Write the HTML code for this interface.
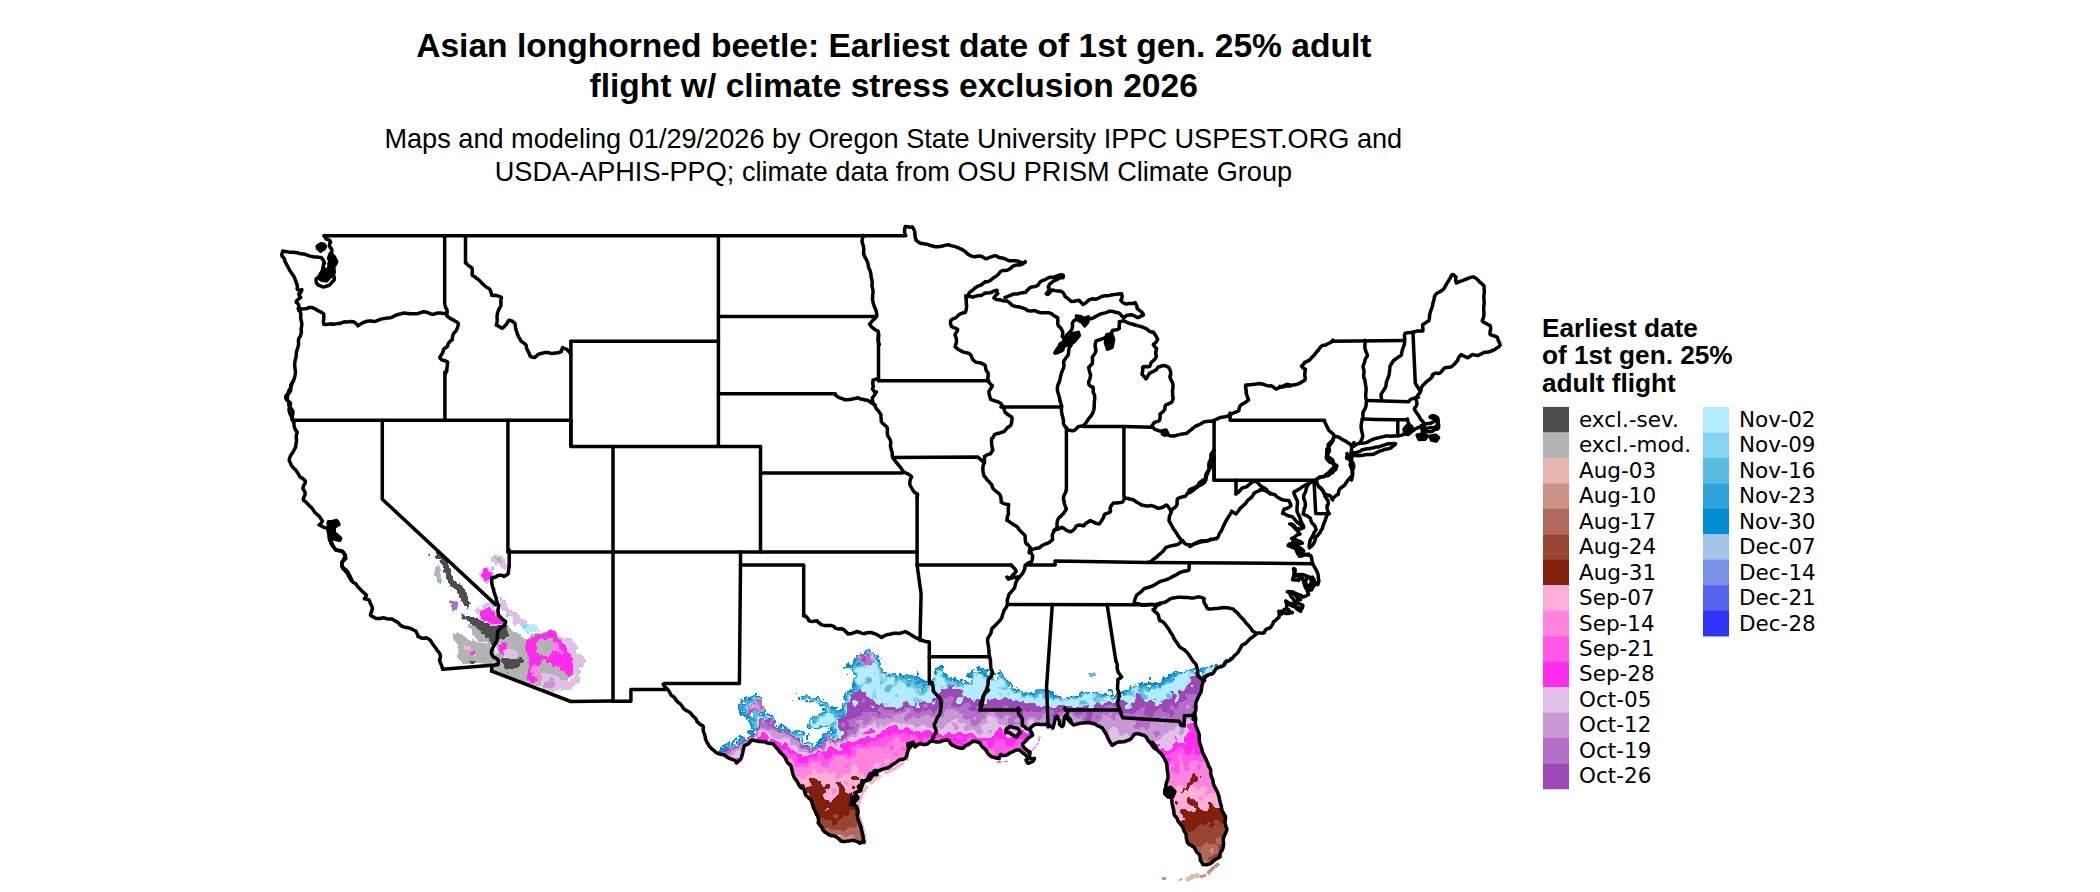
<!DOCTYPE html>
<html><head><meta charset="utf-8"><title>Asian longhorned beetle</title>
<style>
html,body{margin:0;padding:0;background:#fff;}
body{width:2100px;height:892px;position:relative;overflow:hidden;font-family:"Liberation Sans",sans-serif;}
svg{position:absolute;left:0;top:0;}
.t1{font:bold 33.6px "Liberation Sans",sans-serif;text-anchor:middle;}
.t2{font:27.13px "Liberation Sans",sans-serif;text-anchor:middle;}
.lt{font:bold 26.2px "Liberation Sans",sans-serif;}
.ll text{font:20.3px "DejaVu Sans",sans-serif;}
</style></head><body>
<svg width="2100" height="892" viewBox="0 0 2100 892">
<g id="title" fill="#000">
<text class="t1" x="893.8" y="57.2">Asian longhorned beetle: Earliest date of 1st gen. 25% adult</text>
<text class="t1" x="893.7" y="97.2">flight w/ climate stress exclusion 2026</text>
<text class="t2" x="893.3" y="147.7">Maps and modeling 01/29/2026 by Oregon State University IPPC USPEST.ORG and</text>
<text class="t2" x="893.4" y="180.9">USDA-APHIS-PPQ; climate data from OSU PRISM Climate Group</text>
</g>
<g id="raster" shape-rendering="crispEdges">
<path fill="#2E33F6" d="M847.2,675.0 846.5,674.8 847.8,674.0 848.0,674.2ZM931.8,676.0 931.5,675.2 932.2,674.5 932.5,675.2ZM823.8,700.0 823.0,699.8 823.2,699.0 824.0,699.2ZM828.8,729.5 828.0,727.8 828.2,727.5 829.5,728.2Z"/>
<path fill="#7B94EB" d="M878.8,655.5 878.0,655.2 878.2,654.0 879.0,654.2ZM1177.2,667.5 1176.8,667.5 1176.0,666.8 1177.2,666.5ZM1052.8,691.5 1051.8,691.5 1051.5,691.2 1052.2,690.5Z"/>
<path fill="#028CD2" d="M1202.8,865.0 1199.5,860.2 1199.0,856.8 1197.0,852.8 1194.5,849.2 1188.5,844.2 1185.5,836.2 1183.5,827.2 1177.5,820.2 1175.0,816.2 1174.0,814.2 1173.0,808.8 1171.5,805.2 1170.5,800.8 1168.0,795.8 1165.0,792.8 1166.0,787.8 1168.0,782.2 1168.0,772.2 1167.5,771.8 1166.0,764.2 1163.0,758.2 1157.5,750.8 1144.2,737.0 1138.8,733.5 1134.8,734.0 1130.8,739.0 1129.2,739.0 1118.8,742.0 1116.8,742.0 1111.8,745.5 1106.5,734.8 1101.2,728.5 1094.2,725.0 1092.2,725.0 1089.8,724.0 1073.2,724.5 1070.2,721.5 1068.0,720.2 1065.8,716.0 1062.2,726.0 1059.0,724.2 1057.5,715.8 1055.0,716.8 1054.5,722.2 1054.0,722.8 1054.0,726.2 1053.5,726.8 1053.2,729.0 1046.8,724.5 1035.8,724.5 1026.5,728.8 1033.0,734.8 1028.2,740.5 1023.2,743.5 1023.0,744.2 1025.2,748.0 1031.0,751.8 1028.0,756.8 1028.8,757.5 1035.5,758.2 1033.2,762.0 1032.2,762.0 1028.2,764.0 1026.0,759.8 1027.5,757.2 1025.8,756.0 1022.8,755.0 1018.8,750.5 1013.8,750.5 1008.2,755.5 1007.8,755.0 1001.8,755.0 999.2,759.5 997.2,758.5 992.2,757.5 985.5,750.8 979.2,742.5 977.2,742.5 974.2,741.5 971.8,741.5 967.8,743.5 963.2,747.5 962.8,747.0 956.2,747.0 948.8,742.0 946.8,742.0 943.8,741.0 931.8,741.0 927.8,743.0 920.2,745.5 917.8,747.0 915.8,746.0 914.2,746.0 913.5,744.8 913.5,743.2 912.8,742.5 908.2,743.5 908.0,744.8 908.5,745.2 909.0,749.8 906.5,754.8 901.2,760.0 895.2,764.0 888.2,767.5 882.2,768.5 877.2,772.0 872.8,774.0 870.0,779.2 865.2,782.0 863.0,784.8 860.5,791.2 855.0,793.2 857.0,797.2 857.0,798.2 854.8,802.5 850.5,803.8 854.8,806.5 855.5,807.8 858.0,818.2 859.0,820.2 859.0,821.8 862.5,832.8 864.0,842.2 862.8,841.5 859.8,844.0 852.2,841.0 840.8,840.0 823.0,831.2 814.0,812.8 809.5,799.2 803.0,789.2 795.0,779.8 791.5,771.8 791.5,770.8 790.0,768.2 790.0,767.2 782.5,753.8 772.8,743.0 766.8,741.0 758.8,741.0 758.2,741.5 751.8,741.5 750.8,742.0 745.5,745.8 743.5,751.8 743.5,753.2 742.0,756.8 742.0,758.2 736.8,764.0 728.8,758.0 718.0,751.8 720.0,749.2 720.5,747.2 721.2,746.5 722.2,748.5 724.0,747.8 723.2,746.5 721.8,746.5 721.5,745.8 722.8,744.5 723.2,745.0 724.8,744.0 725.8,744.0 726.2,743.0 727.8,743.0 729.0,741.8 728.5,741.2 728.8,740.0 729.5,740.2 729.0,740.8 729.5,741.2 729.5,745.2 730.2,746.0 731.0,745.2 731.0,743.8 732.0,742.8 732.0,741.2 732.8,741.0 735.8,737.5 737.2,737.0 737.5,738.8 735.8,740.0 733.8,742.5 732.5,742.8 732.8,743.5 737.2,746.0 738.5,744.8 736.0,744.2 736.0,741.8 738.0,740.2 738.8,738.5 740.0,738.2 739.2,737.0 738.0,736.8 738.8,735.5 740.2,734.5 741.8,736.5 742.2,736.0 743.8,737.0 745.2,736.5 745.0,738.2 746.2,739.5 747.0,738.8 746.5,737.2 747.2,736.5 748.8,737.0 751.0,734.8 747.8,734.0 747.0,731.8 748.8,730.0 753.2,729.5 753.5,728.8 752.2,728.5 751.8,729.0 751.0,728.2 750.5,725.8 749.5,725.2 749.5,723.2 747.0,720.8 749.0,720.2 748.8,718.5 748.2,718.5 746.8,720.5 745.5,718.2 746.0,717.2 745.8,716.5 744.8,716.5 743.8,717.5 743.5,715.8 742.8,715.0 741.2,716.5 740.0,716.2 739.5,713.8 738.5,712.2 739.0,710.8 738.0,709.2 738.0,704.8 737.5,704.2 739.2,704.0 740.0,703.2 740.0,702.2 741.5,701.2 741.2,700.5 739.0,699.2 739.2,699.0 741.8,698.5 742.0,699.8 743.2,700.0 744.0,699.2 744.0,697.8 744.8,697.0 745.8,697.0 746.2,696.0 747.0,696.8 747.0,698.2 748.2,699.0 748.2,697.0 749.2,696.5 751.2,697.0 751.8,696.0 754.8,694.5 755.8,693.0 757.0,693.8 757.0,694.8 756.0,695.2 756.2,696.5 756.8,696.0 759.8,696.0 761.2,697.0 762.0,698.2 762.5,701.8 761.5,702.8 761.5,703.8 762.5,705.8 764.5,706.8 764.0,707.8 766.0,709.8 766.0,711.2 764.5,712.2 764.5,714.8 764.0,715.2 764.8,715.5 765.8,715.0 766.8,713.0 769.2,714.0 770.2,715.0 770.8,714.5 772.2,715.0 775.5,720.2 775.5,722.8 774.5,723.2 774.5,724.2 777.0,725.2 777.5,726.2 777.0,727.2 777.2,728.0 778.0,727.8 778.0,726.8 780.0,724.2 781.5,723.2 781.8,721.5 782.5,722.2 782.0,723.2 783.0,724.8 789.2,729.0 789.8,728.5 791.0,731.2 792.2,732.0 793.2,731.0 794.2,731.5 796.8,729.5 799.2,730.0 800.2,731.0 803.8,731.5 805.0,732.8 804.5,733.8 805.0,734.2 803.0,736.2 802.5,737.8 803.0,742.2 804.8,743.5 807.2,741.5 810.8,743.0 811.8,742.5 813.0,744.2 813.0,746.2 813.8,747.0 814.8,747.0 814.5,745.8 815.8,744.5 817.5,744.2 817.2,743.0 816.2,743.5 815.5,742.8 816.2,742.0 817.2,742.5 819.0,739.2 821.5,737.8 822.0,734.8 823.0,734.2 823.0,733.2 824.8,732.5 825.2,733.0 826.8,733.0 827.2,731.0 830.2,730.5 830.5,727.8 828.8,725.5 828.5,726.2 826.8,727.5 822.8,727.0 819.2,729.0 818.2,728.5 817.2,729.0 816.8,728.5 813.8,728.5 813.2,728.0 809.2,729.0 807.0,727.8 806.5,725.2 808.5,723.8 808.5,721.2 809.5,719.8 809.5,718.8 811.8,717.5 813.2,715.5 815.2,715.5 817.2,717.0 818.0,716.2 818.0,714.8 819.8,713.0 821.8,713.5 822.8,712.0 825.8,712.5 826.0,711.8 823.8,710.5 822.8,711.5 822.0,709.2 822.8,707.5 823.2,708.0 825.8,708.0 826.0,707.2 823.8,705.5 822.8,705.5 821.8,707.0 820.8,706.0 819.2,706.0 818.5,703.8 814.2,701.0 813.8,701.5 811.8,701.5 809.8,703.0 809.0,702.2 810.0,699.8 807.8,698.0 805.8,699.5 801.8,700.0 801.0,699.2 800.5,697.8 801.0,696.8 800.5,696.2 804.2,696.0 806.2,694.0 809.2,696.0 810.2,696.0 811.0,697.8 812.8,699.0 814.8,697.5 815.8,698.0 816.8,699.5 816.0,697.8 817.0,696.8 816.5,696.2 817.2,695.5 819.0,696.8 819.0,697.8 821.8,701.0 825.2,702.5 825.8,702.0 827.2,702.5 829.0,706.2 830.2,707.5 831.5,707.2 831.2,706.0 832.8,706.0 834.2,707.0 837.8,706.5 838.0,708.2 835.5,708.8 835.5,710.2 836.2,711.5 837.8,710.0 839.2,710.5 840.2,709.0 841.2,709.5 842.0,708.8 842.0,706.2 842.5,705.8 842.0,702.8 842.5,702.8 843.2,704.5 844.2,704.5 844.0,703.2 844.8,703.0 846.0,701.2 843.0,698.8 844.0,697.2 843.0,696.8 844.0,695.2 844.0,694.2 845.0,693.8 844.5,692.2 845.8,692.0 846.5,693.8 847.2,694.0 847.2,691.0 849.2,690.5 850.2,689.0 853.2,689.5 854.0,688.8 852.8,688.5 851.5,686.8 851.5,684.8 853.0,682.2 852.5,681.8 852.5,679.2 853.2,678.0 856.5,677.2 856.0,675.2 855.2,674.5 854.2,674.5 851.5,671.2 851.5,669.8 851.0,669.2 852.0,668.8 851.8,668.0 846.8,667.5 845.2,668.5 843.8,668.5 843.0,667.2 845.8,667.0 846.0,665.8 845.5,664.8 847.2,663.5 848.2,662.0 849.0,662.8 849.0,663.8 851.2,665.0 853.0,663.2 853.0,661.8 852.5,661.2 853.2,660.5 855.0,660.2 853.8,660.0 853.5,658.8 855.5,658.2 856.5,655.2 857.2,654.5 857.8,655.0 858.2,654.5 859.8,654.5 859.8,653.0 860.8,653.5 863.8,653.5 865.2,650.5 869.2,649.0 870.2,649.5 871.0,651.2 874.5,654.2 874.5,656.2 875.2,657.0 876.8,655.0 878.5,656.2 879.0,657.2 878.0,658.8 880.0,660.2 879.5,661.8 881.0,663.8 881.0,664.8 880.0,665.2 880.5,667.2 882.0,668.2 883.0,670.2 882.5,671.8 883.2,672.5 884.8,671.5 886.5,672.2 887.0,673.8 886.2,674.0 886.0,674.8 886.8,675.5 889.0,674.2 888.5,672.8 889.2,672.5 889.8,673.5 891.2,673.5 891.8,674.0 893.2,673.0 895.2,673.0 897.8,676.0 898.8,676.0 899.5,675.2 898.5,673.8 899.8,673.0 902.0,674.2 901.5,674.8 901.8,675.5 902.8,675.5 903.2,674.5 905.8,675.0 907.2,674.0 908.2,675.0 911.2,674.5 912.8,675.5 914.8,675.5 915.2,675.0 915.8,676.0 916.8,676.0 917.0,674.8 916.5,674.2 917.0,673.8 917.2,671.0 919.0,673.8 919.0,675.2 918.2,675.5 918.0,676.2 920.5,677.8 920.8,679.5 922.2,679.0 923.2,680.0 924.8,680.0 926.2,681.0 927.2,680.5 928.2,681.0 928.2,681.5 927.2,681.5 926.5,682.2 927.2,683.5 927.8,683.5 929.2,681.5 931.2,683.5 931.5,682.2 931.0,680.8 931.5,679.8 934.5,678.2 935.0,674.8 933.5,673.2 934.5,672.2 934.0,671.8 935.0,670.2 934.5,669.2 937.2,667.0 938.2,667.5 942.2,664.0 942.5,665.2 943.5,666.2 943.5,668.2 942.5,669.2 942.5,670.8 943.5,671.8 943.5,673.2 944.8,673.5 945.8,673.0 946.0,673.8 947.5,674.8 948.2,678.0 951.2,677.0 952.0,677.8 952.0,678.8 952.8,679.0 953.8,677.5 955.2,677.0 957.8,680.0 958.2,679.5 959.2,680.5 959.8,680.5 960.8,679.0 962.2,679.0 963.0,679.8 961.5,682.2 961.8,683.0 965.0,682.2 964.0,680.8 964.2,680.0 965.8,680.0 966.2,681.0 967.8,682.0 968.8,682.0 969.2,683.0 970.2,683.0 971.0,681.8 971.0,680.2 972.5,679.2 971.2,678.0 968.8,678.5 967.8,677.0 965.8,677.0 965.5,676.2 967.8,673.0 971.0,672.2 970.5,671.2 971.0,670.2 970.0,669.8 970.2,669.5 972.8,670.0 974.8,668.5 975.0,669.2 973.0,670.8 973.2,672.0 976.2,672.0 977.2,673.0 980.2,671.5 980.5,672.2 981.2,672.5 980.2,671.0 978.2,671.5 976.5,670.2 976.5,669.8 977.5,669.2 975.8,668.0 975.5,667.2 976.2,666.5 977.8,666.5 978.2,666.0 979.8,666.5 979.5,667.2 980.2,668.0 983.2,668.5 983.8,667.5 985.2,669.5 986.2,669.5 987.2,668.5 989.2,670.0 991.2,670.5 993.2,673.0 994.8,672.5 996.0,673.8 996.2,675.5 994.8,674.5 992.2,675.0 991.2,673.5 989.8,674.0 988.8,673.5 988.0,672.8 989.8,672.5 989.8,671.0 988.2,671.0 988.0,672.2 987.2,672.5 986.5,673.8 990.2,676.5 993.8,677.5 994.0,678.2 993.2,678.5 993.0,679.2 994.8,680.0 997.0,679.8 997.0,677.8 998.5,675.8 998.5,674.8 997.0,673.2 999.2,672.0 1000.2,672.0 1000.2,671.0 998.5,670.8 1000.2,670.0 1003.5,674.8 1004.0,677.8 1006.2,678.5 1006.2,680.0 1007.2,680.0 1009.2,682.0 1010.2,682.0 1011.0,682.8 1012.5,684.8 1012.5,686.2 1013.0,686.8 1012.0,687.8 1012.8,688.5 1014.2,688.5 1014.8,688.0 1016.0,689.8 1015.8,690.5 1016.2,690.5 1017.2,689.0 1017.8,689.5 1018.8,689.0 1020.0,689.8 1019.5,691.2 1020.2,692.0 1022.2,691.0 1023.8,693.0 1026.2,692.0 1028.8,693.0 1030.2,693.0 1030.8,691.5 1032.2,692.5 1034.8,692.5 1035.0,689.8 1038.2,688.5 1044.2,688.5 1045.8,690.5 1047.8,690.5 1049.8,689.5 1050.5,690.2 1050.2,691.0 1052.8,691.5 1054.0,692.8 1053.5,693.2 1054.8,695.0 1055.8,695.5 1057.2,695.0 1057.8,696.5 1060.8,696.0 1062.2,698.5 1065.2,699.5 1065.8,699.0 1067.2,700.5 1067.5,699.8 1068.8,699.5 1069.0,698.8 1067.8,699.0 1066.0,697.2 1066.2,696.5 1067.2,697.0 1068.2,696.5 1069.0,697.8 1069.8,698.0 1070.0,696.8 1071.2,695.5 1072.8,696.5 1073.8,696.5 1074.8,695.5 1077.8,696.0 1079.0,695.2 1079.5,693.2 1081.2,691.0 1082.8,691.0 1083.8,693.0 1084.2,692.5 1084.8,693.0 1085.2,692.5 1089.2,692.0 1090.2,693.5 1091.8,693.5 1092.8,692.0 1096.8,691.5 1099.2,694.0 1101.2,694.0 1101.8,694.5 1103.2,694.5 1104.2,693.5 1106.8,693.0 1107.0,693.8 1106.5,694.8 1108.8,695.0 1109.2,695.5 1110.2,695.5 1111.8,694.5 1112.0,693.2 1112.8,693.0 1113.0,694.2 1114.0,695.2 1112.0,697.8 1113.2,698.5 1114.0,696.8 1115.5,695.2 1116.2,692.5 1117.8,692.5 1122.2,691.0 1123.2,691.5 1124.8,689.5 1127.2,689.5 1128.2,690.5 1129.0,689.8 1129.0,687.2 1130.0,686.2 1129.5,685.8 1129.8,685.0 1130.2,685.0 1131.8,687.0 1133.0,686.2 1132.8,685.0 1134.8,686.5 1135.8,686.0 1139.2,686.0 1139.5,684.8 1137.5,683.8 1138.2,682.5 1139.2,682.5 1139.8,683.5 1143.2,681.5 1143.5,683.2 1142.5,684.2 1143.2,684.5 1144.2,683.5 1147.8,683.0 1148.0,681.2 1148.8,680.5 1149.0,681.2 1150.8,682.5 1153.2,683.0 1154.2,681.5 1155.2,681.5 1157.2,683.0 1159.8,683.5 1160.5,682.8 1160.5,681.8 1162.0,680.8 1162.0,678.8 1163.2,676.0 1164.5,676.8 1164.5,677.8 1165.2,678.5 1166.2,677.0 1167.2,677.0 1168.0,676.2 1167.8,675.0 1169.2,674.0 1170.2,674.5 1170.8,673.5 1171.8,673.5 1173.2,672.5 1174.2,671.0 1176.8,670.5 1179.2,672.5 1179.8,672.0 1180.2,672.5 1181.8,672.0 1183.2,672.5 1183.2,673.5 1184.2,673.5 1184.5,672.2 1183.8,672.5 1183.8,671.5 1184.8,671.5 1186.8,669.5 1188.2,670.5 1189.5,669.8 1189.8,668.5 1191.2,668.5 1191.8,669.0 1192.8,668.5 1193.2,667.5 1196.2,667.5 1197.0,668.2 1197.0,669.8 1197.8,670.5 1198.8,670.5 1199.5,668.8 1200.2,668.0 1201.2,668.5 1202.2,667.0 1203.2,667.0 1204.8,668.0 1207.2,666.0 1207.8,667.0 1208.8,667.0 1209.8,666.0 1211.2,666.0 1211.8,665.0 1213.5,666.2 1212.8,666.5 1211.5,668.2 1212.8,669.5 1213.8,669.5 1214.0,667.8 1213.5,666.8 1214.2,666.5 1214.8,667.5 1215.5,667.2 1214.0,665.2 1214.8,664.5 1217.8,664.0 1218.0,667.2 1218.5,667.8 1218.0,668.8 1212.2,673.0 1205.0,680.2 1204.0,682.2 1204.0,683.2 1202.5,685.8 1202.5,686.8 1201.5,688.2 1201.0,690.8 1200.0,692.2 1199.5,694.8 1196.5,701.8 1195.5,708.2 1194.5,710.8 1194.5,713.8 1195.0,714.2 1195.0,716.8 1196.0,719.8 1196.5,724.8 1197.0,725.2 1198.0,731.2 1198.5,731.8 1201.5,745.2 1202.5,747.2 1203.5,752.8 1209.0,767.8 1209.0,769.2 1214.0,784.2 1214.0,785.8 1216.0,790.8 1216.0,792.2 1219.0,801.2 1220.0,802.8 1222.5,811.2 1224.5,815.8 1225.5,830.8 1224.5,834.2 1223.5,843.2 1219.5,857.2 1214.8,861.5 1213.8,861.5 1208.2,864.0 1205.8,864.0ZM1234.2,657.0 1233.5,656.8 1233.8,656.0 1235.0,656.2ZM1224.2,664.5 1222.2,664.5 1221.5,663.2 1222.2,663.0 1225.2,659.5 1228.8,658.5 1230.2,656.5 1231.2,656.5 1232.5,657.8 1232.5,658.2 1230.2,660.0 1229.8,660.0 1229.2,659.0 1228.5,659.8 1228.5,661.2ZM882.2,659.0 881.0,658.2 881.8,657.5 882.5,657.8ZM859.0,662.2 860.0,661.8 857.8,660.0 857.5,661.2ZM1221.2,666.5 1220.2,666.0 1219.5,664.8 1220.2,664.0 1222.5,665.8ZM865.0,665.8 864.8,665.0 864.0,665.2 864.2,666.0ZM1195.5,671.8 1196.5,669.8 1195.8,669.0 1194.0,669.8 1194.5,671.8ZM1201.5,675.8 1202.0,675.2 1202.0,672.2 1200.8,671.5 1200.0,672.2 1200.0,674.2 1201.2,676.0ZM1090.2,677.5 1088.0,673.2 1093.8,672.5 1094.2,672.0 1096.5,675.2ZM1176.0,673.2 1175.8,672.0 1174.5,672.8 1174.8,673.5ZM972.0,676.8 972.5,676.2 972.2,675.5 971.5,676.2 971.5,676.8ZM933.2,678.0 932.8,678.0 932.5,677.2 933.8,676.5 934.0,677.2ZM985.5,677.8 986.0,677.2 985.2,676.5 984.0,677.2 984.8,678.0ZM1149.8,680.0 1149.2,680.0 1148.5,678.8 1149.0,677.2 1150.2,676.5 1151.0,677.2 1151.0,679.2ZM903.5,680.8 904.0,679.2 903.2,678.5 902.0,680.8ZM911.0,679.8 910.2,679.0 908.0,679.2 908.2,680.0ZM953.5,681.2 953.2,680.0 952.0,680.2 952.2,681.0ZM1010.5,687.8 1011.0,684.8 1009.8,683.0 1009.5,686.2 1007.5,687.2 1008.2,688.0 1008.8,687.5 1009.8,688.0ZM958.5,684.2 958.8,683.5 957.5,684.2 957.8,684.5ZM934.5,685.8 935.0,685.2 933.8,684.0 932.5,684.2 933.8,686.0ZM1136.2,685.0 1134.8,685.0 1134.5,684.2 1135.8,684.5 1136.2,684.0ZM1158.0,686.2 1158.0,685.8 1156.2,684.5 1155.5,685.2 1155.8,686.5ZM1150.0,688.2 1151.0,686.8 1151.0,685.8 1149.8,685.0 1147.8,685.0 1147.0,686.2 1147.8,687.0 1148.8,687.0 1148.5,687.8 1149.2,688.5ZM1016.8,688.0 1016.2,687.5 1015.5,687.2 1016.8,687.0ZM920.5,690.8 920.8,690.5 922.5,689.8 919.2,689.0 918.5,690.2 919.8,691.0ZM1078.2,690.5 1077.5,690.2 1078.2,689.0 1078.5,689.2ZM1113.2,692.5 1112.2,692.5 1110.8,691.0 1107.8,692.0 1107.5,690.2 1108.2,689.5 1111.8,689.0 1112.5,689.8 1112.5,691.2ZM1016.5,691.8 1016.2,691.0 1014.2,690.5 1014.2,689.5 1013.5,690.2 1013.5,690.8 1015.2,692.0ZM797.2,694.0 796.0,693.8 797.2,692.5 797.5,692.8ZM851.5,694.2 852.0,692.8 850.2,692.5 849.5,693.8 850.2,694.5ZM1081.5,694.8 1082.0,693.8 1081.8,693.5 1080.5,694.2 1080.8,695.0ZM1121.0,695.8 1123.2,695.0 1123.5,694.2 1121.2,693.5 1119.0,694.2 1119.2,695.0ZM812.8,698.0 812.5,697.8 812.8,695.5 813.5,696.8ZM799.2,700.5 797.0,700.2 798.0,699.2 797.5,697.8 798.8,696.5 799.5,696.8 800.0,697.8 799.5,698.8 800.5,699.8ZM1052.0,698.2 1052.5,697.8 1051.2,697.0 1050.0,697.8 1050.2,698.5 1050.8,698.0ZM753.0,700.2 752.8,699.0 751.5,699.2 752.2,700.5ZM793.2,701.5 792.0,701.2 792.2,700.0 793.5,700.2ZM805.8,702.0 804.5,701.8 807.2,700.0 808.0,700.8 807.8,701.5 806.2,701.5ZM744.0,704.2 745.5,703.8 745.5,702.8 744.8,702.0 743.8,702.0 742.0,703.2 742.2,704.5ZM742.0,711.8 740.8,710.5 740.5,710.8 741.2,712.0ZM745.0,712.2 745.5,711.8 744.8,711.0 743.2,711.0 742.5,711.8 742.8,712.5ZM762.5,712.2 762.2,711.5 761.5,711.8 761.8,712.5ZM753.0,717.8 752.5,716.2 753.0,715.2 752.5,714.2 753.0,713.8 752.2,713.0 751.2,713.0 750.0,715.2 751.2,717.0ZM762.5,715.2 762.5,714.8 761.2,714.0 760.0,714.8 760.2,715.5ZM842.5,715.2 842.2,714.0 841.0,714.2 841.2,715.0ZM845.0,716.2 845.2,715.5 844.0,715.8 844.8,716.5ZM837.5,718.2 837.8,716.5 835.5,716.8 836.2,718.0ZM752.5,724.2 753.0,723.8 752.8,723.0 751.0,723.8 751.2,724.5ZM783.5,728.8 783.5,726.8 782.2,725.5 781.5,726.2 782.0,726.8 782.0,728.8ZM755.5,733.8 756.0,731.8 754.2,730.5 753.5,731.8 754.0,732.8ZM831.5,732.8 831.5,731.2 830.8,731.0 830.0,732.8ZM800.5,733.8 802.0,732.8 800.8,731.5 798.0,733.2 798.8,734.0ZM806.2,740.5 805.5,740.2 805.5,738.8 806.0,738.2 806.0,736.8 805.5,736.2 806.2,736.0 806.8,735.0 808.0,734.8 807.5,732.8 808.2,732.5 810.0,735.8 809.2,736.5 808.8,735.0 808.0,735.8 808.5,736.8 807.5,738.8 808.0,739.2ZM834.5,734.8 834.8,734.5 836.0,734.2 835.2,733.5 834.2,733.5 834.0,734.8ZM820.5,744.8 821.0,744.2 820.8,743.5 820.0,744.2 820.0,744.8Z"/>
<path fill="#2EA4DA" d="M1202.8,865.0 1199.5,860.2 1199.0,856.8 1197.0,852.8 1194.5,849.2 1188.5,844.2 1185.5,836.2 1183.5,827.2 1177.5,820.2 1175.0,816.2 1174.0,814.2 1173.0,808.8 1171.5,805.2 1170.5,800.8 1168.0,795.8 1165.0,792.8 1166.0,787.8 1168.0,782.2 1168.0,772.2 1167.5,771.8 1166.0,764.2 1163.0,758.2 1157.5,750.8 1144.2,737.0 1138.8,733.5 1134.8,734.0 1130.8,739.0 1129.2,739.0 1118.8,742.0 1116.8,742.0 1111.8,745.5 1106.5,734.8 1101.2,728.5 1094.2,725.0 1092.2,725.0 1089.8,724.0 1073.2,724.5 1070.2,721.5 1068.0,720.2 1065.8,716.0 1062.2,726.0 1059.0,724.2 1057.5,715.8 1055.0,716.8 1054.5,722.2 1054.0,722.8 1054.0,726.2 1053.5,726.8 1053.2,729.0 1046.8,724.5 1035.8,724.5 1026.5,728.8 1033.0,734.8 1028.2,740.5 1023.2,743.5 1023.0,744.2 1025.2,748.0 1031.0,751.8 1028.0,756.8 1028.8,757.5 1035.5,758.2 1033.2,762.0 1032.2,762.0 1028.2,764.0 1026.0,759.8 1027.5,757.2 1025.8,756.0 1022.8,755.0 1018.8,750.5 1013.8,750.5 1008.2,755.5 1007.8,755.0 1001.8,755.0 999.2,759.5 997.2,758.5 992.2,757.5 985.5,750.8 979.2,742.5 977.2,742.5 974.2,741.5 971.8,741.5 967.8,743.5 963.2,747.5 962.8,747.0 956.2,747.0 948.8,742.0 946.8,742.0 943.8,741.0 931.8,741.0 927.8,743.0 920.2,745.5 917.8,747.0 915.8,746.0 914.2,746.0 913.5,744.8 913.5,743.2 912.8,742.5 908.2,743.5 908.0,744.8 908.5,745.2 909.0,749.8 906.5,754.8 901.2,760.0 895.2,764.0 888.2,767.5 882.2,768.5 877.2,772.0 872.8,774.0 870.0,779.2 865.2,782.0 863.0,784.8 860.5,791.2 855.0,793.2 857.0,797.2 857.0,798.2 854.8,802.5 850.5,803.8 854.8,806.5 855.5,807.8 858.0,818.2 859.0,820.2 859.0,821.8 862.5,832.8 864.0,842.2 862.8,841.5 859.8,844.0 852.2,841.0 840.8,840.0 823.0,831.2 814.0,812.8 809.5,799.2 803.0,789.2 795.0,779.8 791.5,771.8 791.5,770.8 790.0,768.2 790.0,767.2 782.5,753.8 772.8,743.0 766.8,741.0 758.8,741.0 758.2,741.5 751.8,741.5 750.8,742.0 745.5,745.8 743.5,751.8 743.5,753.2 742.0,756.8 742.0,758.2 736.8,764.0 731.8,760.0 720.0,752.8 724.8,750.0 725.8,750.5 727.0,749.8 725.0,746.8 725.0,745.2 727.2,743.5 729.0,743.2 729.0,745.2 728.2,746.5 729.2,746.5 729.8,745.5 730.8,746.5 732.8,744.0 735.2,745.5 736.8,745.5 737.2,746.0 738.5,744.2 736.8,744.0 736.5,742.2 737.2,741.0 739.8,741.0 741.0,739.2 741.2,737.5 743.2,738.5 744.8,738.0 745.0,738.8 746.2,739.5 747.0,738.8 746.5,737.8 747.2,737.0 748.8,737.5 749.5,736.2 751.2,735.0 752.2,736.0 753.2,736.0 754.0,734.8 753.0,734.2 753.2,733.0 754.2,733.5 754.8,734.5 755.5,733.8 756.0,731.2 754.2,730.0 754.0,728.8 753.2,728.0 752.2,728.0 752.5,727.2 750.5,725.8 750.8,724.5 752.2,725.0 754.0,722.8 753.2,722.5 750.8,723.5 749.0,721.8 749.5,719.2 748.5,717.8 748.2,715.0 746.2,714.5 745.2,715.5 743.0,714.8 744.8,714.5 744.2,713.5 743.2,714.0 741.0,713.8 740.8,712.5 742.8,712.5 743.2,713.0 743.8,712.5 745.2,712.5 746.0,711.8 744.2,710.5 742.2,711.5 741.2,710.0 739.8,710.0 739.0,708.8 739.0,706.2 738.5,705.8 738.5,704.8 740.5,703.2 740.5,702.2 741.8,702.0 742.0,700.8 743.2,700.0 746.2,699.0 747.8,700.0 748.2,699.5 749.2,700.0 750.2,699.5 751.8,700.5 753.2,700.5 753.5,699.2 752.8,698.5 751.2,698.5 751.0,697.8 754.2,695.5 755.2,695.5 756.2,697.0 759.8,696.5 761.5,697.8 761.5,699.2 762.0,699.8 761.5,703.8 763.0,706.8 765.5,709.8 764.0,712.2 764.0,713.8 763.2,714.5 760.2,714.0 759.0,714.8 759.8,715.5 760.8,716.0 764.2,716.0 766.2,714.5 767.8,714.5 769.8,716.0 772.8,717.0 775.0,720.2 775.0,721.8 774.0,723.2 774.5,724.2 776.5,725.8 776.0,726.2 776.5,727.2 777.2,728.0 778.2,728.0 780.2,727.0 781.5,727.8 782.2,730.0 785.2,730.0 784.5,728.2 785.8,728.0 787.2,728.5 789.2,730.5 790.2,730.5 790.5,731.2 792.8,733.0 795.8,731.5 796.2,730.5 798.2,730.0 800.0,731.2 799.2,732.5 798.2,732.5 797.5,733.2 799.2,734.5 800.2,734.5 803.8,732.0 804.5,733.8 803.0,735.8 802.5,739.2 802.0,739.8 802.0,740.8 803.8,743.5 805.8,743.5 807.8,742.0 810.2,743.5 811.2,743.0 812.5,744.8 812.5,747.2 815.2,748.5 816.0,746.2 818.2,746.0 819.2,744.0 820.2,745.5 822.5,741.2 822.0,740.2 823.8,738.0 825.0,737.8 824.8,737.0 822.5,736.8 822.5,735.2 823.8,733.5 824.2,734.0 824.8,733.5 826.8,733.5 827.5,732.8 827.0,732.2 827.2,731.5 829.8,731.5 829.8,733.5 831.2,733.5 832.8,732.5 833.8,732.5 833.5,734.8 834.2,735.0 836.0,734.2 834.5,732.2 835.0,731.8 832.5,730.8 832.0,729.8 832.5,729.2 829.2,725.5 827.8,726.5 825.8,726.5 825.2,727.0 824.2,726.5 821.2,726.5 821.0,727.2 819.2,728.5 817.2,728.5 816.8,728.0 813.8,728.5 811.8,727.5 809.8,728.5 807.5,727.8 807.5,726.2 808.0,725.8 807.5,725.2 809.0,723.8 809.0,721.2 810.0,719.8 810.0,718.8 811.8,718.5 813.8,716.0 815.2,716.0 816.2,716.5 816.8,717.5 818.0,716.2 818.5,714.2 820.2,713.0 821.2,714.0 822.2,714.0 822.8,712.5 825.8,713.0 826.5,711.8 824.2,710.0 823.5,708.8 825.2,708.5 826.5,707.2 823.2,704.5 821.2,706.0 821.0,705.2 819.8,705.0 818.2,703.0 817.2,703.0 814.2,701.0 810.2,701.0 810.5,700.2 810.0,699.2 808.2,698.5 807.8,697.5 805.8,699.5 802.8,699.5 802.2,700.0 801.0,698.2 801.5,697.8 801.0,696.8 802.8,696.0 803.2,697.5 806.8,695.0 810.2,697.0 812.2,699.5 814.2,698.0 815.2,698.0 816.2,700.0 817.0,699.2 817.0,697.2 817.8,696.5 820.5,699.8 820.8,701.0 823.2,702.5 826.8,703.0 828.5,706.2 829.8,707.5 831.2,708.0 831.8,709.0 832.8,709.5 834.8,708.5 835.8,712.0 836.2,712.0 837.2,710.5 838.8,711.0 839.8,710.5 841.2,711.0 841.8,710.5 842.8,711.0 843.0,709.2 842.5,708.8 843.0,708.2 842.5,706.8 843.5,705.2 844.5,704.8 844.5,703.8 846.0,701.8 845.5,699.2 844.0,698.2 845.5,697.8 845.0,696.2 845.5,694.2 847.5,694.2 848.0,693.2 847.5,692.8 847.8,691.5 848.2,692.0 848.8,691.5 850.8,691.5 851.0,691.8 849.5,692.8 849.5,694.2 850.8,695.0 851.8,694.5 852.5,693.8 852.0,692.8 853.0,691.2 852.2,691.0 851.2,691.5 850.5,690.2 851.8,689.0 852.8,690.0 854.2,689.5 854.5,688.8 852.5,687.8 853.2,687.0 854.2,687.5 854.8,686.5 856.0,686.2 855.0,684.8 855.0,683.2 853.0,680.8 853.0,678.8 853.8,678.0 856.2,677.5 856.5,675.8 856.0,674.8 852.0,671.2 851.5,669.8 852.0,669.2 852.0,667.8 851.0,666.8 852.5,665.8 852.5,664.8 854.5,662.8 854.5,661.2 856.5,660.8 855.5,659.2 856.0,658.8 856.0,657.2 857.0,656.2 857.0,655.2 859.2,654.5 859.8,655.0 860.8,654.0 862.2,654.0 862.8,654.5 864.8,653.5 865.8,654.0 866.5,653.2 866.5,652.8 865.5,652.2 866.0,650.8 868.2,649.5 868.8,650.0 869.2,649.5 870.2,650.0 870.0,650.8 871.8,652.5 874.0,653.8 874.0,655.8 875.2,657.5 878.0,656.2 878.0,657.8 877.0,658.8 877.5,661.2 879.0,662.2 880.0,664.2 879.5,664.8 879.5,666.2 880.5,667.8 881.5,668.2 883.2,673.0 885.2,672.0 886.5,673.2 886.0,674.8 887.2,676.0 889.5,675.2 889.0,674.8 889.5,674.2 889.2,673.5 890.8,673.5 892.2,674.5 892.8,673.5 894.2,673.0 896.0,674.2 896.5,675.2 896.0,675.8 896.2,677.0 897.2,676.0 899.2,676.0 899.8,675.5 901.8,677.5 902.8,677.5 903.0,678.2 901.5,680.2 902.2,681.0 903.2,681.0 904.0,680.2 904.0,678.2 903.0,677.2 903.5,676.8 903.5,675.2 904.2,674.5 906.2,676.5 906.5,675.2 907.2,675.0 908.2,675.5 908.8,676.5 909.8,676.0 914.8,676.5 916.2,678.0 919.2,678.5 920.5,679.8 920.5,681.2 919.2,681.5 917.8,681.0 917.5,681.8 918.8,683.0 923.2,681.5 923.8,682.0 925.2,682.0 927.2,684.0 930.2,683.5 931.2,684.5 932.2,684.5 933.2,686.0 934.2,686.0 935.0,685.2 931.5,681.2 932.8,679.5 934.5,678.8 934.5,676.2 935.5,675.2 935.0,674.2 936.5,673.2 935.5,670.2 936.8,669.0 938.2,669.0 940.8,667.5 942.5,668.8 943.0,674.2 944.2,673.5 945.0,673.8 944.0,675.8 945.8,677.0 946.2,676.5 948.2,679.0 949.2,679.0 951.2,677.5 952.0,679.2 951.2,679.5 951.0,680.2 951.8,681.0 953.2,681.5 953.8,681.5 954.2,680.5 954.8,681.0 955.2,680.5 956.8,680.5 959.2,681.5 961.8,681.0 961.5,683.2 962.2,684.0 965.8,681.5 966.8,682.5 968.2,682.5 969.8,683.5 971.0,682.2 972.5,679.2 971.5,677.8 973.0,676.2 972.8,675.0 970.5,676.2 970.0,675.2 970.5,674.8 970.5,673.2 971.8,673.0 971.5,672.2 972.2,671.5 973.8,672.5 976.2,672.0 977.8,673.5 979.2,672.5 980.8,673.5 981.8,673.5 983.0,671.8 981.5,670.8 981.0,669.2 983.8,669.0 983.8,671.0 984.2,670.5 984.8,671.0 987.5,671.2 985.8,674.0 984.2,673.0 983.0,673.8 984.5,675.8 984.0,676.2 984.0,677.8 987.8,678.0 988.2,680.5 989.5,679.2 989.5,678.2 987.8,676.0 987.2,676.5 985.8,676.5 985.5,675.8 986.2,675.0 988.8,675.5 990.2,677.0 991.8,677.0 992.5,677.8 992.8,679.5 996.8,680.0 997.0,678.2 999.0,675.2 998.0,674.2 998.8,673.5 999.8,673.5 1000.8,672.0 1002.5,673.8 1003.0,676.8 1004.5,679.2 1007.8,681.0 1009.0,682.8 1009.5,686.2 1007.8,686.5 1007.5,687.2 1008.2,688.0 1008.8,687.5 1009.8,688.0 1011.2,687.5 1011.5,688.2 1013.0,689.2 1013.0,690.8 1015.2,692.5 1016.2,692.5 1018.2,689.5 1019.5,690.2 1019.5,691.2 1020.2,692.0 1022.2,692.0 1023.0,692.8 1022.5,694.8 1023.8,695.5 1025.2,695.0 1026.8,693.0 1027.8,693.5 1031.2,693.5 1033.8,695.0 1036.0,692.2 1036.2,689.5 1043.2,689.0 1046.2,692.5 1047.2,692.0 1047.8,693.0 1049.8,693.5 1051.2,695.0 1055.2,697.0 1061.2,697.5 1061.8,698.5 1064.8,699.0 1067.2,700.5 1070.0,698.2 1070.2,697.0 1071.8,696.5 1073.2,697.0 1075.8,696.5 1077.2,697.5 1079.8,695.5 1080.2,694.5 1080.8,695.5 1081.8,695.5 1082.0,693.2 1081.0,692.8 1081.8,691.0 1082.2,691.0 1083.0,691.8 1083.0,692.8 1084.2,693.5 1086.8,692.5 1089.2,692.5 1090.2,693.5 1092.2,693.5 1092.5,692.8 1093.8,692.0 1095.8,692.0 1099.2,694.5 1100.8,694.5 1102.8,696.0 1104.8,695.0 1106.2,695.5 1107.8,695.5 1108.2,695.0 1110.2,696.0 1111.2,695.5 1112.0,696.2 1111.5,697.2 1112.0,698.2 1112.8,699.0 1113.8,699.0 1114.0,697.8 1115.8,697.5 1118.2,694.5 1119.8,695.0 1120.8,696.5 1124.5,694.2 1123.8,693.0 1122.8,693.5 1122.8,692.5 1126.2,691.0 1128.2,691.0 1128.8,691.5 1130.8,686.5 1131.2,687.0 1132.8,687.0 1136.2,686.0 1137.8,686.5 1139.2,686.0 1140.2,686.5 1140.8,686.0 1141.0,687.2 1141.8,687.5 1142.5,686.8 1142.2,686.0 1141.0,685.8 1141.8,684.5 1142.2,685.0 1145.2,684.5 1147.0,686.8 1149.8,689.0 1151.8,686.0 1153.2,686.0 1154.8,684.5 1155.8,686.5 1157.2,686.0 1158.2,686.5 1158.8,685.5 1161.2,685.0 1163.2,681.5 1164.2,681.0 1165.2,681.5 1166.0,681.2 1165.0,680.2 1166.2,678.5 1166.8,679.0 1168.2,679.0 1169.2,677.5 1170.2,677.5 1171.0,676.8 1171.0,675.8 1171.8,675.0 1172.8,675.5 1173.8,673.5 1175.8,674.0 1176.5,672.8 1176.0,672.2 1176.2,671.5 1176.8,672.0 1178.2,672.0 1179.2,673.0 1182.2,672.5 1182.8,673.5 1184.2,673.5 1186.2,670.5 1187.2,670.0 1188.8,670.5 1189.8,669.5 1192.2,669.5 1192.8,669.0 1194.0,669.2 1193.5,670.8 1194.8,672.5 1196.0,672.2 1196.8,670.0 1197.8,671.0 1199.2,671.0 1199.8,670.5 1200.0,672.2 1199.5,672.8 1199.5,674.2 1200.5,676.2 1201.2,676.5 1203.0,672.2 1202.5,671.8 1203.0,671.2 1202.8,670.5 1201.8,671.0 1201.0,670.8 1201.0,669.2 1202.2,668.0 1203.2,668.0 1204.2,669.0 1205.2,668.5 1205.8,667.5 1207.8,667.5 1209.8,666.0 1211.5,666.8 1211.0,667.8 1213.2,670.0 1214.2,669.5 1214.5,668.2 1216.0,667.2 1215.5,666.2 1216.0,665.2 1217.2,664.5 1217.5,666.8 1218.0,667.2 1217.5,669.2 1212.2,673.0 1205.0,680.2 1204.0,682.2 1204.0,683.2 1202.5,685.8 1202.5,686.8 1201.5,688.2 1201.0,690.8 1200.0,692.2 1199.5,694.8 1196.5,701.8 1195.5,708.2 1194.5,710.8 1194.5,713.8 1195.0,714.2 1195.0,716.8 1196.0,719.8 1196.5,724.8 1197.0,725.2 1198.0,731.2 1198.5,731.8 1201.5,745.2 1202.5,747.2 1203.5,752.8 1209.0,767.8 1209.0,769.2 1214.0,784.2 1214.0,785.8 1216.0,790.8 1216.0,792.2 1219.0,801.2 1220.0,802.8 1222.5,811.2 1224.5,815.8 1225.5,830.8 1224.5,834.2 1223.5,843.2 1219.5,857.2 1214.8,861.5 1213.8,861.5 1208.2,864.0 1205.8,864.0ZM881.8,659.0 881.0,658.2 882.2,657.5 882.5,658.2ZM1230.2,660.0 1230.0,658.2 1230.8,657.5 1231.8,657.5 1232.5,658.2ZM1224.2,664.5 1222.5,663.8 1223.5,662.2 1224.2,662.0 1226.2,659.5 1228.2,659.0 1228.0,661.2ZM860.0,662.2 859.8,661.5 857.5,660.2 857.5,661.8 858.2,662.5ZM857.0,664.8 859.2,663.5 860.8,664.0 861.0,663.2 858.8,663.0 858.2,663.5 857.2,663.0 856.0,664.8ZM865.0,665.8 864.2,664.5 863.5,665.2 863.8,666.0ZM1195.8,669.0 1194.8,669.0 1194.5,668.2 1196.2,668.0ZM980.2,670.5 979.8,670.0 979.2,670.5 978.0,670.2 978.5,669.2 979.2,669.0 980.5,669.8ZM1090.2,677.5 1088.0,673.2 1093.8,672.5 1094.2,672.0 1096.5,675.2ZM1175.5,676.2 1175.5,675.2 1174.8,674.5 1174.0,675.8 1174.8,676.5ZM911.0,680.2 911.0,679.2 910.2,678.5 908.2,678.5 907.5,679.2 908.2,680.5ZM915.5,679.8 915.5,679.2 914.8,678.5 914.5,679.2ZM1173.0,680.8 1173.5,679.2 1171.8,679.0 1171.5,679.8 1172.0,680.8ZM1169.0,680.2 1168.8,679.5 1168.0,679.8 1168.2,680.5ZM909.0,682.2 908.8,681.5 907.0,681.8 908.2,682.5ZM917.0,683.8 916.2,682.5 915.0,682.2 915.2,683.5 916.2,684.0ZM959.0,684.2 958.8,683.0 957.5,684.2 957.8,684.5ZM909.5,684.8 909.8,684.0 909.2,684.5 908.8,684.0 907.0,684.2 908.8,685.0ZM923.5,686.8 924.0,684.8 923.2,684.0 922.5,684.8 922.5,685.8 923.0,686.8ZM1011.8,687.5 1011.0,686.8 1011.2,686.0 1012.0,686.8ZM921.5,690.8 921.8,690.0 922.2,690.5 923.0,689.8 922.2,689.0 920.8,689.0 920.2,688.5 919.8,688.5 918.5,690.2 919.8,691.0 920.8,690.5ZM1078.2,690.5 1077.5,690.2 1078.2,689.0 1078.5,689.2ZM1052.5,698.2 1052.5,697.2 1050.8,696.0 1049.5,697.8 1050.2,698.5 1050.8,698.0 1051.2,698.5ZM798.8,700.0 798.0,699.8 798.5,699.2 798.0,698.8 799.2,697.0 799.5,699.2ZM793.2,701.5 792.0,701.2 792.2,700.0 793.5,700.2ZM744.0,704.8 746.0,703.8 746.0,702.8 744.8,701.0 741.5,702.8 741.5,704.2 742.2,705.0ZM762.5,712.8 763.0,712.2 762.2,711.5 761.0,711.8 761.8,713.0ZM754.5,719.2 753.0,717.2 753.0,714.8 752.5,714.2 753.0,713.2 751.8,712.5 750.5,713.8 749.0,717.2 751.2,717.0 753.2,719.5ZM845.0,716.8 845.5,715.8 845.2,715.0 843.2,715.0 842.2,713.5 841.2,713.5 840.5,714.2 840.5,715.2 841.8,717.0 842.8,716.0ZM837.5,718.2 838.0,717.8 838.0,716.2 839.2,714.5 838.2,714.5 837.8,716.0 836.2,716.0 835.0,716.8 836.2,718.0ZM836.0,730.2 836.0,729.8 835.2,729.0 835.0,729.8ZM750.8,734.0 749.5,733.2 749.5,731.8 750.2,731.0 751.5,731.8 751.0,732.8 751.5,733.2ZM829.5,735.2 828.8,735.0 828.2,734.0 828.0,734.2 828.2,735.5ZM806.2,739.5 806.0,737.8 806.8,737.5 807.0,738.2ZM734.2,742.0 733.5,741.8 733.8,741.0 734.5,741.2ZM819.8,744.0 819.5,743.2 820.2,742.5 820.5,743.2Z"/>
<path fill="#5BBCE1" d="M1202.8,865.0 1199.5,860.2 1199.0,856.8 1197.0,852.8 1194.5,849.2 1188.5,844.2 1185.5,836.2 1183.5,827.2 1177.5,820.2 1175.0,816.2 1174.0,814.2 1173.0,808.8 1171.5,805.2 1170.5,800.8 1168.0,795.8 1165.0,792.8 1166.0,787.8 1168.0,782.2 1168.0,772.2 1167.5,771.8 1166.0,764.2 1163.0,758.2 1157.5,750.8 1144.2,737.0 1138.8,733.5 1134.8,734.0 1130.8,739.0 1129.2,739.0 1118.8,742.0 1116.8,742.0 1111.8,745.5 1106.5,734.8 1101.2,728.5 1094.2,725.0 1092.2,725.0 1089.8,724.0 1073.2,724.5 1070.2,721.5 1068.0,720.2 1065.8,716.0 1062.2,726.0 1059.0,724.2 1057.5,715.8 1055.0,716.8 1054.5,722.2 1054.0,722.8 1054.0,726.2 1053.5,726.8 1053.2,729.0 1046.8,724.5 1035.8,724.5 1026.5,728.8 1033.0,734.8 1028.2,740.5 1023.2,743.5 1023.0,744.2 1025.2,748.0 1031.0,751.8 1028.0,756.8 1028.8,757.5 1035.5,758.2 1033.2,762.0 1032.2,762.0 1028.2,764.0 1026.0,759.8 1027.5,757.2 1025.8,756.0 1022.8,755.0 1018.8,750.5 1013.8,750.5 1008.2,755.5 1007.8,755.0 1001.8,755.0 999.2,759.5 997.2,758.5 992.2,757.5 985.5,750.8 979.2,742.5 977.2,742.5 974.2,741.5 971.8,741.5 967.8,743.5 963.2,747.5 962.8,747.0 956.2,747.0 948.8,742.0 946.8,742.0 943.8,741.0 931.8,741.0 927.8,743.0 920.2,745.5 917.8,747.0 915.8,746.0 914.2,746.0 913.5,744.8 913.5,743.2 912.8,742.5 908.2,743.5 908.0,744.8 908.5,745.2 909.0,749.8 906.5,754.8 901.2,760.0 895.2,764.0 888.2,767.5 882.2,768.5 877.2,772.0 872.8,774.0 870.0,779.2 865.2,782.0 863.0,784.8 860.5,791.2 855.0,793.2 857.0,797.2 857.0,798.2 854.8,802.5 850.5,803.8 854.8,806.5 855.5,807.8 858.0,818.2 859.0,820.2 859.0,821.8 862.5,832.8 864.0,842.2 862.8,841.5 859.8,844.0 852.2,841.0 840.8,840.0 823.0,831.2 814.0,812.8 809.5,799.2 803.0,789.2 795.0,779.8 791.5,771.8 791.5,770.8 790.0,768.2 790.0,767.2 782.5,753.8 772.8,743.0 766.8,741.0 758.8,741.0 758.2,741.5 751.8,741.5 750.8,742.0 745.5,745.8 743.5,751.8 743.5,753.2 742.0,756.8 742.0,758.2 736.8,764.0 731.8,760.0 720.0,752.8 724.8,750.0 725.8,750.5 727.0,749.8 726.0,747.8 726.0,746.2 726.8,745.0 727.5,745.2 728.2,747.5 729.8,745.5 730.8,747.0 732.2,747.0 733.8,745.0 737.2,746.0 739.8,743.5 741.2,743.0 744.2,739.5 745.2,739.0 746.2,739.5 747.8,739.0 749.8,736.0 752.2,736.5 755.5,733.8 756.0,732.8 756.0,731.2 755.5,730.8 756.0,730.2 754.0,728.8 754.0,727.8 752.5,726.2 754.0,724.2 754.5,722.2 751.0,722.2 751.2,721.0 755.8,721.5 756.5,720.8 755.8,719.5 755.2,720.0 754.5,719.8 755.0,718.8 754.0,718.2 752.5,714.2 753.0,712.8 751.8,712.5 750.5,714.2 749.2,715.0 746.2,714.5 745.2,715.5 743.0,714.8 744.8,714.5 747.5,712.2 747.2,711.5 746.5,711.8 746.0,709.8 744.0,708.2 745.0,707.8 745.0,707.2 744.0,706.8 745.0,706.2 744.5,705.8 747.0,704.2 746.0,702.8 746.5,700.2 748.0,701.2 747.5,702.2 748.2,703.0 749.2,703.0 750.8,701.0 751.2,701.0 751.8,702.0 753.5,700.8 753.5,699.2 752.0,697.8 754.2,696.5 756.2,698.0 757.8,697.0 759.2,697.0 761.0,698.2 760.5,699.8 761.5,700.2 762.0,701.8 761.0,703.8 762.0,704.2 763.0,706.8 765.5,709.8 764.2,711.5 762.8,712.0 761.2,711.5 759.8,713.5 758.8,712.0 759.0,714.2 758.5,714.8 759.2,715.5 764.2,716.5 766.2,715.0 767.8,715.0 772.8,717.5 774.5,719.8 774.0,723.2 775.5,725.2 775.5,726.2 777.2,728.0 778.2,728.0 779.0,729.2 782.2,732.0 782.8,731.0 788.2,731.0 788.8,731.5 790.2,731.5 792.8,734.5 794.2,734.5 794.5,733.8 795.2,733.5 795.2,735.0 795.8,735.0 796.2,734.0 797.8,734.0 800.2,735.0 801.8,733.5 802.8,733.5 803.5,734.8 802.5,737.2 802.5,739.2 801.5,740.2 802.0,742.2 803.8,743.5 806.2,743.5 808.2,742.5 810.8,743.5 812.0,744.8 812.0,747.8 811.5,748.2 812.0,748.8 810.5,749.8 810.8,750.5 811.8,750.5 812.2,749.0 812.8,750.0 813.8,749.0 816.2,749.0 817.0,748.2 817.0,746.8 819.8,746.0 821.5,743.8 822.0,741.8 825.5,738.8 825.5,736.8 826.8,735.5 829.5,735.2 828.5,734.8 829.2,733.5 830.2,733.5 831.8,735.0 835.8,734.5 836.0,730.2 836.5,729.8 833.2,728.5 832.2,727.0 829.8,725.5 828.2,725.5 825.8,726.5 824.8,726.0 821.8,726.0 821.2,725.5 820.2,726.0 819.8,725.5 819.2,728.0 817.2,728.0 816.8,727.5 815.8,728.0 813.8,728.0 813.2,727.5 807.5,727.8 808.2,726.0 808.8,727.0 810.5,726.8 810.5,725.2 809.5,724.2 809.5,721.2 810.8,719.0 812.8,718.5 813.0,722.2 813.8,723.0 815.2,723.0 816.0,721.8 814.0,721.2 814.0,719.2 817.2,718.0 818.0,717.2 818.8,714.5 821.2,716.0 822.2,715.0 823.0,715.2 822.5,714.2 822.8,713.5 823.8,713.0 826.2,713.0 827.0,712.2 826.0,709.8 826.5,708.8 826.5,706.2 824.8,704.5 821.8,704.0 821.2,705.0 818.8,703.0 817.2,703.0 814.2,701.0 811.2,700.5 809.8,698.5 808.5,698.2 810.2,698.0 812.2,700.0 814.8,698.5 815.0,699.2 816.2,700.0 817.5,698.8 817.0,698.2 817.8,697.5 819.5,699.2 820.2,701.5 827.0,704.2 827.5,705.8 831.5,709.8 831.0,710.8 831.5,711.2 830.8,712.5 832.8,713.5 831.5,710.8 833.2,710.5 834.0,711.2 833.8,713.5 835.8,714.0 836.8,713.0 837.5,713.8 837.5,715.8 835.0,716.2 836.2,718.0 837.8,718.5 838.5,717.8 838.8,716.0 839.8,718.0 841.8,717.5 842.8,716.0 843.2,717.5 844.8,717.0 845.5,715.8 845.5,713.8 844.5,713.8 844.5,710.8 844.0,710.2 844.5,708.2 843.5,706.8 844.5,705.8 845.0,703.8 846.0,703.2 846.0,701.8 847.0,700.2 847.0,697.2 847.5,696.8 846.0,695.8 848.0,694.2 848.2,692.5 849.0,692.8 849.8,694.5 851.2,695.0 853.0,693.2 853.5,691.8 855.8,690.0 856.8,690.0 857.5,688.8 857.5,687.2 856.0,685.2 856.0,683.8 853.5,680.2 853.5,678.8 856.5,677.2 857.0,674.2 855.8,673.0 855.2,673.5 854.2,673.0 852.5,671.2 852.5,667.8 853.5,666.8 853.5,665.8 855.2,664.5 856.0,664.8 855.2,666.0 855.8,665.5 859.2,666.5 859.8,666.0 862.0,665.8 861.2,665.5 860.5,664.2 861.0,663.2 859.0,662.8 860.2,662.5 860.5,661.8 859.2,661.5 857.5,659.2 856.5,658.8 856.5,657.8 858.2,655.5 858.8,656.0 861.8,654.5 862.8,655.0 865.2,654.5 867.0,652.8 867.5,651.8 867.0,651.2 867.8,650.5 868.8,651.5 871.2,652.0 873.5,653.8 874.0,656.8 876.0,658.2 875.5,658.8 876.5,659.2 877.0,660.8 878.5,662.2 879.0,663.8 878.5,666.2 881.0,668.2 881.5,671.2 883.2,673.5 883.8,673.0 885.2,673.0 887.2,676.0 888.2,676.0 889.8,677.0 891.0,676.2 890.0,674.8 890.8,674.0 891.2,674.5 893.2,674.5 895.0,675.8 895.5,678.8 896.8,680.0 896.5,679.2 897.0,678.8 896.5,678.2 897.8,676.5 898.8,676.5 900.2,678.5 900.8,678.0 901.8,678.5 901.5,680.2 902.2,681.0 903.2,681.0 904.8,678.5 906.2,679.0 908.5,680.8 908.2,681.5 906.5,681.8 907.8,682.5 909.2,682.5 909.8,681.5 910.8,681.5 911.5,680.8 911.8,678.5 913.8,678.5 915.2,680.5 916.2,680.5 917.5,681.8 916.8,682.5 916.2,682.0 915.0,682.2 915.0,683.2 916.8,685.0 917.8,683.5 919.2,684.0 919.8,683.5 922.5,683.2 922.0,684.8 923.5,687.8 921.8,688.5 919.2,688.5 918.5,690.2 919.8,691.0 920.8,690.5 921.2,691.0 921.8,690.0 922.2,691.0 923.5,689.8 923.0,688.8 923.8,688.0 924.5,688.2 924.5,686.2 925.2,685.5 927.2,685.5 930.2,684.5 931.2,685.5 934.2,686.0 935.0,685.2 933.0,683.2 932.5,681.8 933.0,681.2 932.5,680.8 934.5,678.8 934.5,676.2 935.5,674.8 937.5,673.2 936.0,671.2 936.0,670.2 937.2,669.5 939.2,669.5 939.8,670.5 941.2,670.5 941.0,669.8 941.8,669.0 942.5,669.8 942.5,671.8 943.0,672.2 943.0,676.2 945.2,678.0 946.8,680.0 949.2,680.0 950.5,681.2 950.2,682.0 951.8,681.0 952.8,681.0 953.2,682.0 955.8,682.5 956.5,683.2 956.5,685.8 957.2,686.5 959.0,685.2 957.2,686.0 957.0,684.2 958.8,684.5 960.2,683.0 960.8,683.0 961.2,684.0 961.8,683.5 962.8,684.0 965.8,683.0 966.8,684.5 968.2,683.5 969.8,684.0 970.8,683.0 971.2,683.5 972.2,683.0 971.5,681.2 973.0,678.8 973.0,674.2 972.5,673.2 974.8,672.0 976.2,672.0 977.8,673.5 979.2,673.0 982.2,674.0 984.0,676.2 983.5,677.8 984.2,678.5 985.2,678.0 987.2,678.5 988.2,680.5 989.2,680.5 990.8,679.5 994.2,679.5 995.8,680.5 996.8,680.0 997.5,679.2 998.0,676.2 1001.2,673.5 1002.0,674.2 1002.0,675.2 1000.0,676.2 1001.2,677.5 1002.8,677.5 1003.0,678.2 1004.0,678.8 1004.0,679.8 1006.0,681.2 1006.0,683.2 1008.0,684.8 1007.5,687.2 1008.2,688.0 1008.8,687.5 1011.2,688.0 1011.5,688.8 1013.0,689.8 1013.0,691.2 1014.2,692.5 1017.2,692.5 1018.8,690.5 1019.8,692.0 1021.5,692.2 1021.5,694.8 1022.8,696.0 1025.2,696.0 1026.8,694.5 1027.8,694.0 1028.8,694.5 1029.2,694.0 1030.2,695.0 1030.8,694.5 1033.8,696.5 1035.2,696.5 1035.5,695.8 1038.2,693.5 1038.8,694.5 1039.0,694.2 1040.2,691.0 1042.2,690.5 1042.5,691.8 1043.8,693.0 1044.8,693.0 1045.5,694.2 1044.5,696.8 1043.5,696.8 1044.8,698.0 1048.2,698.0 1048.8,698.5 1050.2,698.5 1050.8,698.0 1053.2,699.5 1056.2,697.5 1059.2,698.5 1060.8,698.0 1060.2,699.0 1063.2,698.5 1067.2,700.5 1071.2,697.5 1072.8,697.5 1074.2,698.5 1075.2,698.5 1075.8,698.0 1077.8,698.0 1079.2,696.5 1080.8,697.0 1083.2,693.0 1083.8,694.0 1084.2,693.5 1088.8,693.0 1089.2,692.5 1089.8,693.5 1092.2,693.5 1093.2,692.5 1095.8,692.5 1097.8,694.5 1098.8,695.0 1099.8,694.5 1101.0,695.8 1100.5,696.8 1100.8,697.5 1106.8,695.5 1109.2,695.5 1111.0,696.8 1111.8,699.0 1114.2,699.0 1116.2,698.0 1119.2,695.0 1119.8,695.0 1120.8,696.5 1123.8,695.0 1125.8,695.0 1126.0,692.8 1128.8,692.0 1130.0,690.8 1130.0,689.8 1131.2,687.5 1134.2,687.0 1136.2,686.0 1139.2,686.5 1139.0,687.2 1140.8,689.0 1142.5,688.8 1140.8,688.5 1140.8,688.0 1142.2,688.0 1143.2,687.0 1145.8,687.0 1148.8,689.5 1149.8,689.5 1152.8,687.0 1154.8,687.0 1155.0,687.2 1154.0,687.8 1154.8,688.5 1155.0,687.8 1157.2,686.0 1159.2,687.0 1159.2,688.0 1159.8,687.5 1160.2,688.0 1162.8,685.0 1164.8,684.5 1166.0,683.2 1166.2,682.0 1167.2,681.5 1168.8,682.5 1169.8,681.5 1170.8,682.0 1171.0,680.8 1170.5,679.2 1173.8,676.5 1174.2,677.0 1177.2,676.0 1178.8,673.0 1179.2,673.5 1180.8,673.0 1181.8,673.5 1184.2,673.5 1185.0,672.2 1187.2,670.5 1191.2,670.5 1191.8,670.0 1192.8,670.5 1194.2,672.5 1195.8,673.0 1197.2,672.0 1197.0,672.8 1197.5,673.8 1197.0,674.2 1197.2,674.5 1198.2,673.0 1198.5,674.8 1200.0,675.8 1199.5,676.8 1201.2,677.0 1202.5,673.2 1204.0,672.2 1204.0,670.8 1205.0,669.2 1209.8,666.0 1213.2,670.0 1216.2,669.5 1216.8,668.5 1217.2,668.5 1217.5,669.2 1212.2,673.0 1205.0,680.2 1196.5,701.8 1195.5,708.2 1194.5,710.8 1194.5,713.8 1195.0,714.2 1195.0,716.8 1196.0,719.8 1196.5,724.8 1197.0,725.2 1198.0,731.2 1198.5,731.8 1201.5,745.2 1202.5,747.2 1203.5,752.8 1209.0,767.8 1209.0,769.2 1214.0,784.2 1214.0,785.8 1216.0,790.8 1216.0,792.2 1219.0,801.2 1220.0,802.8 1222.5,811.2 1224.5,815.8 1225.5,830.8 1224.5,834.2 1223.5,843.2 1219.5,857.2 1214.8,861.5 1213.8,861.5 1208.2,864.0 1205.8,864.0ZM1224.2,664.5 1224.0,662.8 1225.5,661.8 1226.8,659.5 1227.8,659.5 1227.5,661.8ZM856.2,664.5 856.0,663.8 856.5,662.8 856.0,662.2 857.2,661.5 857.5,662.8ZM865.0,665.8 864.2,664.5 863.0,664.8 863.8,666.0ZM1090.2,677.5 1088.0,673.2 1093.8,672.5 1094.2,672.0 1096.5,675.2ZM905.8,677.0 904.5,676.8 904.8,675.5 906.0,676.8ZM1173.0,681.2 1174.5,678.8 1174.2,678.5 1171.5,679.2 1172.0,680.8ZM955.8,682.0 954.2,682.0 954.0,681.2 954.8,681.5 955.8,681.0ZM958.2,683.5 958.0,682.2 956.8,682.0 956.8,681.5 958.2,681.5 959.0,682.2ZM908.0,685.8 910.5,684.8 909.8,684.0 909.2,684.5 906.2,683.5 906.0,684.2 907.8,686.0ZM948.0,686.2 948.2,686.0 951.0,684.8 950.2,684.0 949.2,684.0 947.5,685.8 947.5,686.2ZM1048.8,697.0 1048.0,696.2 1048.0,695.2 1049.8,695.0 1050.5,695.8ZM805.8,699.5 802.2,699.5 801.0,698.2 801.8,697.5 802.8,698.5 803.8,698.5 804.5,697.2 806.8,695.5 807.5,696.2 807.0,696.8 808.0,697.2ZM805.5,698.8 806.5,697.8 806.2,697.0 805.8,697.0 804.5,698.8ZM820.8,715.0 820.2,714.5 819.5,714.2 820.8,714.0ZM813.8,718.5 813.2,718.5 813.0,717.8 813.8,716.5 814.8,716.5 815.0,717.8ZM832.5,725.2 833.0,724.2 831.8,724.0 832.0,725.2ZM827.8,735.0 826.8,735.0 826.0,734.2 827.2,734.0ZM835.0,738.8 835.5,738.2 834.2,736.5 832.8,736.5 831.8,735.5 830.5,735.2 833.2,738.5 834.2,739.0Z"/>
<path fill="#87D4F0" d="M1202.8,865.0 1199.5,860.2 1199.0,856.8 1197.0,852.8 1194.5,849.2 1188.5,844.2 1185.5,836.2 1183.5,827.2 1177.5,820.2 1175.0,816.2 1174.0,814.2 1173.0,808.8 1171.5,805.2 1170.5,800.8 1168.0,795.8 1165.0,792.8 1166.0,787.8 1168.0,782.2 1168.0,772.2 1167.5,771.8 1166.0,764.2 1163.0,758.2 1157.5,750.8 1144.2,737.0 1138.8,733.5 1134.8,734.0 1130.8,739.0 1129.2,739.0 1118.8,742.0 1116.8,742.0 1111.8,745.5 1106.5,734.8 1101.2,728.5 1094.2,725.0 1092.2,725.0 1089.8,724.0 1073.2,724.5 1070.2,721.5 1068.0,720.2 1065.8,716.0 1062.2,726.0 1059.0,724.2 1057.5,715.8 1055.0,716.8 1054.5,722.2 1054.0,722.8 1054.0,726.2 1053.5,726.8 1053.2,729.0 1046.8,724.5 1035.8,724.5 1026.5,728.8 1033.0,734.8 1028.2,740.5 1023.2,743.5 1023.0,744.2 1025.2,748.0 1031.0,751.8 1028.0,756.8 1028.8,757.5 1035.5,758.2 1033.2,762.0 1032.2,762.0 1028.2,764.0 1026.0,759.8 1027.5,757.2 1025.8,756.0 1022.8,755.0 1018.8,750.5 1013.8,750.5 1008.2,755.5 1007.8,755.0 1001.8,755.0 999.2,759.5 997.2,758.5 992.2,757.5 985.5,750.8 979.2,742.5 977.2,742.5 974.2,741.5 971.8,741.5 967.8,743.5 963.2,747.5 962.8,747.0 956.2,747.0 948.8,742.0 946.8,742.0 943.8,741.0 931.8,741.0 927.8,743.0 920.2,745.5 917.8,747.0 915.8,746.0 914.2,746.0 913.5,744.8 913.5,743.2 912.8,742.5 908.2,743.5 908.0,744.8 908.5,745.2 909.0,749.8 906.5,754.8 901.2,760.0 895.2,764.0 888.2,767.5 882.2,768.5 877.2,772.0 872.8,774.0 870.0,779.2 865.2,782.0 863.0,784.8 860.5,791.2 855.0,793.2 857.0,797.2 857.0,798.2 854.8,802.5 850.5,803.8 854.8,806.5 855.5,807.8 858.0,818.2 859.0,820.2 859.0,821.8 862.5,832.8 864.0,842.2 862.8,841.5 859.8,844.0 852.2,841.0 840.8,840.0 823.0,831.2 814.0,812.8 809.5,799.2 803.0,789.2 795.0,779.8 791.5,771.8 791.5,770.8 790.0,768.2 790.0,767.2 782.5,753.8 772.8,743.0 766.8,741.0 758.8,741.0 758.2,741.5 751.8,741.5 750.8,742.0 745.5,745.8 743.5,751.8 743.5,753.2 742.0,756.8 742.0,758.2 736.8,764.0 731.8,760.0 720.0,752.8 724.8,750.0 725.8,750.5 727.0,749.8 726.0,747.8 726.5,747.2 726.0,746.8 726.2,746.0 727.0,746.2 728.2,748.5 730.2,747.5 732.8,747.5 733.8,747.0 734.2,746.0 735.8,746.0 736.2,745.5 737.2,746.0 739.8,743.5 741.2,743.0 744.2,739.5 745.2,739.0 746.2,739.5 747.8,739.0 749.8,736.0 750.8,736.5 751.2,736.0 751.8,736.5 753.2,736.0 753.5,735.2 755.5,733.8 756.0,731.2 757.0,730.2 755.5,728.2 757.0,727.8 757.0,725.2 755.5,722.8 757.5,721.2 757.5,719.8 756.5,718.2 755.5,717.8 758.8,716.0 759.2,716.5 760.8,716.0 763.2,717.5 764.8,717.5 764.5,718.2 765.0,719.2 766.2,720.0 767.5,717.8 765.5,716.2 766.8,715.0 770.2,717.0 771.8,717.0 773.0,718.2 774.5,720.8 774.0,721.2 774.5,721.8 774.0,723.2 775.5,725.2 775.5,726.2 777.2,728.0 778.2,728.0 781.2,731.5 782.2,732.0 785.2,731.0 788.2,731.0 790.5,732.8 790.5,733.8 792.8,736.0 795.2,736.0 796.2,737.0 797.2,737.0 798.8,736.0 801.8,736.5 802.0,739.2 800.5,741.2 802.8,743.5 807.8,743.5 808.2,744.0 809.8,743.5 811.5,744.8 811.5,747.2 811.0,748.2 810.0,748.8 810.0,749.8 810.8,750.5 811.8,750.5 813.8,749.0 816.2,749.0 817.0,748.2 817.2,746.5 819.8,746.0 821.5,743.8 822.0,741.8 825.5,738.8 825.5,736.8 826.8,735.5 829.8,735.5 831.0,736.2 832.2,738.5 834.8,739.0 835.8,737.0 836.2,737.5 838.0,736.2 837.8,735.5 836.8,735.0 836.0,735.2 837.0,732.2 836.5,731.2 837.0,730.2 835.8,728.5 834.8,728.5 833.5,727.2 833.5,726.2 836.5,723.8 836.2,722.0 831.8,723.0 829.8,725.5 828.2,725.0 826.2,726.0 825.8,725.5 822.8,726.0 821.2,725.0 819.8,725.0 819.0,725.8 818.8,727.5 814.8,728.0 811.5,726.8 811.5,725.8 810.0,724.2 809.5,722.8 810.0,722.2 809.5,721.8 810.8,720.0 811.8,720.0 812.5,720.8 812.5,722.8 813.2,723.5 815.2,724.0 816.5,721.8 817.5,721.2 817.2,720.0 815.8,720.5 815.5,719.8 817.8,719.5 817.5,718.8 819.0,717.8 819.0,716.2 819.8,715.5 822.2,716.5 823.8,715.5 825.2,715.5 825.5,713.8 828.0,712.2 828.0,711.2 827.0,710.2 827.2,707.0 827.8,707.0 830.0,709.8 828.5,711.8 829.2,712.5 830.2,712.5 830.8,713.5 832.8,714.0 834.0,715.2 835.2,718.5 837.8,719.0 839.2,718.0 841.2,718.0 842.8,716.0 843.8,718.0 845.0,716.8 846.0,712.2 845.0,710.2 845.5,707.8 844.5,707.2 847.0,705.2 846.5,704.8 847.0,704.2 846.5,703.2 847.0,701.8 848.5,700.8 848.5,699.8 847.5,698.8 848.0,697.8 847.5,697.2 848.0,696.8 847.5,695.8 849.2,694.5 850.8,696.5 851.5,695.8 851.5,694.8 853.8,692.5 854.8,692.0 855.8,692.5 859.0,690.2 860.0,688.8 859.5,688.2 859.8,686.5 860.5,686.8 860.2,687.5 862.0,686.8 860.8,685.0 858.2,685.0 857.2,684.5 855.0,680.8 854.0,680.2 854.5,679.2 856.5,677.8 856.5,675.8 857.5,674.2 856.2,672.5 855.2,672.5 853.8,671.5 853.0,669.8 854.2,669.0 856.2,666.5 857.8,667.0 859.8,667.0 860.2,666.5 860.8,667.0 862.8,666.0 864.8,667.0 865.5,665.8 864.8,664.5 863.2,664.5 863.0,663.2 861.2,661.5 859.2,661.5 857.0,658.8 857.8,658.5 860.8,655.0 862.2,654.5 864.8,656.0 866.2,653.5 867.8,653.5 868.2,652.5 869.8,652.0 870.8,652.0 873.0,653.8 873.5,656.8 875.0,658.2 875.0,659.2 877.5,661.8 878.0,662.8 877.5,663.2 878.0,663.8 877.5,666.8 878.2,668.0 879.2,668.0 880.0,668.8 880.2,672.5 882.8,674.0 884.2,673.5 885.2,674.0 886.0,676.2 887.2,677.0 889.2,677.0 889.8,677.5 891.2,676.5 894.2,676.5 895.0,677.8 895.2,682.5 896.2,682.5 898.2,679.5 902.8,682.0 905.8,680.0 906.0,681.2 905.0,682.2 905.0,683.2 907.2,687.0 907.8,686.5 908.2,687.0 909.2,686.5 909.5,685.8 911.2,684.5 912.2,685.0 913.8,684.5 914.5,685.2 912.5,686.8 914.2,686.5 915.8,688.0 917.2,687.5 918.0,688.8 917.5,691.2 920.8,694.0 921.2,693.5 924.8,694.5 925.5,692.2 927.0,690.2 927.0,688.8 929.2,686.0 930.8,686.5 932.8,686.5 933.2,686.0 934.2,686.5 935.5,685.2 933.5,682.8 933.0,681.2 934.0,680.8 935.0,678.8 935.0,676.2 937.8,674.0 938.5,672.8 937.2,672.0 936.5,670.8 937.2,670.0 938.8,670.0 939.8,671.0 942.0,671.2 942.5,672.2 942.5,673.8 942.0,674.2 942.2,677.0 944.2,678.0 947.2,681.5 948.8,681.5 949.8,682.5 952.2,681.5 956.0,684.2 956.0,686.2 957.2,687.0 958.8,687.0 961.8,684.5 962.0,685.2 963.2,686.0 964.0,684.8 965.2,684.0 966.8,685.0 968.2,685.0 969.2,684.0 972.2,685.0 973.0,684.2 973.0,682.8 972.0,681.8 972.0,680.2 972.5,679.2 973.5,678.8 973.0,673.8 974.2,672.5 976.2,672.5 977.2,674.0 979.8,673.5 981.2,674.5 982.2,674.5 983.0,675.2 983.5,678.2 984.2,679.0 986.2,678.0 987.5,679.2 987.8,680.5 989.8,680.5 990.2,680.0 994.2,680.0 995.8,680.5 996.2,680.0 997.8,680.0 998.0,678.2 997.5,677.8 998.2,676.5 999.2,676.5 1000.2,677.5 1001.8,677.5 1005.0,681.2 1005.5,682.2 1005.5,684.8 1007.0,685.8 1007.0,687.2 1006.2,688.0 1002.2,687.5 1003.2,689.0 1004.8,689.0 1005.2,689.5 1007.8,688.0 1008.8,688.0 1011.2,689.5 1011.2,690.5 1012.8,690.0 1013.0,691.8 1014.2,693.0 1018.2,693.0 1018.8,692.0 1020.8,692.5 1020.5,693.2 1022.2,696.5 1025.2,696.5 1026.2,696.0 1027.2,694.5 1028.2,695.0 1028.8,694.5 1029.8,696.0 1030.2,695.5 1032.8,697.0 1034.2,697.0 1034.5,698.8 1035.2,699.5 1036.0,697.2 1037.8,697.0 1038.5,696.2 1037.5,695.8 1038.8,694.5 1040.8,694.0 1041.0,693.2 1041.8,693.0 1043.0,694.2 1042.5,694.8 1042.5,696.8 1044.2,698.0 1046.2,698.0 1047.2,699.0 1048.8,699.0 1050.8,698.0 1052.5,700.2 1053.2,700.5 1055.2,698.5 1058.2,698.5 1059.2,699.5 1065.2,699.5 1067.2,701.0 1070.8,698.0 1072.8,698.0 1074.2,699.5 1077.2,698.5 1079.2,697.0 1079.8,697.5 1081.2,697.5 1083.2,694.5 1088.8,694.0 1089.2,693.5 1089.8,694.0 1090.2,693.5 1090.8,694.0 1092.2,694.0 1094.2,693.0 1095.5,693.8 1096.5,697.2 1095.2,698.0 1094.8,696.5 1093.0,698.8 1094.0,699.2 1094.5,701.2 1096.2,703.0 1096.8,702.5 1099.2,703.0 1098.5,700.8 1100.0,699.8 1098.8,699.0 1097.5,701.2 1096.2,701.5 1096.0,700.2 1096.8,698.0 1102.2,698.0 1103.8,697.0 1104.2,697.5 1106.8,696.0 1108.8,696.0 1111.0,697.8 1111.0,698.8 1111.8,699.5 1113.2,699.5 1116.2,698.5 1118.2,697.0 1119.2,695.5 1120.0,695.8 1119.5,696.2 1120.2,697.0 1121.2,697.0 1123.2,695.5 1124.8,695.5 1125.2,696.0 1126.2,695.5 1127.2,694.0 1131.8,695.0 1132.0,693.8 1133.8,693.5 1134.0,692.8 1130.5,692.2 1131.0,689.2 1132.8,687.5 1134.8,687.5 1136.2,686.5 1138.2,687.0 1139.5,688.2 1138.0,689.8 1137.5,691.8 1139.5,691.8 1140.0,694.2 1142.0,698.8 1144.8,699.5 1146.2,699.0 1147.5,697.2 1145.8,695.0 1144.8,695.0 1143.0,693.2 1143.2,689.5 1144.8,689.5 1145.8,691.0 1148.8,692.0 1150.0,691.2 1150.0,690.2 1151.8,688.5 1153.2,689.0 1153.8,688.5 1155.8,688.5 1156.0,687.8 1157.2,687.0 1158.8,688.0 1160.8,688.0 1163.2,685.0 1165.2,684.5 1165.5,683.8 1167.2,682.5 1168.2,683.0 1172.2,683.0 1175.0,678.8 1175.0,677.2 1175.8,676.5 1176.8,676.5 1178.8,674.0 1180.8,674.0 1181.2,674.5 1181.8,674.0 1183.8,674.0 1186.8,671.0 1190.2,671.0 1193.8,673.0 1196.2,676.0 1197.2,675.5 1198.2,676.5 1201.2,677.0 1202.5,674.8 1204.5,673.2 1205.0,672.2 1204.5,671.2 1205.5,669.8 1207.8,667.5 1210.2,667.0 1213.2,670.5 1214.8,670.5 1217.2,668.5 1217.5,669.2 1216.8,670.0 1212.2,673.0 1205.0,680.2 1196.5,701.8 1195.5,708.2 1194.5,710.8 1194.5,713.8 1195.0,714.2 1195.0,716.8 1196.0,719.8 1196.5,724.8 1197.0,725.2 1198.0,731.2 1198.5,731.8 1201.5,745.2 1202.5,747.2 1203.5,752.8 1209.0,767.8 1209.0,769.2 1214.0,784.2 1214.0,785.8 1216.0,790.8 1216.0,792.2 1219.0,801.2 1220.0,802.8 1222.5,811.2 1224.5,815.8 1225.5,830.8 1224.5,834.2 1223.5,843.2 1219.5,857.2 1214.8,861.5 1213.8,861.5 1208.2,864.0 1205.8,864.0ZM1225.2,663.5 1225.0,662.8 1226.8,661.5 1227.0,662.2ZM869.5,682.8 871.5,681.2 871.5,679.2 869.8,677.5 868.2,677.0 866.0,678.8 865.5,681.8 866.8,683.0ZM881.5,684.2 883.5,681.8 883.2,681.5 881.2,681.5 880.5,682.2 880.0,683.8 880.8,684.5ZM948.0,686.8 948.2,686.0 951.5,686.2 952.0,684.8 951.2,683.0 947.8,683.5 946.5,684.8 946.5,686.2 947.2,687.0ZM888.5,691.8 890.5,689.8 891.5,687.8 891.5,685.8 890.2,684.5 888.2,685.0 885.0,688.8 885.5,690.8 886.8,692.0ZM1171.0,698.8 1171.0,696.8 1170.0,694.2 1167.8,693.5 1166.5,694.8 1167.0,697.2 1169.2,699.0ZM875.0,697.2 874.8,696.5 874.0,696.8 874.2,697.5ZM745.2,715.5 743.0,714.8 744.8,714.5 748.5,711.8 747.5,710.8 747.0,708.8 746.0,708.2 747.5,705.8 747.5,704.8 748.2,704.0 752.8,703.0 754.0,701.8 754.0,699.8 753.0,697.8 754.2,697.0 756.8,699.0 758.8,697.5 759.8,698.0 760.0,699.2 761.5,700.2 762.0,701.8 761.0,703.8 762.0,704.2 763.0,706.8 765.0,708.8 765.5,709.8 765.0,710.8 762.8,712.0 761.2,711.5 759.8,713.5 758.8,712.0 757.8,712.0 754.8,710.0 754.5,710.8 753.2,712.0 752.2,712.0 750.2,714.5 749.2,715.0 746.2,714.5ZM824.2,704.0 823.2,703.5 819.8,703.5 816.8,702.5 814.8,701.0 814.5,700.2 815.8,700.0 816.8,701.0 817.0,700.2 816.5,699.8 818.2,698.5 819.0,699.2 818.0,700.8 818.2,702.0 818.8,701.5 820.2,702.5 820.8,702.0 823.8,703.0ZM916.0,700.8 915.8,699.5 914.5,700.2 914.8,701.0ZM918.5,702.2 919.2,701.5 922.0,700.8 920.8,700.0 918.2,700.0 917.5,700.8 917.5,701.8ZM1084.5,704.2 1086.5,703.8 1086.5,702.8 1084.8,701.0 1081.2,700.5 1080.0,701.2 1079.5,702.2 1080.8,704.5ZM802.2,736.5 802.0,735.2 802.8,735.0 803.0,735.2Z"/>
<path fill="#B3ECFF" d="M1202.8,865.0 1199.5,860.2 1199.0,856.8 1197.0,852.8 1194.5,849.2 1188.5,844.2 1185.5,836.2 1183.5,827.2 1177.5,820.2 1175.0,816.2 1174.0,814.2 1173.0,808.8 1171.5,805.2 1170.5,800.8 1168.0,795.8 1165.0,792.8 1166.0,787.8 1168.0,782.2 1168.0,772.2 1167.5,771.8 1166.0,764.2 1163.0,758.2 1157.5,750.8 1144.2,737.0 1138.8,733.5 1134.8,734.0 1130.8,739.0 1129.2,739.0 1118.8,742.0 1116.8,742.0 1111.8,745.5 1106.5,734.8 1101.2,728.5 1094.2,725.0 1092.2,725.0 1089.8,724.0 1073.2,724.5 1070.2,721.5 1068.0,720.2 1065.8,716.0 1062.2,726.0 1059.0,724.2 1057.5,715.8 1055.0,716.8 1054.5,722.2 1054.0,722.8 1054.0,726.2 1053.5,726.8 1053.2,729.0 1046.8,724.5 1035.8,724.5 1026.5,728.8 1033.0,734.8 1028.2,740.5 1023.2,743.5 1023.0,744.2 1025.2,748.0 1031.0,751.8 1028.0,756.8 1028.8,757.5 1035.5,758.2 1033.2,762.0 1032.2,762.0 1028.2,764.0 1026.0,759.8 1027.5,757.2 1025.8,756.0 1022.8,755.0 1018.8,750.5 1013.8,750.5 1008.2,755.5 1007.8,755.0 1001.8,755.0 999.2,759.5 997.2,758.5 992.2,757.5 985.5,750.8 979.2,742.5 977.2,742.5 974.2,741.5 971.8,741.5 967.8,743.5 963.2,747.5 962.8,747.0 956.2,747.0 948.8,742.0 946.8,742.0 943.8,741.0 931.8,741.0 927.8,743.0 920.2,745.5 917.8,747.0 915.8,746.0 914.2,746.0 913.5,744.8 913.5,743.2 912.8,742.5 908.2,743.5 908.0,744.8 908.5,745.2 909.0,749.8 906.5,754.8 901.2,760.0 895.2,764.0 888.2,767.5 882.2,768.5 877.2,772.0 872.8,774.0 870.0,779.2 865.2,782.0 863.0,784.8 860.5,791.2 855.0,793.2 857.0,797.2 857.0,798.2 854.8,802.5 850.5,803.8 854.8,806.5 855.5,807.8 858.0,818.2 859.0,820.2 859.0,821.8 862.5,832.8 864.0,842.2 862.8,841.5 859.8,844.0 852.2,841.0 840.8,840.0 823.0,831.2 814.0,812.8 809.5,799.2 803.0,789.2 795.0,779.8 791.5,771.8 791.5,770.8 790.0,768.2 790.0,767.2 782.5,753.8 772.8,743.0 766.8,741.0 758.8,741.0 758.2,741.5 751.8,741.5 750.8,742.0 745.5,745.8 743.5,751.8 743.5,753.2 742.0,756.8 742.0,758.2 736.8,764.0 731.8,760.0 720.0,752.8 724.8,750.0 725.8,750.5 727.0,749.8 726.0,747.8 726.5,747.2 726.0,746.8 726.2,746.0 727.0,746.2 728.2,748.5 730.2,747.5 732.8,747.5 733.8,747.0 734.2,746.0 735.8,746.0 736.2,745.5 737.2,746.0 739.8,743.5 741.2,743.0 744.2,739.5 745.2,739.0 746.2,739.5 747.8,739.0 749.8,736.0 750.8,736.5 751.2,736.0 751.8,736.5 753.2,736.0 753.5,735.2 755.5,733.8 756.0,731.2 757.0,730.2 755.5,728.2 758.0,727.2 758.0,724.2 757.5,723.8 758.0,719.8 757.0,718.2 757.0,717.2 757.8,716.5 762.2,717.0 763.2,717.5 765.8,720.5 768.0,718.8 768.2,716.5 770.2,717.5 771.8,717.5 774.5,720.8 774.0,721.2 774.5,721.8 774.0,723.2 775.5,725.2 775.5,726.2 777.2,728.0 778.2,728.0 781.2,731.5 782.2,732.0 785.2,731.0 788.2,731.0 790.5,732.8 790.5,733.8 792.8,736.0 794.8,736.0 797.8,738.0 800.8,737.5 801.5,739.2 800.0,741.2 800.0,742.2 801.2,742.5 801.8,743.5 802.8,744.0 807.2,744.0 808.8,745.0 810.2,744.0 811.5,745.2 810.0,748.8 810.0,749.8 810.8,750.5 811.8,750.5 813.8,749.0 816.2,749.0 817.0,748.2 817.2,746.5 819.8,746.0 821.5,743.8 822.0,741.8 825.5,738.8 825.5,736.8 826.8,735.5 829.8,735.5 831.0,736.2 832.2,738.5 833.8,739.0 834.8,739.0 835.8,737.0 836.2,737.5 836.8,737.0 838.2,737.5 839.0,736.2 837.0,734.8 837.5,734.2 837.0,733.8 837.0,732.2 838.0,729.2 835.8,727.0 834.5,726.8 836.0,726.2 837.0,723.2 837.0,721.8 835.5,720.8 839.2,718.0 841.2,718.0 842.8,716.0 843.8,718.0 845.0,716.8 845.5,715.8 845.5,713.2 846.0,712.8 846.0,711.2 845.5,710.8 846.0,706.8 847.0,705.8 847.0,703.2 849.0,702.2 848.5,696.2 849.8,696.0 850.8,698.5 851.5,694.8 853.8,692.5 854.8,692.0 855.8,692.5 858.2,691.0 859.8,689.0 860.8,689.0 862.5,687.2 862.5,686.2 864.8,683.5 869.8,683.5 871.8,682.5 872.5,681.2 872.0,678.8 869.2,676.5 866.2,677.0 865.0,678.2 864.5,682.2 861.2,684.5 858.8,684.5 857.8,684.0 855.5,681.2 857.0,676.2 858.0,675.2 857.5,672.8 855.0,671.2 855.0,670.2 856.5,669.2 856.5,667.8 860.8,667.5 861.8,666.5 863.2,666.5 864.2,668.0 865.5,667.2 865.5,664.8 863.2,664.5 863.0,663.2 861.2,661.5 859.2,661.5 857.0,658.8 861.8,654.5 864.2,655.5 865.2,656.5 866.0,654.2 866.8,653.5 868.2,653.5 868.5,652.8 869.8,652.0 870.8,652.0 873.0,653.8 873.5,656.8 875.0,658.2 875.0,659.2 874.2,659.5 874.0,660.2 874.8,660.5 876.0,662.2 874.8,662.5 874.5,663.2 877.5,664.2 877.0,667.8 879.0,670.8 878.5,675.8 880.0,678.2 880.0,682.2 879.0,685.2 880.2,685.5 881.8,685.0 882.8,684.5 883.2,683.5 884.8,683.0 886.5,681.2 887.0,678.8 888.2,677.5 890.2,678.0 891.8,677.0 892.8,677.0 894.5,678.2 893.5,681.2 894.5,682.8 892.8,684.5 890.8,683.5 888.2,683.5 884.0,688.2 884.0,690.2 885.8,692.5 886.8,693.0 889.2,692.5 890.5,691.2 891.5,688.8 893.8,686.5 895.2,686.5 896.5,685.8 897.5,684.2 897.5,682.8 898.0,682.2 897.5,681.8 898.0,680.8 899.2,680.5 901.5,682.2 901.8,684.0 902.8,683.0 903.8,683.5 904.2,683.0 906.8,687.5 910.2,687.5 913.2,688.5 914.5,689.8 915.5,692.8 916.2,693.5 918.2,694.0 919.2,696.5 919.8,696.0 920.8,696.5 924.2,696.0 926.0,692.8 928.0,691.2 928.0,690.2 930.2,687.5 934.8,687.0 936.0,685.2 937.0,684.8 934.5,682.8 934.8,682.0 936.5,681.2 935.5,679.8 935.5,676.8 939.8,671.5 941.2,671.5 942.0,672.2 942.0,673.2 940.8,674.0 939.0,676.2 939.8,677.5 941.8,677.0 944.0,679.2 943.5,680.8 945.5,683.8 946.0,686.2 947.2,688.0 948.2,686.0 950.8,686.0 951.2,686.5 953.2,684.0 955.5,684.8 954.5,685.8 955.0,686.2 954.8,687.0 958.8,687.5 960.8,686.5 962.2,688.0 964.0,687.8 964.0,686.2 965.2,684.5 966.8,685.5 969.8,684.5 971.8,685.5 972.8,685.0 973.0,682.2 972.5,681.8 972.5,679.8 973.2,679.5 974.0,678.2 974.0,674.8 973.5,674.2 974.8,673.0 975.8,673.0 976.0,674.2 975.0,675.2 975.2,676.0 976.8,675.5 977.8,674.0 979.8,674.0 980.8,675.0 982.2,675.0 983.0,675.8 983.2,679.0 984.2,679.5 986.2,678.5 988.2,681.0 989.8,681.0 990.2,680.5 991.2,681.0 994.8,680.5 995.2,681.0 998.2,680.0 999.2,678.5 1001.8,678.5 1002.0,679.2 1004.5,681.2 1005.0,684.2 1003.2,686.5 998.8,687.0 998.0,688.2 998.8,689.0 1000.8,688.5 1001.8,690.0 1003.2,689.5 1004.2,690.0 1004.8,691.0 1007.2,689.0 1008.8,688.5 1010.8,691.0 1012.2,691.0 1013.0,692.8 1014.8,694.0 1019.2,693.0 1021.5,695.8 1020.5,697.2 1021.2,698.5 1023.8,697.0 1024.2,697.5 1026.2,697.5 1026.0,696.8 1028.2,695.0 1028.5,695.8 1031.8,698.5 1033.2,698.0 1034.2,699.5 1035.2,699.5 1036.8,697.5 1037.8,698.0 1039.2,697.5 1039.5,696.2 1039.0,695.8 1040.2,694.5 1040.8,695.0 1041.2,694.5 1042.0,695.8 1042.0,697.2 1043.2,699.0 1044.2,698.5 1046.8,698.5 1048.8,699.5 1049.2,699.0 1051.2,699.0 1052.2,700.5 1053.8,701.0 1055.8,699.0 1057.2,698.5 1058.2,699.0 1060.2,701.5 1062.8,702.5 1063.5,701.8 1063.8,700.0 1065.2,700.0 1066.8,701.5 1071.8,698.0 1073.8,699.5 1074.2,700.5 1078.8,698.0 1080.2,698.0 1080.8,698.5 1082.5,696.8 1083.2,695.0 1084.2,695.5 1085.8,694.0 1086.2,694.5 1088.2,694.5 1088.8,694.0 1089.8,694.5 1090.2,694.0 1093.5,695.8 1093.5,696.8 1091.0,698.8 1092.2,699.0 1092.8,698.5 1093.8,699.0 1094.5,701.2 1096.2,703.0 1097.8,702.5 1099.8,703.5 1100.0,702.8 1099.5,701.8 1100.8,700.5 1101.2,701.0 1102.2,700.5 1103.2,701.0 1104.2,702.5 1105.0,701.2 1104.0,699.8 1103.2,699.0 1102.8,699.5 1102.5,698.8 1105.8,697.5 1107.8,696.0 1109.8,697.0 1111.8,700.0 1114.8,699.5 1118.8,697.0 1121.8,697.5 1122.0,696.8 1123.2,696.0 1129.8,696.0 1130.2,695.5 1131.8,696.5 1132.8,696.5 1133.8,697.5 1135.2,697.5 1135.8,698.0 1136.0,696.8 1135.5,695.2 1135.0,694.2 1134.0,693.8 1135.0,692.8 1135.0,690.8 1136.0,689.8 1134.8,689.5 1133.8,690.0 1133.0,689.2 1136.8,687.0 1138.5,688.2 1137.0,689.8 1136.5,691.8 1137.8,692.0 1139.2,691.5 1142.0,698.8 1143.2,699.0 1144.2,700.0 1145.8,700.0 1148.0,698.2 1148.5,696.8 1147.2,695.0 1144.0,693.2 1143.5,691.8 1144.2,690.0 1147.8,692.5 1148.2,692.0 1150.2,692.0 1150.5,690.2 1151.2,689.5 1152.8,689.0 1153.8,690.0 1154.8,690.0 1156.0,688.2 1157.2,687.5 1159.8,689.5 1163.2,685.0 1164.8,685.0 1165.8,684.5 1166.2,683.5 1170.2,683.5 1170.8,683.0 1171.8,683.5 1172.8,683.0 1175.0,679.8 1175.0,677.8 1176.8,676.5 1177.8,676.5 1178.8,674.5 1181.2,675.0 1184.8,673.5 1186.8,671.5 1188.2,671.0 1189.5,671.8 1189.0,672.8 1190.2,674.0 1191.2,673.5 1194.8,676.0 1201.2,677.0 1202.8,675.0 1205.0,673.8 1205.0,671.2 1207.2,668.5 1210.2,667.5 1212.2,670.5 1212.8,670.0 1213.2,670.5 1214.8,670.5 1217.2,668.5 1217.5,669.2 1216.8,670.0 1212.2,673.0 1205.0,680.2 1196.5,701.8 1195.5,708.2 1194.5,710.8 1194.5,713.8 1195.0,714.2 1195.0,716.8 1196.0,719.8 1196.5,724.8 1197.0,725.2 1198.0,731.2 1198.5,731.8 1201.5,745.2 1202.5,747.2 1203.5,752.8 1209.0,767.8 1209.0,769.2 1214.0,784.2 1214.0,785.8 1216.0,790.8 1216.0,792.2 1219.0,801.2 1220.0,802.8 1222.5,811.2 1224.5,815.8 1225.5,830.8 1224.5,834.2 1223.5,843.2 1219.5,857.2 1214.8,861.5 1213.8,861.5 1208.2,864.0 1205.8,864.0ZM938.2,672.0 937.0,671.2 937.2,670.5 939.0,670.8ZM875.5,674.2 876.0,672.8 874.2,672.0 873.5,672.8 873.5,673.8 874.2,674.5ZM883.2,679.0 882.5,676.8 881.0,674.8 881.2,674.0 885.0,674.8 885.0,676.2ZM1189.5,677.8 1190.0,676.2 1189.2,675.0 1188.2,675.0 1188.0,676.8 1188.8,678.0ZM1187.5,683.2 1187.2,681.5 1186.0,682.2 1186.2,683.5ZM940.0,690.2 941.2,688.5 943.0,688.2 943.0,686.8 942.2,686.0 941.2,686.0 940.0,687.2 939.5,688.2 939.5,690.2ZM881.0,688.8 881.0,687.8 880.2,687.0 879.5,688.2 880.2,689.0ZM953.0,688.2 953.0,687.2 952.2,687.0 952.5,687.8 952.0,688.2ZM875.5,698.8 877.0,697.2 876.0,694.2 876.0,691.2 873.2,689.5 873.0,694.2 872.0,695.8 872.0,697.2 873.2,699.0ZM988.0,694.8 989.0,693.8 988.5,690.8 986.8,690.0 984.8,690.0 983.5,691.2 984.5,693.2 986.2,694.5ZM1009.5,694.8 1009.0,691.8 1007.8,691.5 1007.0,692.2 1007.0,694.2 1008.2,695.0ZM1171.0,698.8 1172.0,697.2 1171.0,694.2 1169.2,692.5 1166.2,693.0 1165.5,694.2 1165.5,695.8 1166.5,698.2 1168.8,698.5 1169.2,699.0ZM1001.5,696.8 1001.5,693.8 999.2,693.0 1000.5,695.2 1000.5,696.8ZM895.0,697.2 897.8,697.0 898.5,696.2 898.5,695.2 896.8,693.5 894.0,695.8 894.0,696.8ZM918.0,702.8 919.2,701.5 922.2,701.0 922.5,700.2 920.8,699.0 919.2,699.0 918.8,698.0 917.8,698.0 916.2,697.0 913.8,697.0 913.0,698.2 912.5,701.8 915.8,703.0ZM745.2,715.5 743.0,714.8 744.8,714.5 748.5,711.8 747.5,710.2 747.5,708.2 747.0,707.8 748.0,706.8 747.5,704.8 752.8,703.5 754.5,701.2 754.8,698.5 756.2,699.5 757.8,698.5 759.8,698.5 760.0,699.2 761.5,700.2 762.0,702.2 761.0,703.8 762.0,704.2 763.0,706.8 765.0,708.8 765.5,709.8 765.0,710.8 762.8,712.0 761.2,711.5 759.8,713.5 758.8,712.0 757.8,712.0 754.8,710.0 754.5,710.8 753.2,712.0 752.2,712.0 750.2,714.5 749.2,715.0 746.2,714.5ZM974.0,700.8 974.2,700.0 971.5,699.2 971.5,699.8 973.2,701.0ZM1162.0,703.2 1161.5,702.8 1163.0,700.2 1161.2,699.0 1160.2,699.0 1160.0,701.2 1160.5,702.8 1161.2,703.5ZM1081.5,705.8 1085.8,705.5 1086.8,704.0 1088.8,704.0 1089.0,703.2 1086.8,701.0 1084.8,700.0 1079.8,699.5 1078.5,700.8 1079.0,705.2 1079.8,706.0ZM1123.0,700.2 1122.2,699.5 1120.0,699.8 1120.8,700.5ZM1126.5,701.8 1125.8,701.0 1124.5,700.8 1125.2,702.0ZM887.5,704.8 888.2,704.5 888.5,703.8 887.2,702.5 885.2,702.5 884.5,703.2 884.5,704.2 885.2,705.0ZM1129.5,707.2 1131.0,706.2 1131.0,704.8 1129.2,703.5 1130.0,705.2 1128.0,706.8 1128.8,707.5ZM818.2,727.5 817.2,727.0 816.8,727.5 813.8,727.5 812.8,727.0 811.0,725.2 810.0,722.2 810.5,720.8 811.2,720.0 812.0,720.8 812.0,722.8 811.0,723.2 811.2,723.5 812.2,724.0 812.8,723.5 813.2,724.0 815.8,724.0 816.0,723.2 818.5,721.2 819.0,720.2 818.5,719.2 819.8,717.5 824.2,717.0 827.2,713.0 830.2,713.5 832.2,714.5 833.0,715.8 834.0,716.2 833.5,717.8 835.0,718.8 834.5,719.2 835.0,720.8 830.8,723.0 829.8,725.0 828.2,724.5 825.8,725.5 822.2,725.5 820.8,724.5 819.8,724.5Z"/>
<path fill="#9E47B7" d="M865.8,667.0 865.2,664.5 863.2,664.5 863.0,663.2 861.2,661.5 859.2,661.5 857.0,658.8 861.8,654.5 864.2,655.5 865.2,656.5 866.8,653.5 868.2,653.5 868.8,652.5 870.8,652.0 872.2,653.0 873.5,654.8 873.5,656.8 875.0,658.2 875.0,659.2 874.2,659.5 874.0,660.2 875.0,661.2 873.8,663.0 872.8,663.0 872.0,663.8 871.2,666.0 869.8,666.0 868.2,664.5 867.8,665.0 867.2,664.5 866.0,665.2ZM1215.8,670.5 1215.5,669.8 1217.2,668.5 1217.5,669.2ZM1202.8,865.0 1199.5,860.2 1199.0,856.8 1197.0,852.8 1194.5,849.2 1188.5,844.2 1185.5,836.2 1183.5,827.2 1177.5,820.2 1175.0,816.2 1174.0,814.2 1173.0,808.8 1171.5,805.2 1170.5,800.8 1168.0,795.8 1165.0,792.8 1166.0,787.8 1168.0,782.2 1168.0,772.2 1167.5,771.8 1166.0,764.2 1163.0,758.2 1157.5,750.8 1144.2,737.0 1138.8,733.5 1134.8,734.0 1130.8,739.0 1129.2,739.0 1118.8,742.0 1116.8,742.0 1111.8,745.5 1106.5,734.8 1101.2,728.5 1094.2,725.0 1092.2,725.0 1089.8,724.0 1073.2,724.5 1070.2,721.5 1068.0,720.2 1065.8,716.0 1062.2,726.0 1059.0,724.2 1057.5,715.8 1055.0,716.8 1054.5,722.2 1054.0,722.8 1054.0,726.2 1053.5,726.8 1053.2,729.0 1046.8,724.5 1035.8,724.5 1026.5,728.8 1033.0,734.8 1028.2,740.5 1023.2,743.5 1023.0,744.2 1025.2,748.0 1031.0,751.8 1028.0,756.8 1028.8,757.5 1035.5,758.2 1033.2,762.0 1032.2,762.0 1028.2,764.0 1026.0,759.8 1027.5,757.2 1025.8,756.0 1022.8,755.0 1018.8,750.5 1013.8,750.5 1008.2,755.5 1007.8,755.0 1001.8,755.0 999.2,759.5 997.2,758.5 992.2,757.5 985.5,750.8 979.2,742.5 977.2,742.5 974.2,741.5 971.8,741.5 967.8,743.5 963.2,747.5 962.8,747.0 956.2,747.0 948.8,742.0 946.8,742.0 943.8,741.0 931.8,741.0 927.8,743.0 920.2,745.5 917.8,747.0 915.8,746.0 914.2,746.0 913.5,744.8 913.5,743.2 912.8,742.5 908.2,743.5 908.0,744.8 908.5,745.2 909.0,749.8 906.5,754.8 901.2,760.0 895.2,764.0 888.2,767.5 882.2,768.5 877.2,772.0 872.8,774.0 870.0,779.2 865.2,782.0 863.0,784.8 860.5,791.2 855.0,793.2 857.0,797.2 857.0,798.2 854.8,802.5 850.5,803.8 854.8,806.5 855.5,807.8 858.0,818.2 859.0,820.2 859.0,821.8 862.5,832.8 864.0,842.2 862.8,841.5 859.8,844.0 852.2,841.0 840.8,840.0 823.0,831.2 814.0,812.8 809.5,799.2 803.0,789.2 795.0,779.8 791.5,771.8 791.5,770.8 790.0,768.2 790.0,767.2 782.5,753.8 772.8,743.0 766.8,741.0 758.8,741.0 758.2,741.5 751.8,741.5 750.8,742.0 745.5,745.8 743.5,751.8 743.5,753.2 742.0,756.8 742.0,758.2 736.8,764.0 731.8,760.0 720.0,752.8 724.8,750.0 725.8,750.5 727.0,749.8 726.0,747.8 726.5,747.2 726.0,746.8 726.2,746.0 727.0,746.2 728.2,748.5 730.2,747.5 732.8,747.5 733.2,747.0 733.8,747.5 735.8,746.0 737.2,746.0 739.8,743.5 741.2,743.0 744.2,739.5 745.8,739.0 747.2,740.0 749.8,736.0 750.8,736.5 751.2,736.0 751.8,736.5 753.2,736.0 753.5,735.2 755.5,733.8 756.0,731.2 757.0,730.2 755.5,728.2 757.8,727.5 758.5,726.2 758.5,724.8 759.0,724.2 758.5,722.8 759.0,722.2 758.5,721.8 759.0,721.2 759.0,719.2 760.2,718.0 762.2,718.0 765.8,720.5 766.8,720.0 768.8,717.5 771.8,717.5 774.5,720.8 774.0,721.2 774.5,721.8 774.0,722.2 774.5,723.8 774.0,724.2 774.5,724.8 774.0,725.8 774.8,726.0 775.8,727.5 778.2,728.0 779.0,729.2 782.2,732.0 785.2,731.0 788.2,731.0 790.5,732.8 790.0,733.8 792.8,736.0 794.8,736.0 796.2,737.0 796.8,738.0 799.8,738.5 800.5,739.8 799.5,740.8 799.5,742.2 800.2,742.5 801.8,744.5 803.2,745.0 803.8,744.5 807.2,744.5 808.5,745.8 808.2,746.5 809.8,746.0 810.2,745.0 810.5,747.2 809.5,748.8 809.5,749.8 810.8,751.0 811.8,751.0 812.0,750.2 813.8,749.0 816.2,749.0 817.0,748.2 817.2,746.5 819.8,746.0 822.0,743.2 822.5,741.8 825.5,738.8 825.5,737.2 826.8,735.5 829.8,735.5 830.5,738.2 834.8,740.5 835.8,740.5 836.5,739.2 838.2,738.0 838.8,738.0 839.2,739.0 840.8,739.0 841.5,738.2 841.0,736.8 843.2,734.5 844.0,734.8 843.5,734.2 844.0,733.8 843.5,732.8 844.2,732.5 844.5,731.8 843.2,730.5 841.2,730.5 840.8,731.0 837.5,727.2 838.5,725.8 838.0,724.8 838.5,724.2 838.5,722.8 838.0,722.2 838.5,721.2 837.0,719.8 839.2,718.0 841.2,718.0 842.8,716.0 843.8,718.0 845.0,716.8 845.5,715.8 845.5,713.2 846.8,712.5 847.5,711.2 847.0,703.2 849.5,701.8 849.5,700.2 851.0,698.8 851.5,694.8 853.8,692.5 854.8,692.0 855.8,692.5 858.2,691.0 859.8,689.0 861.0,689.2 861.0,690.2 862.2,692.0 863.8,691.5 864.2,692.0 865.8,692.0 866.5,692.8 866.2,696.0 868.8,697.0 870.2,698.5 872.2,698.5 873.0,699.2 873.0,700.2 871.8,701.0 871.8,701.5 874.2,701.0 876.8,704.0 878.2,704.5 879.8,704.5 882.8,702.5 883.0,704.8 884.5,706.8 885.8,707.5 894.2,707.0 897.8,709.5 898.2,708.5 900.2,708.0 902.5,706.2 903.0,705.2 902.5,704.8 903.0,701.8 905.2,701.5 905.8,701.0 907.8,702.0 909.2,704.5 912.2,706.0 914.8,705.5 914.5,703.2 915.2,702.5 916.2,703.0 917.5,704.2 916.8,705.5 916.2,705.0 915.5,705.2 916.0,707.8 916.8,708.5 920.0,707.8 920.0,706.2 919.0,705.2 919.0,702.8 919.8,702.0 922.8,702.0 924.2,701.0 927.8,703.5 930.8,703.0 931.8,702.0 932.0,703.8 933.2,705.0 934.2,705.0 935.0,701.8 935.8,702.0 936.5,700.8 936.2,700.5 935.8,701.5 935.2,700.5 934.2,702.5 933.8,702.0 932.2,702.0 932.5,698.8 934.8,697.5 935.2,698.0 935.8,697.5 938.5,697.2 939.0,696.2 938.5,694.8 940.5,692.2 940.5,689.2 941.2,688.5 944.8,688.5 945.8,689.0 947.5,687.8 948.2,686.0 950.8,686.0 951.2,686.5 953.2,684.0 954.5,684.8 954.5,685.8 952.0,687.2 952.5,687.8 952.0,688.2 952.8,689.0 954.2,688.5 956.8,688.5 959.8,689.5 960.8,689.0 963.5,691.2 962.0,693.8 962.0,694.8 963.0,696.2 962.5,696.8 963.2,698.0 964.2,698.0 964.0,697.2 964.5,696.2 965.8,695.5 967.2,697.5 968.8,697.5 970.8,698.5 971.5,699.8 972.5,700.2 972.5,701.2 973.2,702.0 974.2,702.0 975.0,701.2 975.0,699.8 977.2,698.5 978.2,699.5 980.8,699.0 982.5,703.2 983.2,704.0 985.2,704.0 985.8,704.5 986.5,703.8 987.5,700.8 987.0,700.2 987.8,699.0 990.8,700.0 992.2,698.5 993.2,699.0 994.2,698.0 995.8,698.0 997.2,699.5 1000.8,699.5 1002.2,699.0 1004.8,696.5 1008.8,699.0 1012.2,699.5 1012.5,700.2 1012.0,700.8 1013.2,701.5 1015.8,700.0 1019.8,702.0 1022.2,701.5 1023.8,700.5 1024.0,702.8 1024.8,702.5 1026.2,704.0 1029.8,702.5 1034.8,703.0 1036.8,706.0 1038.8,706.0 1039.2,706.5 1039.8,706.0 1040.2,706.5 1042.8,706.5 1045.8,705.5 1046.8,704.5 1047.8,704.5 1051.8,708.0 1053.2,708.0 1053.8,707.5 1055.8,707.5 1056.8,707.0 1057.2,706.0 1059.8,705.0 1061.2,705.5 1064.8,705.0 1066.8,706.5 1071.2,706.0 1073.8,708.0 1075.2,708.0 1077.8,706.5 1078.2,707.0 1079.2,706.5 1082.8,706.5 1083.2,706.0 1086.2,706.5 1086.0,705.8 1087.2,704.5 1088.2,704.5 1089.0,705.2 1089.0,706.2 1088.0,707.8 1090.8,709.5 1092.2,709.5 1094.0,707.2 1093.5,705.8 1095.2,704.5 1096.8,702.5 1099.2,703.0 1101.2,704.5 1103.2,704.5 1104.8,702.5 1106.2,702.5 1109.2,701.0 1111.8,702.5 1114.8,703.0 1116.8,700.0 1120.2,700.0 1120.8,700.5 1123.8,700.0 1125.2,702.0 1126.8,702.0 1128.0,703.2 1127.2,704.5 1125.0,705.2 1124.5,707.2 1125.8,709.0 1128.2,709.5 1129.8,708.5 1131.5,708.2 1131.5,706.2 1131.0,705.8 1131.5,703.2 1134.5,702.2 1136.0,697.8 1135.5,696.2 1136.0,695.2 1135.5,694.8 1136.2,693.5 1137.8,693.0 1138.8,693.0 1140.5,694.8 1142.0,698.8 1143.2,699.0 1144.8,701.5 1146.8,702.5 1149.2,700.5 1151.2,700.0 1154.5,702.2 1155.0,705.8 1156.2,706.5 1158.8,705.5 1159.8,704.0 1161.8,703.5 1161.5,702.8 1163.2,700.0 1167.8,698.5 1170.8,699.0 1171.5,697.8 1172.5,697.2 1171.5,696.8 1172.2,696.5 1172.5,695.8 1172.0,695.2 1172.0,693.8 1170.0,691.2 1173.2,691.5 1174.2,692.0 1174.5,692.8 1173.0,693.8 1175.8,694.0 1177.0,695.8 1177.0,696.8 1175.0,699.2 1174.5,700.8 1174.5,701.8 1175.2,702.5 1176.2,702.5 1178.5,699.2 1178.5,696.2 1179.0,695.8 1177.5,690.8 1179.2,689.5 1181.8,691.0 1183.2,691.0 1185.0,689.2 1186.0,686.2 1191.5,681.2 1190.0,677.8 1191.2,676.0 1196.8,676.0 1197.2,676.5 1201.2,677.0 1202.8,675.0 1204.8,675.5 1206.2,675.0 1208.8,673.0 1213.2,672.0 1213.5,672.2 1205.0,680.2 1204.0,682.2 1204.0,683.2 1202.5,685.8 1202.5,686.8 1201.5,688.2 1201.0,690.8 1200.0,692.2 1199.5,694.8 1196.5,701.8 1195.5,708.2 1194.5,710.8 1194.5,713.8 1195.0,714.2 1195.0,716.8 1196.0,719.8 1196.5,724.8 1197.0,725.2 1198.0,731.2 1198.5,731.8 1201.5,745.2 1202.5,747.2 1203.5,752.8 1209.0,767.8 1209.0,769.2 1214.0,784.2 1214.0,785.8 1216.0,790.8 1216.0,792.2 1219.0,801.2 1220.0,802.8 1222.5,811.2 1224.5,815.8 1225.5,830.8 1224.5,834.2 1223.5,843.2 1219.5,857.2 1214.8,861.5 1213.8,861.5 1208.2,864.0 1205.8,864.0ZM1192.5,686.8 1193.0,686.2 1193.0,684.8 1191.2,684.5 1190.5,685.8 1191.8,687.0ZM959.0,704.2 960.8,703.5 962.5,701.2 962.5,698.2 961.8,697.0 961.2,697.5 960.2,696.5 957.0,698.2 956.0,701.8 957.8,704.5ZM745.2,715.5 743.0,714.8 744.8,714.5 748.5,711.8 747.5,710.2 747.5,707.2 748.0,706.8 747.5,704.8 748.2,704.5 749.2,705.0 750.8,704.0 753.2,703.5 754.5,702.2 755.0,699.8 755.8,699.0 756.8,699.5 757.8,698.5 759.8,698.5 760.0,699.2 761.5,700.2 762.0,702.2 761.0,703.8 762.0,704.2 763.0,706.8 765.0,708.8 765.5,709.8 765.0,710.8 762.8,712.0 761.2,711.5 759.8,713.5 758.8,712.0 757.8,712.0 754.8,710.0 753.2,711.5 751.8,712.0 750.2,714.5 749.2,715.0 746.2,714.5ZM1155.2,701.0 1154.0,699.8 1154.2,698.5 1156.0,699.2ZM856.0,707.2 855.5,706.8 858.0,703.2 858.0,701.8 855.8,700.0 853.2,700.0 852.0,701.2 852.0,702.8 853.0,704.2 853.0,705.2ZM874.5,707.8 874.0,706.2 872.8,705.5 871.2,705.5 870.5,706.2 872.8,708.0Z"/>
<path fill="#B36FC7" d="M865.8,667.0 865.2,664.5 863.2,664.5 863.0,663.2 861.2,661.5 859.2,661.5 857.0,658.8 857.8,658.5 860.8,655.0 861.0,655.8 862.8,656.5 863.5,657.8 862.0,660.2 863.2,661.0 864.2,662.5 866.0,659.8 866.0,658.8 865.0,657.2 866.0,654.2 867.0,654.2 866.5,654.8 867.2,656.0 868.5,654.2 867.0,653.8 868.2,653.5 868.5,652.8 869.8,652.0 870.8,652.0 872.2,653.0 873.5,654.8 873.5,656.8 875.0,658.2 875.0,659.2 874.2,659.5 874.0,660.2 875.0,661.2 873.8,663.0 872.8,663.0 872.0,663.8 871.2,666.0 869.8,666.0 868.2,664.5 867.8,665.0 867.2,664.5 866.0,665.2ZM1202.8,865.0 1199.5,860.2 1199.0,856.8 1197.0,852.8 1194.5,849.2 1188.5,844.2 1185.5,836.2 1183.5,827.2 1177.5,820.2 1175.0,816.2 1174.0,814.2 1173.0,808.8 1171.5,805.2 1170.5,800.8 1168.0,795.8 1165.0,792.8 1166.0,787.8 1168.0,782.2 1168.0,772.2 1167.5,771.8 1166.0,764.2 1163.0,758.2 1157.5,750.8 1144.2,737.0 1138.8,733.5 1134.8,734.0 1130.8,739.0 1129.2,739.0 1118.8,742.0 1116.8,742.0 1111.8,745.5 1106.5,734.8 1101.2,728.5 1094.2,725.0 1092.2,725.0 1089.8,724.0 1073.2,724.5 1070.2,721.5 1068.0,720.2 1065.8,716.0 1062.2,726.0 1059.0,724.2 1057.5,715.8 1055.0,716.8 1054.5,722.2 1054.0,722.8 1054.0,726.2 1053.5,726.8 1053.2,729.0 1046.8,724.5 1035.8,724.5 1026.5,728.8 1033.0,734.8 1028.2,740.5 1023.2,743.5 1023.0,744.2 1025.2,748.0 1031.0,751.8 1028.0,756.8 1028.8,757.5 1035.5,758.2 1033.2,762.0 1032.2,762.0 1028.2,764.0 1026.0,759.8 1027.5,757.2 1025.8,756.0 1022.8,755.0 1018.8,750.5 1013.8,750.5 1008.2,755.5 1007.8,755.0 1001.8,755.0 999.2,759.5 997.2,758.5 992.2,757.5 985.5,750.8 979.2,742.5 977.2,742.5 974.2,741.5 971.8,741.5 967.8,743.5 963.2,747.5 962.8,747.0 956.2,747.0 948.8,742.0 946.8,742.0 943.8,741.0 931.8,741.0 927.8,743.0 920.2,745.5 917.8,747.0 915.8,746.0 914.2,746.0 913.5,744.8 913.5,743.2 912.8,742.5 908.2,743.5 908.0,744.8 908.5,745.2 909.0,749.8 906.5,754.8 901.2,760.0 895.2,764.0 888.2,767.5 882.2,768.5 877.2,772.0 872.8,774.0 870.0,779.2 865.2,782.0 863.0,784.8 860.5,791.2 855.0,793.2 857.0,797.2 857.0,798.2 854.8,802.5 850.5,803.8 854.8,806.5 855.5,807.8 858.0,818.2 859.0,820.2 859.0,821.8 862.5,832.8 864.0,842.2 862.8,841.5 859.8,844.0 852.2,841.0 840.8,840.0 823.0,831.2 814.0,812.8 809.5,799.2 803.0,789.2 795.0,779.8 791.5,771.8 791.5,770.8 790.0,768.2 790.0,767.2 782.5,753.8 772.8,743.0 766.8,741.0 758.8,741.0 758.2,741.5 751.8,741.5 750.8,742.0 745.5,745.8 743.5,751.8 743.5,753.2 742.0,756.8 742.0,758.2 736.8,764.0 728.8,758.0 720.5,753.2 721.8,752.0 723.2,751.5 726.8,751.5 727.8,751.0 729.8,748.5 737.2,747.5 740.2,744.0 741.2,744.0 743.8,742.0 744.2,741.0 745.8,741.0 746.2,741.5 746.8,741.0 748.2,741.0 750.2,737.0 753.2,737.0 754.0,735.2 756.0,734.2 756.0,732.2 758.0,728.8 759.2,728.5 760.0,727.2 760.5,725.8 760.0,725.2 760.5,723.8 760.5,721.2 760.0,720.8 760.5,720.2 760.0,719.8 760.8,719.0 764.2,720.0 766.2,722.5 768.2,723.5 769.5,722.2 771.0,719.2 770.5,718.8 772.2,718.5 774.0,720.8 772.5,722.8 772.5,724.2 770.8,725.0 770.2,724.5 769.8,725.0 768.2,724.0 767.0,725.2 767.8,726.5 768.2,726.0 768.8,726.5 769.2,726.0 769.8,726.5 770.8,726.0 775.2,728.5 776.2,728.5 777.5,730.2 777.5,731.2 779.8,732.5 781.2,732.0 782.2,732.5 782.8,732.0 787.2,732.0 788.2,732.5 789.0,733.2 788.5,733.8 789.2,734.5 790.2,734.5 792.8,737.0 794.2,736.5 795.2,737.0 796.8,740.0 797.8,740.5 798.8,739.5 799.5,739.8 799.0,740.2 799.0,741.8 801.0,744.2 800.5,744.8 800.5,746.8 801.2,748.0 802.8,748.0 804.8,745.5 806.2,745.5 806.5,746.8 806.0,747.2 806.8,748.0 808.2,747.0 809.5,747.8 808.5,749.2 808.5,750.2 810.2,752.0 811.8,752.0 813.8,749.5 816.2,749.0 817.2,747.0 821.2,747.0 822.0,746.2 822.5,743.8 823.8,743.0 827.0,739.2 826.5,736.8 827.2,736.0 829.2,736.5 830.0,739.2 831.2,739.5 832.8,741.5 834.8,741.5 835.2,742.0 837.8,740.0 838.8,740.5 842.2,740.0 842.8,738.0 844.2,737.5 845.2,738.0 847.5,734.2 847.5,732.8 847.0,732.2 847.5,730.2 851.2,728.5 851.8,729.0 853.2,728.5 854.5,726.8 853.8,726.5 853.2,727.0 852.8,726.5 852.2,727.0 851.8,726.5 851.2,727.0 850.2,726.5 849.8,727.0 848.5,725.8 848.5,722.8 848.0,722.2 848.5,721.2 850.5,719.8 851.2,717.5 855.2,718.0 856.2,717.0 860.8,716.0 862.0,714.8 862.5,712.2 863.8,711.5 864.2,712.0 864.8,711.5 866.2,712.0 866.8,711.5 869.2,711.5 869.8,712.0 875.2,711.5 876.8,712.5 877.8,712.5 878.5,713.2 878.0,714.8 879.2,716.0 880.2,716.0 881.0,715.2 881.0,713.8 877.5,709.2 878.8,707.5 881.2,706.5 882.8,706.5 884.0,708.8 883.5,709.2 884.8,710.0 886.8,710.0 887.2,709.5 889.8,710.0 890.2,709.5 891.8,709.5 892.2,710.0 893.8,710.0 895.2,712.0 898.8,712.0 900.2,711.0 902.8,711.0 904.0,708.8 905.8,707.0 910.2,707.0 912.2,708.0 915.8,712.0 918.2,713.0 919.8,713.0 921.2,711.5 924.2,710.5 926.8,710.5 928.2,709.0 929.2,709.0 931.0,710.2 933.2,713.5 934.2,713.5 935.0,711.2 937.2,710.0 938.0,708.2 943.5,703.8 944.0,702.8 943.5,702.2 944.0,701.8 943.5,700.8 944.5,699.2 945.8,698.0 949.8,696.0 951.8,696.0 954.0,697.8 953.5,700.8 951.0,703.8 952.2,706.0 955.8,707.0 961.2,706.5 964.8,702.5 968.2,702.5 969.8,703.5 971.0,705.2 968.0,708.8 968.0,709.8 970.8,711.0 971.2,710.5 975.8,711.0 976.2,710.0 977.8,713.0 979.8,713.0 981.0,711.8 980.5,710.2 979.2,709.0 976.8,709.5 975.5,708.8 977.2,706.5 979.8,705.5 980.2,706.0 981.8,706.0 984.8,708.0 987.2,708.0 987.8,708.5 991.2,707.0 994.8,709.0 1001.8,709.0 1002.5,708.2 1002.5,706.2 1004.8,705.0 1005.8,705.5 1006.2,706.5 1007.2,706.0 1009.0,707.8 1009.8,710.5 1011.8,710.5 1016.2,708.0 1018.2,708.5 1019.0,709.2 1019.0,712.2 1018.0,713.8 1018.0,714.8 1020.8,717.5 1023.0,716.8 1023.5,714.8 1022.5,713.2 1022.5,712.2 1024.2,711.0 1028.8,712.5 1029.8,712.0 1029.5,711.2 1030.8,710.5 1031.8,711.5 1035.2,712.0 1035.8,712.5 1036.2,712.0 1036.8,712.5 1037.8,711.5 1040.8,711.5 1045.8,708.0 1048.8,708.0 1053.5,710.8 1053.5,712.8 1052.5,713.8 1052.0,716.8 1053.8,717.0 1057.8,712.5 1060.2,711.5 1061.8,712.0 1063.0,710.2 1063.0,709.2 1065.2,708.0 1067.2,711.0 1068.2,710.5 1072.2,710.5 1073.2,709.5 1074.0,710.2 1074.0,711.8 1075.5,713.2 1075.5,714.2 1076.8,715.0 1082.2,714.0 1082.5,713.2 1081.2,711.5 1082.2,712.0 1083.2,711.0 1085.8,712.5 1086.5,713.2 1087.0,716.2 1085.0,718.8 1085.5,719.2 1085.0,719.8 1087.8,722.5 1089.2,722.5 1090.5,721.2 1090.5,720.2 1091.5,718.8 1091.5,717.2 1092.5,716.2 1092.0,715.8 1092.5,715.2 1092.0,714.8 1092.0,713.2 1093.2,712.0 1094.2,711.5 1094.8,712.0 1097.2,711.5 1098.8,712.5 1100.2,709.5 1100.8,710.0 1102.2,709.5 1103.0,707.8 1103.8,707.0 1104.8,707.0 1106.2,705.0 1108.2,705.0 1108.8,704.5 1110.2,704.5 1113.8,706.0 1117.0,708.8 1117.0,710.2 1117.8,711.0 1120.8,713.0 1121.8,712.5 1123.8,713.5 1126.8,712.5 1128.8,712.5 1129.8,713.5 1132.8,713.5 1134.8,712.5 1136.8,710.5 1139.2,710.0 1141.8,707.0 1143.8,707.0 1144.8,707.5 1145.5,708.8 1145.0,709.2 1145.5,709.8 1144.0,711.8 1144.0,712.8 1145.5,715.2 1145.0,715.8 1145.8,716.0 1147.8,715.0 1148.5,715.8 1148.5,716.8 1150.2,717.5 1151.8,717.5 1153.0,716.2 1153.5,713.2 1155.5,711.8 1155.5,710.8 1156.2,710.0 1158.8,709.5 1160.2,707.5 1160.8,708.0 1161.2,707.5 1162.0,708.8 1161.5,709.2 1162.0,709.8 1162.0,711.2 1162.8,712.0 1166.2,712.0 1168.8,713.0 1169.5,713.8 1170.0,716.8 1171.2,718.0 1174.5,714.2 1174.5,713.2 1174.0,712.8 1174.0,710.2 1173.2,709.5 1171.8,710.0 1170.8,709.5 1170.2,710.0 1169.5,709.2 1170.0,705.8 1170.8,705.0 1172.2,705.0 1174.0,706.2 1174.0,707.8 1174.8,708.5 1175.8,709.0 1177.2,708.5 1179.0,703.8 1180.8,702.0 1183.2,701.5 1184.8,700.5 1187.5,700.2 1187.5,697.8 1186.0,696.8 1186.0,695.2 1186.8,694.0 1188.8,693.5 1190.8,694.5 1191.2,694.0 1195.8,693.5 1197.0,694.2 1197.5,695.8 1197.5,697.8 1195.5,700.8 1196.5,701.8 1196.0,705.8 1195.8,706.0 1194.8,704.5 1193.2,704.5 1192.0,707.2 1192.8,708.0 1194.8,708.0 1195.2,707.0 1195.5,707.2 1194.5,710.8 1194.5,713.8 1195.0,714.2 1195.0,716.8 1196.0,719.8 1196.5,724.8 1198.0,729.2 1198.0,731.2 1198.5,731.8 1201.5,745.2 1202.5,747.2 1203.5,752.8 1209.0,767.8 1209.0,769.2 1214.0,784.2 1214.0,785.8 1216.0,790.8 1216.0,792.2 1219.0,801.2 1220.0,802.8 1222.5,811.2 1224.5,815.8 1225.0,825.8 1225.5,826.2 1225.5,830.8 1224.5,834.2 1223.5,843.2 1219.5,857.2 1214.8,861.5 1213.8,861.5 1208.2,864.0 1205.8,864.0ZM863.2,703.5 862.0,702.2 862.0,700.8 862.5,700.2 862.5,698.8 863.8,698.0 864.5,699.2 864.5,702.2ZM745.2,715.5 743.0,714.8 744.8,714.5 748.5,711.8 747.5,710.2 747.5,707.2 748.0,706.8 747.5,704.8 748.2,704.5 749.2,705.0 750.8,704.0 753.8,703.5 755.0,701.8 755.0,699.8 755.8,699.0 756.8,699.5 757.8,698.5 759.8,698.5 760.0,699.2 761.5,700.2 762.0,702.2 761.0,703.8 762.0,704.2 763.0,706.8 765.0,708.8 765.5,709.8 765.0,710.8 762.8,712.0 761.2,711.5 759.8,713.5 759.0,712.2 757.8,712.0 755.2,709.0 754.2,709.0 752.2,710.5 751.8,710.0 750.8,710.5 749.5,712.8 747.2,715.0 746.2,714.5ZM925.2,708.0 923.8,707.5 922.5,705.2 924.2,703.5 926.2,703.5 928.0,705.8 927.8,706.5ZM1077.8,712.5 1077.2,712.5 1076.0,710.8 1079.2,709.0 1080.5,710.2ZM1097.5,718.2 1098.0,717.8 1096.8,715.5 1095.5,717.8 1096.8,718.5ZM1146.0,717.8 1147.0,717.2 1145.8,716.5 1144.5,717.2 1144.8,718.0 1145.2,717.5ZM1179.0,719.2 1179.0,718.2 1178.2,718.0 1178.0,719.2ZM844.2,727.0 842.8,727.0 841.5,726.2 841.0,724.2 841.8,723.0 844.2,723.0 845.0,723.8ZM1138.5,725.2 1139.0,724.2 1138.8,723.0 1137.5,724.2 1137.5,725.2ZM824.5,747.2 824.2,747.0 822.5,747.2 822.8,747.5Z"/>
<path fill="#C997D6" d="M874.2,662.0 872.2,660.5 871.8,661.0 870.8,660.5 870.0,659.2 870.5,654.2 869.0,652.8 869.8,652.0 870.8,652.0 872.2,653.0 873.5,654.8 873.5,656.8 875.0,658.2 875.0,659.2 874.0,659.8 875.0,661.2ZM859.2,659.0 858.2,659.0 858.0,657.8 860.2,656.0 861.0,657.2 860.2,657.5ZM864.2,664.5 863.0,664.2 863.2,663.0 864.5,664.2ZM870.8,666.0 869.8,666.0 869.5,665.2 870.8,665.5ZM759.8,713.5 759.0,712.8 759.5,710.8 758.8,710.0 757.8,710.5 754.8,708.0 753.2,708.5 748.8,708.5 747.8,710.5 747.5,707.8 748.8,708.0 749.5,707.2 749.0,705.2 754.8,703.5 755.0,701.8 756.8,700.5 757.5,701.8 756.5,702.8 757.5,703.2 757.5,704.2 758.2,705.0 759.2,705.0 760.0,705.8 760.5,708.8 761.2,709.5 763.2,708.0 764.8,708.5 765.5,709.8 764.2,711.5 762.8,712.0 761.2,711.5ZM1187.2,709.5 1185.5,709.2 1185.5,706.2 1186.2,705.0 1188.8,704.5 1189.5,705.2 1189.5,706.2 1189.0,707.8ZM859.8,844.0 852.2,841.0 840.8,840.0 823.0,831.2 814.0,812.8 809.5,799.2 803.0,789.2 795.0,779.8 791.5,771.8 791.5,770.8 790.0,768.2 790.0,767.2 782.5,753.8 772.8,743.0 766.8,741.0 758.8,741.0 758.2,741.5 751.8,741.5 750.8,742.0 745.5,745.8 743.5,751.8 743.5,753.2 742.0,756.8 742.0,758.2 736.8,764.0 731.8,760.0 721.5,753.8 722.8,752.5 724.2,752.5 724.5,753.2 724.0,754.2 724.8,755.0 726.8,755.0 728.2,754.0 729.2,754.0 731.2,751.0 736.8,748.0 738.2,748.0 740.2,745.0 742.8,745.0 744.2,743.0 746.2,742.0 749.2,741.5 750.5,739.8 750.0,738.8 751.2,737.5 752.2,737.5 753.2,738.5 755.2,735.5 757.5,734.8 757.0,731.8 758.0,730.2 758.8,729.5 759.8,729.5 761.2,727.5 761.8,728.0 763.2,727.5 768.2,730.0 772.2,729.0 773.2,730.0 775.2,730.0 779.2,733.5 784.8,733.0 785.2,735.0 786.8,735.5 787.8,735.0 790.8,736.0 792.5,737.8 793.8,740.0 794.2,739.5 795.2,740.0 796.8,741.0 797.2,742.0 798.2,742.0 799.5,743.2 800.0,744.8 799.0,746.2 801.2,748.5 802.8,748.5 803.2,749.0 804.2,748.5 806.2,750.0 807.2,750.0 809.2,752.5 811.8,753.0 814.2,750.5 816.8,749.5 817.0,748.8 818.2,748.0 821.2,748.0 822.2,750.0 823.2,748.5 824.2,748.5 825.5,747.2 825.0,746.8 826.0,745.2 825.5,742.2 828.0,740.2 828.0,739.2 827.0,737.8 827.8,736.5 828.5,736.8 829.0,738.2 828.5,738.8 829.2,739.5 831.2,740.0 832.2,742.0 835.0,743.2 834.8,744.5 835.5,743.8 835.5,742.8 837.2,741.5 837.8,742.0 839.2,741.0 839.8,741.5 840.2,741.0 841.8,742.0 844.2,739.5 846.8,738.5 848.0,736.2 851.2,733.5 852.8,733.5 855.2,734.5 856.0,733.8 856.5,731.2 857.5,730.8 857.5,728.2 858.0,727.2 859.2,726.5 860.0,725.2 858.8,723.5 856.2,723.0 855.0,721.8 856.8,720.5 861.2,719.5 862.2,720.0 863.0,721.2 862.5,722.2 862.8,724.5 863.8,725.0 864.2,724.5 866.8,724.5 869.2,723.0 871.0,719.8 872.5,718.8 872.5,718.2 871.0,717.2 872.2,716.0 877.2,719.0 877.8,718.5 878.2,719.0 882.8,719.0 883.2,718.5 884.8,718.5 885.8,717.0 886.2,718.0 888.8,717.5 890.2,718.5 891.8,718.5 893.0,717.2 892.5,716.8 893.0,716.2 892.5,715.8 892.8,715.0 894.2,714.5 894.5,715.2 895.2,715.5 897.2,714.0 900.8,714.5 901.8,713.0 902.8,713.0 903.8,712.0 905.8,711.5 907.8,709.0 910.2,709.5 910.5,711.2 909.2,712.5 908.2,712.5 903.5,717.8 904.0,718.2 903.5,718.8 904.0,719.8 905.8,721.0 907.2,721.0 908.8,719.0 910.8,718.5 913.2,716.0 914.2,716.0 915.2,717.5 918.8,718.5 919.8,718.0 920.8,716.5 923.8,715.0 925.8,715.5 926.8,714.5 928.8,714.5 929.5,715.2 929.8,718.0 932.2,716.5 936.2,718.0 937.8,717.0 942.2,717.0 943.2,717.5 944.0,716.2 943.5,715.8 943.5,714.2 945.5,710.2 947.2,708.5 948.8,708.5 949.2,709.0 951.8,708.5 958.8,711.5 959.2,713.5 961.2,713.5 961.8,713.0 963.5,714.8 961.5,717.2 962.2,717.5 963.2,719.0 963.8,718.5 965.8,719.5 967.8,719.5 968.2,719.0 969.8,719.5 971.0,721.8 971.0,724.8 972.2,726.0 976.2,726.0 977.2,725.5 977.5,723.8 980.2,722.0 981.5,720.2 984.0,718.2 986.0,715.8 986.5,714.2 991.2,710.5 993.8,710.5 995.0,711.8 995.5,714.2 997.0,715.2 998.8,718.0 1001.2,719.5 1003.0,718.2 1002.5,717.8 1003.8,716.0 1005.8,715.5 1006.8,714.5 1008.2,714.5 1009.5,716.2 1009.5,717.8 1007.5,719.2 1008.5,722.8 1008.0,724.2 1008.8,725.0 1009.2,724.5 1010.8,725.5 1012.2,725.5 1014.8,724.0 1016.2,724.5 1018.8,723.5 1020.8,724.5 1021.2,724.0 1022.8,725.0 1023.8,725.0 1025.5,723.2 1026.0,720.8 1028.0,717.8 1028.8,717.0 1030.2,717.0 1030.8,716.5 1033.2,716.5 1034.2,717.5 1034.8,717.0 1036.0,717.8 1036.8,720.0 1039.2,720.0 1041.2,718.5 1042.5,718.2 1043.5,716.8 1042.5,715.2 1043.2,714.5 1046.2,713.0 1047.8,713.0 1048.8,711.0 1050.0,712.2 1049.0,712.8 1048.5,714.2 1049.0,715.2 1047.5,716.8 1047.5,717.8 1048.5,719.8 1050.5,721.2 1050.5,722.2 1049.5,722.8 1049.2,724.0 1048.0,724.2 1047.8,725.5 1046.8,724.5 1035.8,724.5 1026.5,728.8 1033.0,734.8 1028.2,740.5 1023.2,743.5 1023.0,744.2 1025.2,748.0 1031.0,751.8 1028.0,756.8 1028.8,757.5 1035.5,758.2 1033.2,762.0 1032.2,762.0 1028.2,764.0 1026.0,759.8 1027.5,757.2 1025.8,756.0 1022.8,755.0 1018.8,750.5 1013.8,750.5 1008.2,755.5 1007.8,755.0 1001.8,755.0 999.2,759.5 997.2,758.5 992.2,757.5 985.5,750.8 979.2,742.5 977.2,742.5 974.2,741.5 971.8,741.5 967.8,743.5 963.2,747.5 962.8,747.0 956.2,747.0 948.8,742.0 946.8,742.0 943.8,741.0 931.8,741.0 927.8,743.0 920.2,745.5 917.8,747.0 915.8,746.0 914.2,746.0 913.5,744.8 913.5,743.2 912.8,742.5 908.2,743.5 908.0,744.8 908.5,745.2 909.0,749.8 906.5,754.8 901.2,760.0 895.2,764.0 888.2,767.5 882.2,768.5 877.2,772.0 872.8,774.0 870.0,779.2 865.2,782.0 863.0,784.8 860.5,791.2 855.0,793.2 857.0,797.2 857.0,798.2 854.8,802.5 850.5,803.8 854.8,806.5 855.5,807.8 858.0,818.2 859.0,820.2 859.0,821.8 862.5,832.8 864.0,842.2 862.8,841.5ZM1062.2,726.0 1059.0,724.2 1058.0,718.8 1058.8,718.0 1059.8,718.5 1060.8,718.0 1061.0,717.2 1059.5,716.8 1061.8,715.0 1062.8,717.5 1063.5,716.8 1063.5,715.2 1062.2,715.0 1062.0,714.2 1065.2,712.0 1068.8,713.5 1070.2,713.0 1071.8,713.5 1074.8,717.0 1077.2,718.5 1078.8,718.5 1080.8,717.0 1082.5,717.8 1082.0,721.8 1080.2,724.5 1073.2,724.5 1070.2,721.5 1068.0,720.2 1065.8,716.0ZM1202.8,865.0 1199.5,860.2 1199.0,856.8 1197.0,852.8 1194.5,849.2 1188.5,844.2 1185.5,836.2 1183.5,827.2 1177.5,820.2 1175.0,816.2 1174.0,814.2 1173.0,808.8 1171.5,805.2 1170.5,800.8 1168.0,795.8 1165.0,792.8 1166.0,787.8 1168.0,782.2 1168.0,772.2 1167.5,771.8 1166.0,764.2 1163.0,758.2 1157.5,750.8 1147.5,740.2 1144.2,737.0 1138.8,733.5 1134.8,734.0 1130.8,739.0 1129.2,739.0 1118.8,742.0 1116.8,742.0 1111.8,745.5 1106.5,734.8 1102.5,729.8 1101.2,728.5 1094.2,725.0 1092.0,724.8 1092.8,723.5 1096.8,723.5 1097.8,723.0 1100.5,720.2 1101.5,718.8 1102.0,716.2 1103.8,714.0 1104.5,714.2 1104.2,715.0 1106.2,715.5 1107.2,716.5 1109.2,713.0 1111.8,713.5 1112.5,714.8 1111.8,715.0 1110.8,714.5 1111.0,715.2 1110.0,715.8 1110.0,716.8 1110.8,718.0 1112.2,718.5 1113.8,720.0 1115.2,720.0 1116.0,719.2 1115.0,715.8 1117.2,714.5 1118.2,715.5 1120.8,716.5 1121.2,717.5 1124.2,717.5 1124.8,718.0 1126.8,717.5 1127.2,718.5 1128.2,718.0 1129.8,719.5 1134.8,718.5 1136.0,719.2 1135.5,723.8 1132.8,727.5 1135.8,729.0 1138.2,729.5 1141.8,727.0 1143.8,726.5 1144.8,729.0 1146.2,730.0 1147.8,730.0 1149.5,726.8 1150.0,722.8 1150.8,722.0 1156.8,721.0 1160.5,717.8 1160.8,716.5 1164.2,716.5 1164.8,717.0 1165.2,716.5 1166.0,717.2 1166.0,720.8 1167.8,722.5 1170.2,722.5 1170.8,723.0 1175.2,723.0 1176.2,722.5 1176.8,723.0 1178.8,723.0 1180.0,722.2 1182.5,717.8 1183.5,717.2 1182.5,715.2 1184.8,714.0 1185.2,713.0 1186.8,712.5 1188.8,713.5 1190.2,713.5 1190.8,713.0 1191.2,713.5 1192.8,712.5 1194.5,712.8 1196.5,724.8 1197.0,725.2 1198.0,731.2 1198.5,731.8 1201.5,745.2 1202.5,747.2 1203.5,752.8 1209.0,767.8 1209.0,769.2 1214.0,784.2 1214.0,785.8 1216.0,790.8 1216.0,792.2 1219.0,801.2 1220.0,802.8 1222.5,811.2 1224.5,815.8 1225.0,825.8 1225.5,826.2 1225.5,830.8 1224.5,834.2 1223.5,843.2 1219.5,857.2 1214.8,861.5 1213.8,861.5 1208.2,864.0 1205.8,864.0ZM745.2,715.5 743.0,714.8 744.8,714.5 746.8,713.0 747.0,713.8ZM891.8,715.0 890.8,715.0 890.0,713.8 891.2,713.5 892.0,714.2ZM887.2,715.0 886.2,715.0 885.5,714.2 887.2,714.0ZM1138.2,715.5 1137.0,714.8 1137.8,714.0 1138.5,714.8ZM1026.2,719.0 1025.8,719.0 1025.5,718.2 1026.5,717.8 1026.5,716.8 1027.2,716.0 1027.5,717.2ZM974.2,720.5 973.5,719.2 972.5,718.8 973.8,717.0 975.8,717.0 976.5,718.2ZM1017.8,723.5 1016.2,722.5 1014.8,722.5 1014.0,721.8 1014.0,719.8 1017.2,718.0 1019.5,719.8 1019.5,722.2ZM1053.8,725.5 1052.0,724.8 1054.2,719.5 1054.5,722.2 1054.0,722.8ZM763.2,723.5 762.0,722.2 762.2,721.0 763.2,721.0 764.0,721.8 764.0,722.8ZM1053.2,729.0 1052.2,728.5 1051.0,727.2 1053.2,726.5ZM1157.5,736.8 1159.0,735.2 1160.0,732.2 1158.2,731.0 1155.2,731.0 1154.0,731.8 1153.5,733.8 1155.2,736.5 1156.2,737.0Z"/>
<path fill="#E0C0E6" d="M874.8,658.5 872.8,658.5 871.0,657.2 872.0,655.8 872.0,654.8 871.5,653.8 869.5,652.2 869.8,652.0 870.8,652.0 873.0,653.8 873.5,656.8ZM753.8,706.5 751.8,706.5 751.5,705.8 753.2,704.5 754.0,705.2ZM859.8,844.0 852.2,841.0 840.8,840.0 823.0,831.2 814.0,812.8 809.5,799.2 803.0,789.2 795.0,779.8 791.5,771.8 791.5,770.8 790.0,768.2 790.0,767.2 782.5,753.8 772.8,743.0 766.8,741.0 758.8,741.0 758.2,741.5 750.5,741.8 752.8,739.5 754.8,738.5 756.2,736.0 757.8,736.0 758.5,735.2 758.0,732.2 759.8,730.0 762.8,729.5 764.2,730.5 765.2,730.5 767.2,732.0 770.2,733.0 771.8,736.5 772.8,736.5 776.2,738.5 778.8,738.5 779.8,739.5 780.8,739.5 782.2,738.0 787.8,737.5 789.0,738.2 789.0,739.2 790.5,741.2 790.0,745.2 790.8,746.0 792.2,745.0 795.8,745.5 798.5,748.8 798.5,749.8 797.5,750.8 798.2,751.5 800.8,751.5 801.2,752.0 802.2,751.5 803.8,752.0 804.8,751.5 807.2,752.5 808.2,753.5 810.2,753.5 810.8,754.0 814.2,753.0 815.0,751.2 818.2,748.5 820.2,749.0 822.2,751.0 823.2,751.0 825.2,749.5 826.5,747.8 826.0,742.2 827.2,741.5 828.5,742.2 830.2,745.0 831.8,743.0 832.8,743.0 833.5,743.8 833.5,745.2 835.8,746.5 837.0,745.8 836.5,744.2 837.2,743.5 838.2,743.0 841.8,743.0 843.8,741.0 846.8,740.5 848.5,738.8 849.8,736.5 851.2,736.5 851.8,737.0 852.2,736.5 853.8,736.5 855.2,737.5 856.2,737.5 857.0,736.8 857.5,733.8 859.0,732.8 859.5,729.2 860.8,728.0 862.8,728.5 863.8,727.5 866.8,727.5 867.0,726.8 869.8,724.5 871.2,725.5 872.8,725.0 872.5,722.8 874.2,722.0 876.0,722.8 876.5,727.2 877.2,727.5 878.2,729.0 879.5,727.8 879.0,727.2 879.5,726.2 881.2,725.0 882.0,725.2 882.2,727.5 886.2,724.5 886.8,725.0 888.2,725.0 889.2,723.5 892.2,722.0 894.8,722.5 895.8,721.5 896.0,722.2 897.2,723.0 898.2,721.5 900.2,723.5 901.8,723.5 902.2,724.0 904.2,723.0 907.2,724.5 907.8,724.0 912.2,724.0 914.2,725.5 914.8,726.5 916.8,727.5 918.2,727.5 919.2,726.0 924.2,724.0 927.2,726.5 930.2,728.0 932.2,728.0 934.8,729.5 938.2,728.0 940.8,729.0 942.2,729.0 944.0,727.8 944.5,725.8 947.8,723.0 950.2,722.5 951.8,720.5 956.8,718.5 958.0,719.8 958.0,720.8 959.2,722.5 961.2,722.5 961.8,723.0 964.2,723.0 964.8,722.5 966.0,723.2 966.5,724.8 966.0,726.2 964.2,726.5 963.5,727.2 963.5,729.2 964.2,731.0 966.8,731.5 970.2,730.0 971.2,729.0 972.8,729.0 975.0,730.8 977.8,734.5 979.8,735.0 983.0,732.8 983.0,731.2 981.0,728.2 981.0,725.8 981.5,724.8 982.8,723.5 985.2,723.5 985.8,723.0 986.2,723.5 986.8,723.0 987.8,723.5 988.5,722.2 986.5,722.2 987.0,721.8 987.0,717.8 988.8,716.0 992.8,716.0 994.2,717.5 995.8,717.5 997.0,718.8 998.0,723.2 1000.8,725.0 1004.8,725.0 1006.2,727.0 1006.8,726.5 1007.2,727.0 1009.8,727.0 1013.2,728.0 1014.8,730.0 1015.8,729.0 1021.2,728.5 1025.8,727.0 1026.5,728.8 1033.0,734.8 1028.2,740.5 1023.0,743.8 1024.5,747.2 1031.0,751.8 1028.0,756.8 1028.8,757.5 1035.5,758.2 1033.2,762.0 1032.2,762.0 1028.2,764.0 1026.0,759.8 1027.5,757.2 1025.8,756.0 1022.8,755.0 1018.8,750.5 1013.8,750.5 1008.2,755.5 1007.8,755.0 1001.8,755.0 999.2,759.5 997.2,758.5 992.2,757.5 985.5,750.8 979.2,742.5 977.2,742.5 974.2,741.5 971.8,741.5 967.8,743.5 963.2,747.5 962.8,747.0 956.2,747.0 948.8,742.0 946.8,742.0 943.8,741.0 931.8,741.0 927.8,743.0 920.2,745.5 917.8,747.0 915.8,746.0 914.2,746.0 913.5,744.8 913.5,743.2 912.8,742.5 908.2,743.5 908.0,744.8 908.5,745.2 909.0,749.8 906.5,754.8 901.2,760.0 895.2,764.0 888.2,767.5 882.2,768.5 877.2,772.0 872.8,774.0 870.0,779.2 865.2,782.0 863.0,784.8 860.5,791.2 855.0,793.2 857.0,797.2 857.0,798.2 854.8,802.5 850.5,803.8 854.8,806.5 855.5,807.8 858.0,818.2 859.0,820.2 859.0,821.8 862.5,832.8 864.0,842.2 862.8,841.5ZM1202.8,865.0 1199.5,860.2 1199.0,856.8 1197.0,852.8 1194.5,849.2 1188.5,844.2 1185.5,836.2 1183.5,827.2 1177.5,820.2 1175.0,816.2 1174.0,814.2 1173.0,808.8 1171.5,805.2 1170.5,800.8 1168.0,795.8 1165.0,792.8 1166.0,787.8 1168.0,782.2 1168.0,772.2 1167.5,771.8 1166.0,764.2 1163.0,758.2 1157.5,750.8 1149.0,742.2 1149.2,741.5 1151.2,741.5 1151.8,742.0 1152.2,741.5 1155.2,741.5 1159.2,740.0 1161.5,738.2 1162.0,736.8 1165.8,733.0 1166.2,733.5 1167.8,733.0 1168.8,731.5 1171.2,730.0 1174.8,730.5 1175.5,729.8 1175.0,727.8 1176.2,726.5 1177.8,726.0 1178.2,726.5 1180.8,725.0 1181.5,726.2 1180.8,727.0 1180.2,726.0 1179.5,726.8 1180.0,729.8 1178.5,733.8 1179.8,735.0 1181.2,735.5 1183.5,733.2 1184.0,731.8 1183.5,731.2 1184.0,727.8 1182.0,726.2 1182.0,724.8 1184.8,721.5 1186.2,721.5 1187.2,719.5 1189.2,719.0 1190.8,720.0 1191.5,718.2 1193.2,717.5 1195.2,718.0 1196.0,719.8 1196.5,724.8 1197.0,725.2 1198.0,731.2 1198.5,731.8 1201.5,745.2 1202.5,747.2 1203.5,752.8 1209.0,767.8 1209.0,769.2 1214.0,784.2 1214.0,785.8 1216.0,790.8 1216.0,792.2 1219.0,801.2 1220.0,802.8 1222.5,811.2 1224.5,815.8 1225.0,825.8 1225.5,826.2 1225.5,830.8 1224.5,834.2 1223.5,843.2 1219.5,857.2 1214.8,861.5 1213.8,861.5 1208.2,864.0 1205.8,864.0ZM936.2,724.0 934.5,722.8 934.5,721.8 933.5,720.8 933.8,719.5 935.8,719.5 938.0,720.8ZM1029.8,727.5 1028.0,722.8 1028.5,721.2 1030.2,719.5 1032.2,719.5 1034.0,721.2 1034.0,723.8 1032.8,726.0ZM1194.5,721.2 1195.0,719.8 1193.8,719.5 1193.0,720.8ZM955.5,729.8 957.8,729.5 959.0,728.2 959.0,726.2 956.2,723.0 954.8,723.0 953.2,722.0 952.0,722.8 952.0,724.2 953.5,725.8 953.5,729.2 954.2,730.0ZM1162.8,725.5 1161.0,725.2 1161.0,724.2 1161.8,723.5 1163.0,724.2ZM1111.8,745.5 1106.5,735.2 1106.5,734.2 1109.0,732.2 1110.0,728.8 1111.2,727.0 1115.2,727.0 1116.2,727.5 1119.0,730.2 1119.5,731.2 1119.0,732.8 1119.5,735.2 1120.8,736.5 1121.8,736.0 1122.2,735.0 1127.2,733.0 1131.0,738.2 1130.8,739.0 1127.2,739.5 1125.2,740.5 1116.8,742.0ZM991.0,733.2 991.5,732.8 991.5,730.2 988.2,730.0 987.5,731.2 987.5,732.8 988.2,733.0 988.8,732.5 989.8,733.5ZM1145.8,738.5 1142.5,735.8 1142.8,735.0 1144.8,735.0 1146.0,736.2 1146.5,737.8ZM745.2,746.5 745.0,744.2 745.8,743.5 747.8,743.0 748.8,742.0 750.5,742.2 746.2,745.0ZM736.8,764.0 731.8,760.0 727.0,757.2 728.8,756.0 731.8,755.5 733.8,754.5 736.8,750.0 741.2,749.5 744.8,746.5 745.0,748.2 743.5,751.8 742.0,758.2Z"/>
<path fill="#FF2BEF" d="M1202.8,865.0 1199.5,860.2 1199.0,856.8 1197.0,852.8 1194.5,849.2 1188.5,844.2 1185.5,836.2 1183.5,827.2 1177.5,820.2 1175.0,816.2 1174.0,814.2 1173.0,808.8 1171.5,805.2 1170.5,800.8 1168.0,795.8 1165.0,792.8 1166.0,787.8 1168.0,782.2 1168.0,772.2 1167.5,771.8 1166.0,764.2 1163.0,758.2 1157.5,750.8 1153.5,746.8 1153.5,745.8 1154.8,744.5 1159.2,743.5 1160.0,744.8 1158.0,747.8 1158.8,749.0 1161.8,749.0 1163.2,748.0 1165.2,750.5 1167.8,751.0 1170.2,749.5 1171.2,749.5 1172.5,748.2 1172.5,745.8 1172.0,745.2 1172.8,745.0 1176.2,741.0 1178.8,743.0 1183.8,743.0 1185.8,744.0 1186.0,742.8 1185.2,742.5 1184.0,740.8 1184.5,736.8 1190.5,730.2 1187.0,727.8 1187.5,727.2 1186.5,724.8 1187.2,724.0 1188.8,724.5 1191.2,723.0 1195.2,723.0 1195.8,722.5 1196.5,722.8 1198.0,731.2 1198.5,731.8 1201.5,745.2 1202.5,747.2 1203.5,752.8 1209.0,767.8 1209.0,769.2 1214.0,784.2 1214.0,785.8 1216.0,790.8 1216.0,792.2 1219.0,801.2 1220.0,802.8 1222.5,811.2 1224.5,815.8 1225.0,825.8 1225.5,826.2 1225.5,830.8 1224.5,834.2 1223.5,843.2 1219.5,857.2 1214.8,861.5 1213.8,861.5 1208.2,864.0 1205.8,864.0ZM859.8,844.0 852.2,841.0 840.8,840.0 823.0,831.2 814.0,812.8 809.5,799.2 803.0,789.2 795.0,779.8 791.5,771.8 791.5,770.8 790.0,768.2 790.0,767.2 782.5,753.8 772.8,743.0 769.0,741.8 770.8,739.0 773.2,739.0 778.8,742.0 779.8,742.0 781.8,746.0 781.5,745.2 782.8,745.0 784.2,742.5 785.2,742.0 785.8,742.5 787.8,742.5 788.0,746.2 789.2,747.0 791.8,750.0 794.2,750.5 795.8,752.5 799.8,754.0 801.8,754.0 802.0,755.2 801.5,755.8 802.2,757.5 803.2,755.5 804.2,756.0 806.8,756.0 810.2,754.5 810.8,755.0 812.2,754.0 814.2,754.0 815.2,753.5 817.0,750.8 818.2,750.0 818.8,750.5 820.2,750.5 821.8,752.0 824.8,751.0 826.2,752.0 828.5,747.2 831.8,746.0 838.8,751.0 840.2,751.0 841.8,750.0 842.2,750.5 843.0,749.8 843.0,748.8 840.8,748.0 840.0,746.8 840.5,745.8 839.8,745.0 839.0,745.2 839.2,744.5 840.2,744.5 841.2,743.5 842.2,743.5 843.8,742.5 846.2,742.5 848.8,740.5 850.2,741.5 855.2,741.5 859.8,739.0 860.2,738.0 860.8,738.5 864.2,738.0 867.2,735.5 872.2,738.0 875.2,737.5 876.5,735.2 877.8,734.0 880.2,733.5 882.8,730.0 885.8,729.5 886.8,728.0 887.8,728.0 888.5,726.8 889.8,726.0 890.8,726.5 894.2,725.0 894.8,725.5 896.2,725.0 898.0,726.8 898.0,728.2 899.8,730.0 902.2,730.0 906.8,727.0 909.2,728.0 910.2,729.5 912.2,730.0 913.0,731.2 914.2,732.0 916.8,731.0 917.2,731.5 918.2,731.0 919.2,731.5 919.8,731.0 920.8,732.5 921.8,732.5 923.2,730.5 923.8,731.0 926.2,730.0 929.2,730.0 930.8,731.0 931.8,731.0 932.5,731.8 932.5,733.2 933.8,734.0 935.2,733.5 936.8,732.0 937.8,732.0 942.8,736.5 948.8,732.0 951.8,734.0 954.8,734.0 958.2,732.0 960.8,732.0 963.8,734.0 966.8,734.0 969.8,732.5 972.8,732.5 974.0,734.8 976.8,737.5 978.8,737.5 979.2,738.0 982.8,738.0 983.2,737.5 990.2,738.0 993.5,735.8 994.5,733.2 997.5,729.8 997.5,728.8 999.8,727.0 1000.8,727.0 1004.0,730.2 1003.2,730.5 1002.5,731.8 1003.0,732.8 1003.8,733.5 1006.0,733.2 1006.5,737.2 1007.2,738.0 1008.8,738.0 1009.2,738.5 1014.8,735.0 1015.5,733.8 1015.5,732.2 1017.8,731.5 1018.8,730.0 1022.8,730.0 1023.2,729.5 1025.8,734.0 1026.8,734.5 1027.2,733.5 1029.8,732.0 1033.0,734.8 1028.2,740.5 1023.0,743.8 1024.5,747.2 1031.0,751.8 1028.0,756.8 1028.8,757.5 1035.5,758.2 1033.2,762.0 1032.2,762.0 1028.2,764.0 1026.0,759.8 1027.5,757.2 1025.8,756.0 1022.8,755.0 1018.8,750.5 1013.8,750.5 1008.2,755.5 1007.8,755.0 1001.8,755.0 999.2,759.5 997.2,758.5 992.2,757.5 985.5,750.8 979.2,742.5 977.2,742.5 974.2,741.5 971.8,741.5 967.8,743.5 963.2,747.5 962.8,747.0 956.2,747.0 948.8,742.0 946.8,742.0 943.8,741.0 931.8,741.0 927.8,743.0 920.2,745.5 917.8,747.0 915.8,746.0 914.2,746.0 913.5,744.8 913.5,743.2 912.8,742.5 908.2,743.5 908.0,744.8 908.5,745.2 909.0,749.8 906.5,754.8 901.2,760.0 895.2,764.0 888.2,767.5 882.2,768.5 877.2,772.0 872.8,774.0 870.0,779.2 865.2,782.0 863.0,784.8 860.5,791.2 855.0,793.2 857.0,797.2 857.0,798.2 854.8,802.5 850.5,803.8 854.8,806.5 855.5,807.8 858.0,818.2 859.0,820.2 859.0,821.8 862.5,832.8 864.0,842.2 862.8,841.5ZM868.8,735.0 866.8,734.0 863.0,733.8 864.2,732.0 865.8,732.0 866.2,730.5 866.8,731.0 867.2,730.5 868.2,731.0 870.2,728.0 871.2,728.0 873.2,729.5 875.0,729.8 875.5,731.8 874.2,733.0 872.8,733.5 871.2,733.0ZM1008.2,733.5 1006.8,733.5 1005.5,731.8 1006.8,730.0 1008.8,729.0 1010.0,729.8 1009.5,731.2 1010.0,731.8 1009.5,732.8ZM758.2,741.5 753.0,741.2 756.8,738.5 757.8,737.0 759.8,736.5 761.0,735.2 760.5,734.8 760.5,732.8 761.8,731.5 764.2,732.0 768.0,735.2 769.0,738.2 767.2,741.0 758.8,741.0ZM861.8,734.0 860.5,733.2 860.8,732.5 862.0,733.2ZM1176.2,740.5 1175.5,739.2 1174.8,736.0 1175.2,736.0 1176.5,737.8 1177.0,739.2ZM736.8,764.0 735.2,763.0 734.0,761.2 736.2,758.5 738.2,757.5 741.0,759.8Z"/>
<path fill="#FF57E7" d="M859.8,844.0 852.2,841.0 840.8,840.0 823.0,831.2 814.0,812.8 809.5,799.2 803.0,789.2 795.0,779.8 787.5,762.2 785.0,758.8 782.5,753.8 781.0,752.2 782.8,751.5 783.0,750.8 784.2,750.0 786.8,750.0 787.0,750.8 788.5,751.8 788.5,753.2 789.8,754.5 794.8,754.0 796.0,754.8 797.5,757.2 797.0,760.8 798.2,763.5 799.8,762.5 800.8,763.0 803.2,763.0 803.8,762.5 805.8,764.0 808.0,761.2 808.5,758.8 809.2,758.0 814.2,757.0 816.2,758.5 817.0,757.8 816.5,755.8 817.5,754.8 817.0,752.8 818.8,751.5 819.8,751.5 821.8,753.0 822.5,754.8 824.0,755.8 823.5,757.2 824.2,759.0 826.2,759.0 826.8,758.5 827.8,759.0 830.8,757.5 832.5,754.8 832.0,754.2 832.2,753.0 833.2,753.0 834.8,754.5 846.2,753.5 846.8,753.0 849.2,755.5 850.8,755.5 851.0,752.2 850.5,751.8 850.5,748.2 851.8,747.0 854.8,745.5 855.8,745.5 857.8,743.5 859.8,743.5 862.2,745.0 864.2,745.0 864.8,745.5 866.0,743.8 866.2,742.0 866.8,742.0 867.8,743.5 869.2,743.5 870.0,742.8 869.5,741.2 870.8,740.5 875.8,740.5 879.2,738.0 881.8,738.0 882.8,738.5 885.5,735.2 886.2,733.5 887.0,734.8 888.2,735.5 889.8,735.5 891.8,734.0 892.2,734.5 894.8,732.5 895.8,733.0 897.2,732.5 898.2,733.0 899.2,734.5 900.2,733.5 901.8,733.5 903.8,732.0 904.8,733.0 906.2,733.0 906.8,732.5 907.0,733.2 906.5,734.2 908.2,735.5 908.8,735.5 909.8,734.0 912.2,733.5 916.8,736.0 919.0,738.2 920.0,740.8 919.5,741.2 920.8,742.0 921.8,742.0 922.5,741.2 923.5,739.2 923.0,736.8 923.8,736.0 926.2,738.0 928.8,738.0 930.2,737.0 933.8,738.5 935.8,738.5 938.2,737.0 939.2,737.0 941.2,738.5 943.8,739.0 945.0,740.2 945.2,741.5 943.8,741.0 931.8,741.0 927.8,743.0 920.2,745.5 917.8,747.0 915.8,746.0 914.2,746.0 913.5,744.8 913.5,743.2 912.8,742.5 908.2,743.5 908.0,744.8 908.5,745.2 909.0,749.8 906.5,754.8 901.2,760.0 895.2,764.0 888.2,767.5 882.2,768.5 877.2,772.0 872.8,774.0 870.0,779.2 865.2,782.0 863.0,784.8 860.5,791.2 855.0,793.2 857.0,797.2 857.0,798.2 854.8,802.5 850.5,803.8 854.8,806.5 855.5,807.8 858.0,818.2 859.0,820.2 859.0,821.8 862.5,832.8 864.0,842.2 862.8,841.5ZM960.2,739.5 958.2,739.0 956.5,737.2 956.5,736.8 958.8,735.0 959.8,735.0 961.5,736.2 962.0,737.8 961.5,738.8 960.8,738.5ZM969.2,743.0 968.2,743.0 967.5,742.2 967.0,740.8 967.0,739.2 967.5,738.8 967.0,738.2 967.8,736.5 970.2,735.0 971.2,735.0 973.5,738.8 977.0,741.8 974.8,742.0 974.2,741.5 971.8,741.5ZM1028.2,764.0 1026.0,759.8 1027.5,757.2 1025.8,756.0 1022.8,755.0 1018.8,750.5 1013.8,750.5 1008.2,755.5 1007.8,755.0 1001.8,755.0 999.2,759.5 997.2,758.5 992.2,757.5 985.5,750.8 980.5,744.2 980.0,742.2 981.8,741.0 986.8,740.5 987.5,741.2 987.5,745.2 988.0,746.8 990.2,748.0 992.2,748.0 994.0,744.8 994.0,743.2 993.0,741.8 994.5,740.8 995.0,739.2 996.8,737.5 998.0,737.8 997.5,738.2 997.8,740.0 1001.8,738.5 1004.2,738.5 1006.2,746.0 1012.2,746.0 1018.2,739.5 1022.8,739.0 1024.2,740.0 1026.2,740.0 1027.5,740.8 1023.2,743.5 1023.0,744.2 1025.2,748.0 1031.0,751.8 1028.0,756.8 1028.8,757.5 1035.5,758.2 1033.2,762.0 1032.2,762.0ZM965.2,744.0 964.0,743.2 964.8,742.0 966.5,742.8ZM774.2,744.0 773.0,743.2 773.2,742.5 774.5,742.8ZM961.2,747.0 956.2,747.0 953.0,744.8 955.2,743.5 958.2,743.5 961.0,745.8ZM963.8,747.0 963.0,746.2 963.2,745.5 964.5,745.8ZM1202.8,865.0 1199.5,860.2 1199.0,856.8 1197.0,852.8 1194.5,849.2 1188.5,844.2 1185.5,836.2 1183.5,827.2 1177.5,820.2 1175.0,816.2 1174.0,814.2 1173.0,808.8 1171.5,805.2 1170.5,800.8 1168.0,795.8 1165.0,792.8 1166.0,787.8 1168.0,782.2 1168.0,772.2 1167.5,771.8 1166.0,764.2 1164.0,760.8 1165.8,759.5 1167.8,762.0 1170.0,760.2 1170.0,759.2 1171.0,758.2 1170.2,757.0 1169.2,757.0 1166.8,759.0 1165.0,757.8 1165.0,755.8 1165.8,755.0 1167.2,755.5 1169.2,754.0 1174.2,752.0 1176.5,748.8 1179.2,746.5 1182.2,746.5 1184.0,748.2 1185.0,751.2 1185.0,753.2 1187.8,755.5 1188.8,755.0 1189.2,755.5 1190.5,754.2 1191.5,752.8 1191.5,749.8 1193.8,747.5 1195.0,749.8 1193.0,752.8 1195.8,755.0 1199.8,755.0 1203.5,752.2 1209.0,767.8 1209.0,769.2 1214.0,784.2 1214.0,785.8 1216.0,790.8 1216.0,792.2 1219.0,801.2 1220.0,802.8 1222.5,811.2 1224.5,815.8 1225.5,830.8 1224.5,834.2 1223.5,843.2 1223.0,843.8 1223.0,845.2 1222.5,845.8 1220.0,856.2 1219.5,857.2 1214.8,861.5 1213.8,861.5 1208.2,864.0 1205.8,864.0ZM738.2,762.5 738.0,761.8 739.2,760.5 739.5,761.2ZM736.8,764.0 736.0,763.2 736.2,763.0 737.5,763.2Z"/>
<path fill="#FF83DF" d="M859.8,844.0 852.2,841.0 840.8,840.0 823.0,831.2 814.0,812.8 809.5,799.2 803.0,789.2 795.0,779.8 791.5,771.8 791.5,770.8 790.0,768.2 790.0,767.2 787.5,762.2 785.0,758.8 784.0,756.8 784.2,756.0 785.5,756.2 786.0,757.2 785.5,757.8 785.8,758.5 787.2,758.0 787.8,758.5 788.2,758.0 791.8,759.5 793.5,761.8 794.0,765.2 795.2,766.5 796.8,767.0 799.8,767.0 801.2,766.0 802.8,766.0 804.8,767.5 805.2,767.0 806.8,768.0 808.0,766.2 808.0,765.2 811.8,761.0 812.8,761.0 814.2,762.0 814.8,761.5 817.8,761.5 819.2,760.5 819.5,761.2 820.5,761.8 820.5,763.8 821.0,764.2 820.5,764.8 820.5,766.2 821.2,767.0 825.8,767.0 826.2,766.5 827.8,767.0 828.5,766.2 829.0,764.2 831.0,762.8 831.5,761.8 831.0,760.8 833.5,758.8 835.2,756.0 835.8,756.5 836.2,756.0 838.2,756.0 838.8,756.5 843.2,756.0 844.8,756.5 846.8,759.0 848.8,760.0 852.2,757.5 855.2,757.0 856.5,755.8 856.0,749.8 856.8,749.0 857.8,749.0 859.8,747.5 860.2,748.0 865.8,748.5 866.8,749.5 867.2,749.0 868.8,749.5 869.8,747.5 871.2,747.0 871.8,747.5 877.2,747.0 878.2,746.0 879.2,746.0 881.8,748.0 883.2,748.0 885.8,745.5 887.5,745.2 888.0,743.8 887.0,743.2 887.8,742.5 888.8,742.0 889.2,742.5 890.8,742.5 894.8,737.0 898.2,737.0 900.2,738.0 900.0,739.2 901.2,741.5 905.2,741.5 905.8,742.0 907.8,742.0 908.2,741.5 908.8,742.0 910.2,742.0 911.8,741.0 913.5,742.2 913.2,743.0 911.8,742.5 908.0,743.8 909.0,749.8 906.5,754.8 901.2,760.0 895.2,764.0 888.2,767.5 882.2,768.5 877.2,772.0 872.8,774.0 870.0,779.2 865.2,782.0 863.0,784.8 860.5,791.2 855.0,793.2 857.0,797.2 857.0,798.2 854.8,802.5 850.5,803.8 854.8,806.5 855.5,807.8 858.0,818.2 859.0,820.2 859.0,821.8 862.5,832.8 864.0,842.2 862.8,841.5ZM911.8,740.5 910.5,739.2 911.2,738.0 913.0,738.8ZM930.2,742.0 929.2,742.0 929.0,741.2 930.8,740.5 931.5,741.2ZM917.8,747.0 915.8,746.0 914.2,746.0 913.5,744.8 913.5,743.2 916.2,745.0 921.5,745.2ZM892.0,750.2 894.0,749.2 894.0,747.2 892.8,745.5 891.2,744.5 890.2,744.5 889.0,745.8 889.0,749.2 889.8,750.0ZM1021.8,753.5 1021.2,753.5 1019.5,751.2 1022.5,747.2 1022.5,746.2 1022.8,746.0 1023.2,747.0 1023.8,746.0 1025.2,748.0 1028.0,749.8 1027.2,750.5 1025.8,749.5 1024.2,749.0 1023.8,749.5 1023.2,749.0 1021.5,751.2ZM905.5,750.2 907.0,749.2 907.0,748.2 906.2,747.5 902.8,747.5 901.8,747.0 900.5,748.2 901.2,750.5ZM991.8,757.0 985.5,750.8 984.0,748.8 984.2,748.0 986.2,749.5 992.8,750.5 994.5,751.8 995.0,753.2ZM1011.8,752.5 1010.5,752.2 1010.5,750.2 1013.8,748.5 1014.8,748.5 1016.8,750.0 1018.0,750.2 1013.8,750.5ZM897.0,756.2 898.5,753.8 897.2,753.0 895.8,753.0 893.5,754.8 893.5,755.8 894.2,756.5ZM1033.2,762.0 1031.2,762.0 1030.2,761.0 1026.8,760.5 1026.0,759.8 1027.5,757.2 1023.5,755.2 1025.2,755.0 1027.8,753.5 1029.8,753.5 1029.5,754.8 1028.0,756.8 1028.8,757.5 1035.5,758.2ZM1202.8,865.0 1199.5,860.2 1199.0,856.8 1197.0,852.8 1194.5,849.2 1188.5,844.2 1185.5,836.2 1183.5,827.2 1177.5,820.2 1175.0,816.2 1174.0,814.2 1173.0,808.8 1171.5,805.2 1170.5,800.8 1168.0,795.8 1165.0,792.8 1166.0,787.8 1168.0,782.2 1168.0,772.2 1166.5,767.2 1169.8,764.5 1173.2,763.0 1174.5,764.8 1173.8,766.0 1172.2,766.5 1170.5,768.2 1170.5,770.2 1173.2,772.5 1174.8,772.5 1176.8,773.5 1178.8,773.5 1180.0,772.2 1180.0,771.2 1178.5,768.8 1178.5,765.8 1180.0,763.2 1180.0,761.8 1178.0,758.8 1177.5,755.2 1180.2,753.5 1181.0,755.8 1182.0,756.8 1181.5,759.2 1182.5,760.2 1182.5,763.2 1184.0,765.2 1184.0,768.2 1184.5,769.2 1186.8,771.0 1188.8,770.5 1189.5,769.2 1189.5,766.8 1188.5,764.8 1190.5,761.2 1191.8,760.5 1196.2,760.0 1198.8,762.0 1200.2,762.0 1200.8,762.5 1201.2,762.0 1204.8,762.0 1205.2,762.5 1206.8,762.5 1207.5,763.2 1209.0,767.8 1209.0,769.2 1210.5,772.8 1210.5,774.2 1212.0,777.8 1212.0,779.2 1214.0,784.2 1214.0,785.8 1216.0,790.8 1216.0,792.2 1219.0,801.2 1220.0,802.8 1222.5,811.2 1224.5,815.8 1225.5,830.8 1224.5,834.2 1223.5,843.2 1223.0,843.8 1223.0,845.2 1222.5,845.8 1220.0,856.2 1219.5,857.2 1214.8,861.5 1213.8,861.5 1208.2,864.0 1205.8,864.0ZM867.0,761.8 867.5,761.2 866.8,760.5 865.5,760.8 866.2,762.0ZM848.0,767.2 849.5,764.8 849.2,763.0 848.2,763.0 845.8,765.5 843.5,766.8 843.8,767.5ZM1199.5,769.8 1200.5,768.8 1200.5,765.8 1199.5,764.2 1198.2,763.5 1197.0,765.8 1197.0,768.8 1198.2,770.0Z"/>
<path fill="#FFAFD7" d="M1033.8,759.5 1031.8,759.0 1030.5,757.8 1034.2,758.0 1034.5,758.8ZM886.8,764.0 885.2,763.5 883.5,761.8 883.5,760.2 885.8,758.5 888.2,758.5 889.5,759.2 890.0,760.8 889.5,761.8ZM893.2,765.0 893.0,762.2 893.8,761.5 897.2,761.0 898.5,761.8ZM874.2,771.0 872.5,769.2 873.0,765.2 875.8,763.0 878.2,763.0 879.2,763.5 880.0,764.2 879.5,766.2ZM859.8,844.0 852.2,841.0 840.8,840.0 823.0,831.2 814.0,812.8 809.5,799.2 803.0,789.2 799.0,784.8 798.5,783.8 799.0,782.8 798.5,781.2 796.2,781.0 795.0,779.8 793.0,775.2 793.0,774.2 793.8,773.5 794.8,773.5 797.8,777.0 799.8,777.5 802.2,779.0 804.2,779.0 806.0,777.2 807.2,775.0 811.2,775.0 812.0,773.8 812.0,769.8 815.2,769.0 816.0,769.8 816.0,771.8 819.8,774.0 820.8,774.0 823.8,771.5 825.8,771.5 829.2,774.0 830.2,774.0 832.8,772.0 835.2,772.0 836.0,773.8 835.0,776.8 836.2,778.5 838.2,778.5 839.8,778.0 845.2,773.5 849.8,774.0 851.5,771.8 851.0,771.2 851.0,768.8 852.0,765.8 853.8,764.0 854.8,764.0 856.0,765.2 857.5,767.8 858.0,772.2 860.2,774.0 862.8,774.5 865.5,777.8 863.5,779.8 863.5,780.8 864.5,781.8 864.5,783.2 863.0,784.8 860.5,791.2 855.0,793.2 857.0,797.2 857.0,798.2 855.0,802.2 850.5,803.8 854.8,806.5 855.5,807.8 858.0,818.2 859.0,820.2 859.0,821.8 862.5,832.8 864.0,842.2 862.8,841.5ZM1202.8,865.0 1199.5,860.2 1199.0,856.8 1197.0,852.8 1194.5,849.2 1188.5,844.2 1185.5,836.2 1183.5,827.2 1177.5,820.2 1175.0,816.2 1174.0,814.2 1173.0,808.8 1171.5,805.2 1170.5,800.8 1167.5,795.2 1168.0,794.8 1168.0,792.8 1169.8,791.0 1174.8,790.0 1176.0,787.2 1178.8,784.5 1180.8,784.5 1183.2,785.5 1183.5,787.2 1185.0,788.2 1185.2,789.5 1187.0,785.8 1187.0,783.8 1189.5,781.8 1190.0,779.2 1192.0,776.8 1192.0,774.8 1193.2,772.5 1194.8,773.0 1195.5,775.2 1197.2,776.5 1200.2,776.5 1200.8,776.0 1201.0,777.8 1200.2,778.0 1199.2,777.0 1198.2,777.0 1197.5,781.2 1196.2,782.0 1195.2,781.5 1193.2,783.5 1191.2,784.5 1191.2,785.0 1192.2,785.0 1196.2,789.0 1197.8,789.5 1199.2,789.5 1202.8,786.0 1204.2,786.5 1208.2,786.5 1208.5,789.2 1208.0,790.2 1205.0,792.8 1205.0,793.8 1205.8,794.5 1206.2,794.0 1206.8,794.5 1208.2,794.5 1210.2,793.0 1213.8,792.5 1215.8,790.5 1216.0,790.8 1216.0,792.2 1219.0,801.2 1220.0,802.8 1222.5,811.2 1224.5,815.8 1224.5,819.2 1225.0,819.8 1225.5,830.8 1224.5,834.2 1223.5,843.2 1223.0,843.8 1223.0,845.2 1222.5,845.8 1220.0,856.2 1219.5,857.2 1214.8,861.5 1213.8,861.5 1208.2,864.0 1205.8,864.0ZM868.2,780.5 867.5,780.2 866.5,777.8 867.8,776.5 871.8,775.0 870.0,779.2ZM847.5,784.8 848.0,784.2 848.0,782.2 846.8,781.0 844.8,781.0 844.0,781.8 844.5,783.2 846.2,785.0ZM833.0,793.8 834.8,793.0 836.5,791.2 836.5,789.8 834.8,788.5 833.8,788.5 831.5,791.2 831.5,793.8ZM1202.0,800.8 1203.5,798.2 1203.5,796.8 1202.8,796.0 1199.8,797.0 1199.0,798.2 1199.8,801.0Z"/>
<path fill="#82200E" d="M1187.8,791.0 1185.0,789.8 1187.0,785.8 1187.0,783.8 1189.5,781.8 1190.0,779.2 1192.0,776.8 1192.0,774.8 1193.0,772.8 1194.8,773.0 1195.5,775.2 1197.2,776.5 1200.2,776.5 1200.8,776.0 1200.8,778.0 1199.2,777.0 1198.0,777.2 1198.0,780.2 1197.2,781.5 1196.2,782.0 1195.2,781.5 1190.0,785.8ZM857.8,780.5 852.8,780.0 851.8,779.5 851.0,778.2 852.0,776.8 853.2,776.0 854.8,775.5 855.2,776.0 856.8,776.0 859.0,777.8 859.0,779.2ZM859.8,844.0 852.2,841.0 840.8,840.0 823.0,831.2 814.0,812.8 810.5,801.2 808.5,798.2 808.5,797.2 810.5,795.8 809.2,795.0 809.5,794.2 807.2,792.5 806.2,792.5 805.8,793.5 805.0,792.8 800.5,786.2 800.5,785.2 801.2,784.5 803.8,784.0 804.5,784.8 804.5,786.2 805.8,789.0 806.2,787.5 811.2,785.5 811.8,786.0 810.0,781.2 809.2,781.0 808.5,779.8 808.5,778.8 809.8,777.5 813.8,777.5 818.2,780.5 820.8,780.5 821.5,784.2 822.8,786.5 825.2,786.5 825.0,785.8 825.5,784.8 827.8,783.5 829.2,784.0 830.0,785.2 829.5,788.2 828.2,789.0 825.2,789.0 824.5,789.8 825.5,790.2 825.5,792.8 823.5,792.8 824.0,793.2 823.0,794.2 823.0,796.2 824.0,798.2 825.8,800.0 828.8,800.5 830.2,802.5 831.5,801.8 832.0,800.2 833.8,799.0 837.2,795.0 839.5,793.8 839.0,787.2 835.5,783.2 836.0,782.2 837.2,781.5 840.2,782.0 843.5,785.8 845.5,789.2 845.0,790.8 845.2,792.0 847.8,793.5 849.2,793.5 849.8,793.0 850.2,793.5 850.5,792.8 851.5,792.2 851.5,793.2 853.5,795.2 854.0,797.8 856.5,799.2 854.8,802.5 850.5,803.8 854.8,806.5 855.5,807.8 858.0,818.2 862.0,830.8 862.5,834.8 863.0,835.2 863.0,837.8 864.0,840.8 863.8,842.5 863.5,841.8 862.8,841.5ZM853.2,789.5 851.5,788.8 851.5,787.2 853.2,785.5 855.0,786.2 855.0,788.2ZM1181.8,793.0 1181.0,792.8 1183.0,790.2 1183.5,788.2 1184.8,788.0 1185.0,788.8 1183.5,791.8ZM1173.2,797.0 1171.5,796.8 1171.5,795.2 1172.2,794.5 1173.5,795.8ZM1202.8,865.0 1199.5,860.2 1199.0,856.8 1197.0,852.8 1194.5,849.2 1188.5,844.2 1185.5,836.2 1183.5,827.2 1178.5,821.2 1181.2,821.5 1182.8,820.0 1183.8,820.0 1185.5,818.8 1185.2,817.5 1183.0,817.8 1182.5,816.8 1183.0,816.2 1182.0,814.2 1179.5,812.2 1179.5,811.2 1181.8,809.0 1182.8,808.5 1185.2,809.0 1189.2,812.0 1190.2,811.0 1192.2,811.0 1192.5,811.8 1193.8,812.5 1196.0,810.8 1195.8,808.0 1195.2,808.5 1193.8,806.5 1188.8,804.5 1187.0,802.8 1186.5,798.2 1188.8,797.0 1189.2,797.0 1190.2,798.5 1191.8,798.5 1192.2,799.0 1193.8,798.5 1194.5,799.8 1198.0,802.8 1198.0,806.8 1201.2,809.5 1204.2,811.0 1207.2,811.0 1208.0,810.2 1209.5,807.2 1209.0,804.8 1208.0,803.2 1208.8,802.0 1211.2,802.5 1213.0,804.2 1213.0,805.8 1215.8,808.0 1218.2,808.0 1221.2,807.0 1224.5,815.8 1225.5,830.8 1224.5,834.2 1223.5,843.2 1223.0,843.8 1223.0,845.2 1222.5,845.8 1220.0,856.2 1219.5,857.2 1214.8,861.5 1213.8,861.5 1208.2,864.0 1205.8,864.0ZM1176.8,805.0 1175.0,803.2 1175.0,801.8 1175.8,801.0 1176.8,801.0 1178.0,802.8ZM825.5,810.8 827.2,810.0 829.0,808.2 828.2,808.0 825.8,809.5 825.0,810.2 825.0,810.8Z"/>
<path fill="#984533" d="M859.8,844.0 852.2,841.0 840.8,840.0 823.2,831.5 816.5,818.2 817.8,818.0 818.8,818.5 821.8,817.5 824.2,818.5 825.2,819.5 827.2,819.5 827.8,820.0 829.8,820.0 830.2,819.5 831.5,821.2 832.5,824.8 833.2,825.5 834.2,825.5 835.8,825.0 837.0,823.8 837.0,821.8 837.8,821.5 838.8,820.0 843.5,817.2 842.5,815.8 843.8,814.5 846.2,816.0 846.8,815.5 847.2,816.0 849.0,814.8 848.5,813.2 850.8,810.0 851.8,809.5 853.8,810.5 855.0,811.8 854.5,812.2 855.0,812.8 854.5,814.8 856.0,815.8 855.5,816.8 858.2,819.0 859.0,820.2 859.0,821.8 862.5,832.8 862.0,833.2 862.5,833.8 863.5,840.2 864.0,840.8 863.8,842.5 863.5,841.8 862.8,841.5ZM836.8,819.0 835.8,819.0 834.0,817.8 833.0,815.8 833.2,814.0 835.8,814.0 838.0,814.8 838.5,816.2ZM1202.8,865.0 1199.5,860.2 1199.0,856.8 1197.0,852.8 1194.5,849.2 1188.5,844.2 1185.5,836.2 1184.5,830.2 1186.8,830.0 1187.5,831.2 1189.2,832.5 1192.2,830.5 1194.2,831.0 1195.8,828.5 1198.0,828.2 1198.5,825.8 1199.8,825.0 1200.2,824.0 1201.2,823.5 1201.8,824.5 1206.2,824.5 1207.8,822.5 1209.8,821.5 1211.2,821.5 1211.5,822.2 1210.0,823.2 1210.0,825.2 1209.2,825.0 1209.0,826.2 1210.2,827.5 1211.8,827.5 1212.8,827.0 1215.0,824.2 1213.0,822.2 1213.8,820.0 1218.8,820.5 1220.2,822.5 1222.8,822.5 1223.2,823.0 1224.2,822.5 1225.5,826.2 1225.5,830.8 1224.5,834.2 1223.5,843.2 1219.5,857.2 1214.8,861.5 1213.8,861.5 1208.2,864.0 1205.8,864.0ZM1199.8,822.5 1198.5,821.8 1199.2,820.5 1200.5,820.8 1200.5,821.8ZM1186.8,828.5 1185.2,828.5 1185.0,828.2 1186.8,828.0Z"/>
<path fill="#B0695C" d="M859.8,844.0 852.2,841.0 840.8,840.0 823.0,831.2 825.0,829.8 825.2,828.5 829.2,828.0 830.8,829.5 833.2,830.5 835.2,829.5 837.8,829.5 839.2,830.5 841.2,830.0 844.2,832.5 844.5,831.2 846.2,829.5 847.8,829.0 849.2,827.0 850.8,827.0 853.2,828.0 855.2,827.0 856.5,825.8 856.5,824.2 857.2,824.0 858.0,824.8 857.5,826.8 859.5,827.8 859.5,830.2 861.0,832.2 860.5,834.2 863.0,837.2 864.0,840.8 863.8,842.5 863.5,841.8 862.8,841.5ZM821.8,828.5 821.0,827.2 821.8,826.5 822.5,827.2ZM1222.8,845.0 1218.8,843.5 1218.2,844.0 1216.0,842.8 1216.0,840.8 1215.0,840.2 1217.2,837.5 1218.2,838.0 1218.8,837.0 1224.0,840.2 1223.5,840.8 1223.5,843.2ZM1202.8,865.0 1199.5,860.2 1199.0,856.8 1198.0,854.2 1194.5,849.2 1191.5,846.8 1191.5,845.8 1192.8,845.0 1193.2,845.5 1197.8,846.0 1199.2,847.0 1201.8,847.0 1202.0,845.8 1201.5,844.8 1203.8,844.5 1204.8,845.0 1205.0,842.8 1205.8,842.0 1206.8,842.0 1207.2,843.0 1208.2,843.0 1210.8,845.0 1212.2,844.0 1216.8,844.5 1218.0,847.2 1218.0,849.2 1219.5,849.8 1220.0,851.8 1217.8,854.0 1214.8,854.5 1210.2,857.0 1208.8,856.5 1207.5,858.2 1208.5,859.2 1208.5,860.2 1209.5,861.2 1210.0,863.2 1208.2,864.0 1203.2,864.5ZM1200.5,850.2 1200.5,848.2 1198.8,848.0 1198.5,848.8 1199.2,849.0 1200.2,850.5Z"/>
<path fill="#CB9086" d="M857.8,843.0 852.2,841.0 840.8,840.0 836.8,838.0 836.0,837.2 836.0,836.2 838.2,834.0 839.8,835.0 842.8,835.5 845.2,837.0 847.2,837.0 849.2,835.0 853.2,835.0 856.2,838.5 857.8,838.5 859.2,840.5 860.5,840.8 858.2,841.5ZM1213.2,854.0 1212.2,854.0 1209.5,850.2 1210.0,849.2 1211.8,848.0 1213.0,848.2 1212.5,850.8 1213.5,853.2ZM1205.8,863.0 1203.8,862.5 1203.0,861.2 1204.8,861.0 1206.2,861.5 1206.5,862.2Z"/>
<path fill="#E7B8B0" d="M839.2,837.0 838.8,836.0 836.5,835.8 838.2,834.0 841.0,835.2Z"/>
<path fill="none" stroke="#CB9086" stroke-width="2.6" d="M1162.0,878.6 L1166.0,878.6"/>
<path fill="none" stroke="#E7B8B0" stroke-width="2.4" d="M1178.3,880.2 L1182.9,878.8"/>
<path fill="none" stroke="#E7B8B0" stroke-width="4.6" d="M1186.2,880.2 L1192.0,876.7 L1199.6,875.0"/>
<path fill="none" stroke="#CB9086" stroke-width="3.0" d="M1200.1,877.0 L1206.0,875.0"/>
<path fill="none" stroke="#CB9086" stroke-width="3.4" d="M1207.4,874.1 L1211.8,869.2 L1218.8,863.6"/>
<path fill="none" stroke="#CB9086" stroke-width="2.4" d="M1220.0,855.7 L1221.8,857.5"/>
<path fill="none" stroke="#FFAFD7" stroke-width="3.4" stroke-dasharray="60 3 14 4 22 3 9 5" d="M865.6,842.5 L863.8,833.5 L861.1,822.7 L858.4,813.8 L857.8,806.6 L859.8,799.8 L862.3,793.7 L865.2,789.0 L870.2,784.0 L875.6,778.6 L882.8,773.8 L890.0,770.7 L897.1,767.1 L903.4,762.6 L907.9,757.8"/>
<path fill="none" stroke="#FF83DF" stroke-width="1.6" stroke-dasharray="5 2 3 2" d="M1039.9,736.3 L1037.9,743.8 L1032.0,750.6"/>
<path fill="none" stroke="#FF57E7" stroke-width="1.6" stroke-dasharray="4 3" d="M996.7,762.1 L1010.1,761.4"/>
<path fill="#87D4F0" d="M443.8,554.5 442.5,553.8 443.2,553.0 444.0,553.8ZM494.8,555.0 494.2,555.0 494.0,554.2 495.2,553.5 495.5,554.2ZM445.2,559.0 444.0,557.8 444.2,554.5 445.5,558.2ZM499.8,556.0 497.2,556.0 495.5,554.8 496.8,554.5 497.8,555.5 499.8,555.5ZM501.8,556.0 501.2,555.5 500.0,555.2 501.8,555.0ZM431.2,558.0 430.5,557.2 430.8,556.5 431.5,556.8ZM439.8,562.5 439.5,561.8 438.5,561.2 439.8,559.5ZM449.8,564.0 449.5,563.8 449.8,561.5 450.0,561.8ZM434.2,568.0 433.5,567.2 434.2,566.5 436.8,566.5 438.0,565.2 438.0,564.2 439.0,564.2 439.0,565.2 440.0,566.2 439.8,567.0 439.2,567.0 438.8,566.0 436.8,567.5 435.2,567.5 434.8,567.0ZM496.8,566.5 495.0,564.2 495.2,564.0 496.2,564.0 497.0,564.8ZM508.2,567.5 507.2,567.5 506.5,566.8 507.2,565.5ZM493.2,570.5 491.0,567.8 493.2,566.0 494.0,567.2 494.0,569.2ZM435.2,570.5 434.0,569.8 434.8,568.0 436.5,569.2 436.5,569.8ZM450.8,571.5 450.5,569.2 449.8,568.0 451.5,569.2ZM479.2,575.0 479.0,573.2 480.5,572.2 481.8,570.0 482.5,570.8ZM492.8,580.5 493.0,576.2 493.5,575.8 492.5,572.2 492.8,570.5 494.5,574.2 493.5,576.8 494.0,578.2ZM444.8,574.5 444.5,573.8 442.5,572.2 442.8,572.0 443.8,572.5 445.0,572.2 445.5,573.8ZM440.8,579.0 440.0,578.8 439.0,576.8 439.5,574.2 440.2,573.5 441.5,573.8 441.5,574.2 440.5,574.8ZM436.2,579.5 435.5,577.2 435.8,576.5 436.5,577.2ZM440.8,584.5 440.0,584.2 441.0,581.8 441.2,579.0 442.0,579.8 441.5,580.2 442.0,581.8ZM439.8,584.0 439.2,583.0 437.2,582.5 436.5,581.8 436.8,579.5 437.0,580.8 438.2,582.0 439.2,581.5 440.0,581.8ZM450.8,587.0 449.8,587.0 449.0,585.8 449.8,585.5ZM462.8,587.5 462.0,586.2 462.2,585.5 463.0,586.2ZM467.2,594.0 466.8,594.0 465.5,592.2 465.0,591.2 465.2,590.0 467.5,592.8ZM498.8,598.5 497.5,598.2 497.8,597.0 498.5,597.2ZM502.2,598.5 501.2,598.0 499.5,597.8 500.2,597.0 501.8,597.5ZM500.2,601.5 499.8,600.5 498.5,600.2 500.0,599.8 499.2,598.5 500.2,598.5 501.0,599.2 501.0,600.8ZM449.8,601.5 449.5,600.8 450.8,600.0 452.5,600.2ZM457.2,602.0 456.2,601.0 454.8,602.0 453.0,601.2 456.8,600.5 457.5,601.2ZM462.2,603.0 460.0,601.2 460.2,600.5 462.5,602.2ZM488.8,604.5 486.0,602.8 486.8,602.0 487.2,602.5 488.8,602.5 490.8,601.5 493.5,603.2 492.2,603.5 491.2,603.0 490.8,603.5 490.2,603.0 489.2,603.5ZM458.2,604.0 457.5,603.8 457.8,602.0 458.5,602.8ZM507.2,606.0 506.5,605.8 507.0,605.2 506.0,604.2 506.2,602.0 507.5,604.8ZM482.8,607.5 481.5,605.2 482.8,604.5 484.2,605.5 485.8,603.0 486.0,604.2 485.0,605.2 485.0,606.2 483.8,606.5ZM499.2,605.5 498.0,604.8 498.8,603.0 499.5,603.2 499.0,603.8 499.5,604.2ZM457.2,608.5 457.0,607.2 458.2,604.5 458.5,606.2ZM508.2,608.0 507.5,606.8 507.8,606.0 508.5,606.8ZM502.2,609.5 501.0,608.8 501.2,607.0 501.5,608.2 502.5,609.2ZM499.8,610.0 498.2,609.5 497.8,610.0 496.2,609.0 496.0,608.2 497.8,609.0 499.2,608.5ZM466.8,610.5 466.0,610.2 466.2,609.0 467.0,609.2ZM512.2,610.5 509.2,610.5 509.0,610.2 511.8,609.5ZM517.2,614.0 515.8,613.5 515.2,614.0 513.5,611.8 514.8,611.5 517.2,613.5ZM465.8,617.0 461.8,613.5 461.8,616.0 460.5,613.8 460.5,612.8 461.2,612.5 464.2,614.0 465.2,615.5 469.5,615.8 466.8,616.0ZM507.8,618.0 506.0,616.8 506.5,615.8 505.8,614.5 508.2,614.0 508.8,615.0 510.0,615.2 508.5,616.2ZM502.8,618.0 501.0,615.8 501.2,614.5 503.0,616.8ZM466.8,620.0 466.2,619.5 462.2,619.5 461.0,617.8 461.5,616.8 462.2,616.5 462.0,618.2 462.8,619.0 466.8,619.0ZM479.8,620.0 479.5,619.2 478.5,618.8 479.8,617.5ZM527.2,623.0 526.0,622.2 526.2,621.0 527.5,622.8ZM513.8,624.5 513.0,624.2 513.0,623.2 512.0,622.2 512.2,621.5 514.0,622.8 513.5,623.2 514.0,623.8ZM468.2,628.0 468.0,625.8 469.2,622.0 469.5,623.8 470.2,624.5 471.2,624.0 471.5,624.8 470.2,625.0 468.5,626.8 469.0,627.2ZM487.8,623.0 485.8,623.0 485.5,622.8 487.8,622.5ZM526.2,628.0 525.8,627.5 523.2,627.5 522.2,628.0 522.8,627.0 525.5,626.8 521.8,626.5 520.0,623.8 520.8,623.5 521.2,624.0 523.2,623.0 523.5,624.2 522.5,625.2 522.8,626.0 523.2,625.5 525.2,625.5 528.2,623.0 529.0,624.8 527.0,625.2 527.0,627.2ZM531.8,625.5 531.0,625.2 531.8,624.5 532.8,624.0 534.0,624.2ZM514.8,626.0 514.0,625.2 514.2,624.5 514.8,625.0 515.8,624.5 517.0,624.8ZM509.2,627.5 508.0,626.8 507.5,625.8 507.8,625.0 508.2,625.0 509.5,626.8ZM528.2,634.5 527.0,633.8 527.0,632.2 525.5,631.2 525.8,630.5 529.0,632.8 529.0,633.8ZM516.8,633.0 515.8,632.0 514.5,631.8 516.8,631.5ZM474.2,636.0 473.8,636.0 473.2,635.0 472.5,635.2 472.2,632.0 473.5,632.8 474.5,634.8ZM530.8,636.0 530.0,635.8 530.5,635.2 530.5,633.8 531.2,633.0 533.5,633.8 534.0,634.8 533.8,635.5 533.2,635.0 532.8,635.5 531.8,635.0ZM558.2,636.5 557.5,634.8 557.8,634.0 558.5,634.8ZM465.8,637.0 464.2,637.0 463.0,636.2 464.8,635.5ZM523.2,638.0 521.5,637.2 522.2,636.0 523.5,637.8ZM563.2,638.0 562.8,638.0 561.0,637.2 562.8,637.0ZM572.2,640.0 570.8,640.0 569.5,638.8 570.8,638.0 571.2,639.0 572.5,639.2ZM473.8,641.0 473.2,640.5 471.8,640.5 471.5,639.8 473.2,639.0 474.0,639.8ZM456.8,642.5 456.2,642.5 453.5,639.8 454.2,639.5 455.8,640.5 457.0,641.8ZM480.8,643.5 479.2,643.0 478.8,643.5 478.2,643.0 476.2,643.5 476.0,641.8 478.2,642.0 478.8,641.5 479.2,642.0 480.8,642.0ZM494.2,648.5 493.5,647.2 495.0,645.8 495.2,644.0 495.5,646.2ZM491.2,647.5 489.5,647.2 489.0,645.8 489.8,645.0 490.8,645.0 492.0,646.8ZM497.2,649.5 496.0,646.8 496.8,645.5 497.0,647.8 497.5,648.2ZM458.8,652.0 458.0,651.2 458.0,648.8 457.0,647.8 456.8,646.5 457.8,646.5 459.0,648.2 459.0,649.8 458.5,650.2 459.0,650.8ZM576.8,650.5 576.5,648.8 577.0,648.2 576.5,647.8 577.2,647.0 578.0,647.8ZM497.2,654.0 495.5,653.8 496.0,652.8 495.2,651.5 494.8,652.0 493.5,651.2 493.2,649.0 496.5,651.8 496.8,653.5 497.0,651.8 497.5,651.8ZM584.2,658.0 581.2,656.5 579.8,654.0 577.5,653.8 580.2,653.5 581.0,654.8 584.5,657.8ZM583.8,663.5 583.2,663.5 583.0,662.8 583.8,662.5 584.2,661.5 585.8,661.0 585.5,662.2ZM492.2,664.5 492.0,663.2 493.2,662.5 493.5,663.2ZM462.8,665.0 462.0,664.8 461.5,663.8 461.8,663.0 463.0,664.2ZM470.2,664.0 468.2,664.0 468.0,663.8 470.2,663.5ZM480.2,666.0 479.5,665.8 480.5,664.2 481.8,663.5 484.2,663.5 485.5,664.8 484.2,665.0 482.8,664.5ZM580.8,673.0 580.0,672.8 580.5,671.2 578.8,671.0 577.5,669.2 578.0,668.8 578.0,666.8 581.2,665.0 582.5,666.8 581.2,667.5 581.2,666.0 579.0,667.8 579.5,668.2 579.0,669.2 581.5,670.8ZM493.8,671.5 493.2,671.5 491.5,670.2 492.8,670.0 493.8,670.5ZM578.2,675.5 578.0,674.2 579.8,673.0 580.0,673.2ZM579.2,683.0 578.0,682.8 579.5,681.8 579.5,680.8 578.5,680.2 578.5,679.2 579.5,678.2 579.0,677.8 579.2,676.5 580.0,677.2 580.0,679.2 580.5,679.8 580.0,680.2 580.0,682.2ZM526.2,683.5 523.2,682.0 518.8,681.0 517.8,680.5 517.5,679.8 518.8,679.0 520.2,679.0 520.5,679.8 522.8,681.5 526.2,682.5ZM568.2,681.0 566.5,680.2 567.8,679.0 568.5,679.2 568.0,679.8ZM576.2,684.5 576.0,683.8 577.2,683.0 577.5,683.2ZM549.8,691.5 546.8,691.0 546.8,690.0 544.5,690.2 545.2,689.5 547.8,689.5 549.2,690.0ZM561.8,691.0 560.2,691.0 559.5,689.8 561.8,689.5 562.5,690.2Z"/>
<path fill="#B3ECFF" d="M530.2,632.5 529.2,632.0 528.8,632.5 526.2,630.5 524.2,630.5 523.8,631.0 523.0,627.8 524.2,627.5 524.8,628.0 525.2,627.5 526.2,628.0 527.0,627.2 527.2,625.0 530.8,625.0 531.8,625.5 533.8,624.5 535.8,624.5 537.0,625.2 538.0,627.8 539.0,628.2 538.5,628.8 539.5,629.8 539.5,630.8 541.0,631.8 538.8,632.0 536.8,631.0 536.2,631.5 533.2,631.5 532.8,632.0 531.2,631.5Z"/>
<path fill="#B36FC7" d="M453.8,610.5 452.2,610.5 451.5,609.8 451.5,607.2 450.5,606.2 451.5,604.8 451.5,603.8 449.5,602.8 449.0,601.8 449.2,601.0 449.8,601.5 451.2,600.5 452.2,600.5 454.2,602.0 456.2,601.0 457.5,602.2 458.0,605.8 457.0,607.2 457.0,608.8 456.2,610.0 454.2,610.0Z"/>
<path fill="#C997D6" d="M551.8,689.5 551.0,688.2 549.8,687.5 548.2,688.0 543.8,688.0 543.0,687.2 544.0,682.2 549.2,681.0 550.0,680.2 549.5,678.2 551.2,677.0 552.8,678.5 553.2,678.0 554.0,678.8 554.0,681.8 555.5,683.8 555.5,684.8 552.5,687.8Z"/>
<path fill="#E0C0E6" d="M506.2,570.5 504.2,569.5 501.8,567.0 500.2,566.5 498.8,563.5 497.8,563.5 496.8,564.5 494.2,562.5 491.8,562.0 491.0,560.8 491.0,556.8 493.8,556.0 494.0,555.2 495.2,554.5 497.2,556.0 501.2,555.5 503.2,557.0 503.5,557.8 505.0,558.8 505.0,561.2 506.0,563.8 507.0,564.8 506.5,565.2 507.0,566.2 506.0,567.2 506.5,567.8 506.0,568.8 506.5,569.2 506.0,569.8ZM502.0,562.8 500.2,557.5 498.8,557.0 497.2,558.0 496.2,558.0 495.2,557.0 493.5,557.2 493.5,557.8 496.2,559.5 497.2,561.0 500.8,563.0 501.2,562.5ZM487.8,584.5 486.2,584.0 484.2,581.5 483.2,581.5 482.5,579.2 479.5,576.8 479.5,574.8 482.0,571.8 482.5,570.8 482.0,570.2 483.0,568.2 484.8,567.5 486.2,566.0 487.8,567.0 489.2,569.0 490.2,569.0 491.2,568.0 492.5,569.2 493.0,570.2 492.5,570.8 492.5,572.2 493.5,574.8 493.5,575.8 492.5,577.2 493.0,577.8 492.5,580.2 489.2,582.5ZM487.0,581.2 487.2,580.5 488.8,580.0 489.0,579.2 490.0,578.8 491.5,576.2 492.0,573.8 490.2,571.5 489.2,571.5 488.5,570.8 486.8,568.0 485.2,568.0 484.2,568.5 483.0,570.2 483.0,571.8 483.5,572.2 482.8,572.5 480.5,575.2 481.2,575.5 481.5,576.8 483.5,578.2 483.8,580.0 485.8,581.5ZM522.8,626.0 522.5,625.2 523.5,624.2 523.2,623.0 521.2,624.0 520.8,623.5 519.2,623.5 517.8,624.5 516.8,624.0 514.8,625.0 513.5,623.2 514.0,622.8 512.5,621.8 512.5,620.2 513.0,619.8 512.5,617.2 511.2,616.0 510.2,616.0 509.8,615.0 508.8,615.0 508.2,614.0 506.8,614.0 506.0,612.8 506.5,612.2 505.2,611.0 503.8,611.0 503.2,611.5 502.5,610.8 502.0,609.8 502.5,609.2 501.0,606.8 501.5,606.2 500.0,604.8 499.5,603.2 501.0,600.8 501.0,599.2 500.2,598.5 499.2,598.5 498.8,597.5 501.2,598.0 503.2,599.5 505.5,600.2 506.0,604.2 507.0,605.2 506.5,605.8 507.5,606.2 508.5,608.2 508.5,609.8 509.2,610.5 512.2,610.5 515.2,614.0 515.8,613.5 519.8,615.5 520.0,617.8 520.8,618.5 522.2,618.5 526.0,620.2 526.0,622.2 527.5,623.2 525.2,625.5 523.2,625.5ZM495.8,626.5 494.2,626.5 492.2,625.5 491.8,626.0 491.2,625.0 489.8,624.5 487.8,622.5 485.2,622.5 482.2,620.0 480.2,620.0 479.0,614.8 477.8,614.0 477.2,614.5 476.2,614.0 475.5,613.2 475.5,611.8 474.0,610.2 476.2,609.5 477.8,607.0 479.0,607.8 479.2,609.0 483.2,608.5 483.5,607.8 483.0,607.2 485.0,606.2 485.0,605.2 486.0,604.2 486.2,603.0 487.8,603.5 488.2,604.5 490.2,603.0 490.8,603.5 491.2,603.0 493.2,603.5 495.0,605.8 495.0,606.8 494.0,608.2 494.8,609.0 496.8,609.0 497.8,610.0 499.0,610.2 498.0,610.8 498.5,611.2 498.5,612.8 501.0,614.8 501.0,615.8 502.5,617.8 502.5,618.8 504.8,619.5 506.5,621.8 506.0,623.2 504.8,624.5 503.8,624.0 501.2,625.5 498.2,625.0ZM501.5,624.2 505.0,621.8 503.8,621.0 502.2,621.0 500.8,620.0 498.8,617.5 495.8,616.0 494.5,614.2 495.0,612.8 494.0,611.2 491.8,610.5 491.0,609.8 491.5,609.2 491.0,608.2 488.8,606.5 485.2,609.5 479.0,611.8 480.0,613.2 480.0,614.8 481.5,616.8 481.2,619.0 485.2,621.0 485.8,620.5 487.8,621.0 489.8,623.0 492.2,624.5 493.2,624.5 494.8,623.5 495.2,624.0ZM554.8,692.0 554.2,691.5 553.8,692.0 550.8,691.5 549.8,691.0 549.2,690.0 547.8,689.5 543.8,690.0 542.0,688.2 541.5,685.8 540.5,684.8 540.5,683.2 541.5,681.8 541.0,680.2 542.5,676.8 542.0,675.8 541.0,675.2 540.5,673.8 543.2,672.5 544.2,672.5 546.2,674.0 550.2,673.5 556.2,676.0 556.8,675.5 559.5,677.8 559.5,679.2 560.8,680.5 561.8,680.5 562.8,679.5 564.8,679.5 568.8,681.5 569.8,681.5 570.5,679.2 576.0,674.8 574.0,673.8 573.0,672.2 573.0,670.2 572.5,669.8 573.5,668.2 573.5,666.8 572.5,665.2 572.5,663.2 571.5,661.2 573.0,660.2 573.0,658.8 572.0,657.8 571.0,654.8 567.0,651.2 567.0,649.2 566.0,647.8 566.5,647.2 566.0,645.8 564.5,644.2 564.5,642.8 565.0,642.2 563.8,642.5 563.5,641.8 562.2,641.5 561.5,640.2 561.8,637.5 564.2,639.0 565.5,638.2 565.2,637.0 567.2,638.0 570.2,637.5 569.5,638.8 571.8,640.5 572.2,641.5 573.8,641.0 575.5,643.8 575.5,644.8 576.2,644.5 577.0,645.8 576.5,646.8 577.0,648.2 576.0,651.2 576.5,653.2 577.8,654.0 579.8,654.0 581.0,656.2 584.2,658.0 585.5,659.8 585.5,660.8 583.0,662.8 584.5,664.8 583.5,665.8 583.2,668.0 582.0,667.2 582.5,666.8 581.2,665.0 578.0,666.8 577.5,669.8 578.8,671.0 580.5,671.2 580.5,672.2 578.0,674.2 578.0,675.2 579.5,678.2 578.5,679.2 578.5,680.2 579.5,680.8 579.5,681.8 577.8,683.0 576.8,683.0 574.2,686.0 573.8,685.5 573.0,687.2 572.0,687.8 571.5,689.2 570.2,690.5 569.8,690.0 564.8,690.0 564.2,689.5 562.8,689.5 562.2,690.0 559.2,689.0 557.2,690.5 556.2,690.0ZM513.2,659.0 512.8,658.5 510.2,659.0 507.8,657.5 502.8,657.0 504.0,655.2 504.0,653.2 503.0,652.2 503.5,651.2 503.0,650.2 506.2,649.0 507.8,649.0 508.8,648.0 509.8,649.0 512.2,649.0 516.2,651.0 516.8,650.5 517.5,651.2 517.0,651.8 517.5,652.8 519.0,653.8 519.0,654.8 516.0,657.2 516.5,657.8 515.8,658.5 513.8,658.5ZM552.0,689.2 552.5,687.8 555.5,684.8 555.5,683.8 554.0,681.8 554.0,678.8 553.2,678.0 552.8,678.5 551.2,677.0 549.5,678.2 550.0,680.2 549.2,681.0 544.0,682.2 543.0,687.2 543.8,688.0 548.2,688.0 549.8,687.5 550.8,688.0 551.8,689.5Z"/>
<path fill="#FF2BEF" d="M486.8,581.5 485.8,581.5 483.8,580.0 483.5,578.2 482.2,577.5 481.5,576.8 481.5,575.8 480.5,575.2 481.0,574.2 483.5,572.2 483.0,571.8 483.0,570.2 484.0,568.8 485.2,568.0 486.8,568.0 488.5,570.8 489.2,571.5 490.2,571.5 492.0,573.8 491.5,576.2 490.0,578.8 489.2,579.0 488.8,580.0 487.2,580.5ZM501.2,624.5 495.2,624.0 494.8,623.5 493.2,624.5 492.2,624.5 489.8,623.0 487.8,621.0 486.2,620.5 485.2,621.0 481.2,619.0 481.5,616.8 480.5,615.8 480.0,613.2 479.0,611.8 485.2,609.5 488.8,606.5 491.0,608.2 491.5,609.2 491.0,609.8 491.8,610.5 494.0,611.2 495.0,612.8 494.5,614.2 495.8,616.0 498.8,617.5 499.0,618.2 502.2,621.0 503.8,621.0 505.0,621.8ZM534.8,682.5 530.8,682.5 528.8,680.0 527.8,679.5 527.0,679.8 526.5,675.2 527.5,673.8 527.5,671.2 528.5,668.8 529.0,658.8 529.5,657.2 528.2,656.5 527.0,654.8 526.5,651.2 525.0,649.2 525.0,646.8 526.0,644.2 525.5,640.2 526.2,639.5 528.2,639.5 530.2,638.0 531.8,636.0 533.2,637.0 534.8,636.5 535.5,635.2 535.0,634.8 535.2,634.0 536.2,635.0 538.2,634.0 541.2,634.5 543.0,633.2 542.8,632.5 545.2,633.0 550.2,630.0 554.8,631.0 557.0,635.2 557.5,638.2 559.2,639.5 560.2,639.5 561.5,641.8 565.5,645.2 566.5,647.2 566.0,647.8 567.0,649.2 567.0,651.2 571.0,654.8 571.5,656.8 573.0,658.8 573.0,660.2 571.5,661.2 572.5,663.2 572.5,665.2 573.5,666.8 573.5,668.2 572.5,669.8 573.0,670.2 573.0,673.2 571.8,675.0 569.8,675.5 568.2,677.5 566.5,674.2 565.0,673.8 564.5,671.8 563.8,671.0 562.8,670.5 562.2,671.0 560.8,671.0 560.0,670.2 560.5,668.2 559.8,667.0 558.2,667.0 555.8,666.0 553.8,667.0 552.8,666.5 552.0,665.8 552.0,664.8 551.2,664.5 550.2,663.0 549.2,662.5 547.8,662.5 547.2,663.0 546.2,662.5 545.5,661.8 546.0,660.2 545.2,660.5 544.5,659.8 544.5,658.8 543.8,658.5 542.8,660.0 541.0,660.8 540.5,663.8 539.5,664.8 538.8,667.5 537.8,666.0 535.2,665.0 534.2,664.0 531.5,667.2 531.5,668.2 530.5,669.8 530.0,671.8 531.2,673.0 532.5,672.8 532.8,671.0 534.0,672.2 534.5,673.8 534.0,676.2 534.8,676.5 535.0,677.8 535.8,678.5 536.2,678.0 538.0,680.2 538.0,680.8 536.8,681.5 536.2,681.0 534.8,681.5ZM549.0,656.8 550.5,654.2 552.5,652.8 552.0,651.2 552.2,650.0 552.8,650.5 557.2,651.0 559.2,652.0 560.5,653.8 561.5,654.2 561.8,655.5 564.0,652.2 562.0,650.8 561.2,649.0 559.5,648.8 559.0,647.8 559.5,646.2 558.5,644.2 558.8,643.0 557.2,643.0 554.8,642.0 553.8,642.5 553.5,641.8 552.5,641.2 553.0,640.2 552.2,638.0 548.2,638.0 546.5,639.8 545.8,641.5 541.8,638.0 540.2,639.0 539.2,639.0 536.0,643.2 535.5,644.8 537.0,647.2 537.0,649.8 536.0,651.2 536.5,652.2 538.8,653.5 539.5,654.8 540.8,655.5 541.8,655.0 544.2,656.5 544.8,656.0 545.2,656.5 546.2,656.0 546.8,656.5ZM503.8,655.0 502.2,653.5 501.2,654.0 500.5,653.8 498.0,645.8 498.8,645.0 501.2,645.0 502.0,643.2 504.2,642.0 507.0,643.2 506.5,646.8 507.5,648.8 503.0,650.2 503.5,651.2 503.0,652.2 504.0,653.2ZM474.2,656.0 473.8,655.0 470.0,654.8 471.2,651.5 472.2,652.0 472.8,651.5 475.0,651.2ZM533.5,675.8 533.5,674.2 532.2,673.5 531.5,675.8Z"/>
<path fill="#FF83DF" d="M561.8,655.5 561.5,654.2 560.8,654.0 559.2,652.0 557.2,651.0 552.5,650.2 551.0,647.2 551.5,646.2 551.0,645.2 552.5,643.8 552.0,642.8 552.2,642.0 553.2,642.5 554.8,642.0 559.0,643.2 558.5,644.2 559.5,646.2 559.0,646.8 559.5,648.8 561.2,649.0 562.0,650.8 564.0,652.2ZM538.8,680.5 537.8,680.0 536.2,678.0 535.8,678.5 535.0,677.8 535.0,676.8 534.0,676.2 534.5,675.2 534.0,672.2 532.8,671.0 532.2,673.0 531.2,673.0 530.0,671.8 531.5,667.2 534.2,664.0 535.2,665.0 537.8,666.0 538.5,667.8 540.0,669.2 539.0,670.8 539.0,674.2 541.0,677.2 541.0,678.8ZM533.2,676.0 531.5,675.8 532.2,673.5 533.5,674.2Z"/>
<path fill="#FFAFD7" d="M470.8,650.0 470.2,649.5 465.8,649.5 465.2,650.0 464.2,649.5 464.0,647.2 463.5,646.8 464.5,646.2 463.0,645.2 465.2,645.0 466.2,646.0 467.8,646.0 468.2,645.5 470.2,646.0 470.8,645.5Z"/>
<path fill="#4d4d4d" d="M467.2,609.0 466.5,608.2 466.5,606.8 467.0,606.2 465.2,606.5 464.2,606.0 462.5,602.2 460.5,600.8 461.0,600.2 461.0,598.8 458.5,596.8 458.5,594.2 457.0,592.8 457.0,591.2 457.5,590.8 457.0,589.8 450.0,586.2 449.5,583.8 448.0,582.2 448.5,581.8 448.0,580.2 446.8,579.5 446.0,578.2 446.5,574.8 444.8,572.0 443.8,572.5 442.5,571.2 444.0,568.8 443.5,567.8 442.5,567.2 442.5,564.8 442.0,563.8 440.8,563.5 440.0,562.2 440.0,559.8 441.0,559.8 440.2,559.0 438.8,559.5 437.8,558.5 437.2,559.0 435.0,558.2 435.0,556.8 435.5,555.8 436.5,555.2 436.5,553.8 436.0,553.2 437.2,551.5 438.8,552.0 440.2,554.0 443.2,554.0 444.0,554.8 444.0,557.8 447.2,561.0 448.8,562.0 449.5,561.8 449.5,564.2 448.5,564.2 449.0,563.8 448.8,562.5 447.8,563.0 447.5,563.8 448.2,565.0 449.5,565.2 449.0,566.8 450.5,569.2 451.5,575.2 453.5,576.2 453.0,579.2 454.2,580.5 455.8,581.0 457.0,582.2 457.2,583.5 458.8,583.5 459.2,583.0 460.2,583.5 460.5,584.8 462.0,585.8 462.5,587.2 464.5,588.8 465.0,591.2 467.0,594.2 466.5,595.8 467.8,596.5 468.5,597.8 468.0,598.2 468.0,600.8 469.2,601.5 470.5,603.2 470.5,603.8 469.0,604.8 468.5,607.2ZM429.8,555.5 428.8,555.5 427.0,553.8 429.8,553.5ZM493.8,647.0 491.5,645.8 491.5,644.8 490.5,643.2 490.5,641.8 489.0,641.2 489.5,639.2 488.2,638.0 484.8,638.0 484.5,634.8 483.8,634.0 481.8,634.0 481.0,633.2 481.5,632.2 480.5,631.2 480.2,630.0 478.8,630.0 478.2,629.0 476.2,628.5 476.5,627.8 475.8,626.0 473.8,626.0 471.2,624.0 470.2,624.5 469.5,623.8 469.5,622.2 467.5,620.8 466.8,619.0 462.8,619.0 462.0,618.2 462.5,616.8 461.5,614.2 461.8,613.5 463.8,615.0 465.2,617.0 466.8,616.0 469.2,616.0 469.8,616.5 472.8,616.5 474.8,618.0 477.2,618.0 480.8,620.5 482.8,620.5 484.8,623.0 485.2,622.5 488.8,623.5 490.5,625.8 491.8,626.5 492.2,626.0 495.8,626.5 498.2,625.0 501.2,625.5 503.8,624.0 504.8,624.5 505.2,624.0 507.0,625.2 507.0,629.2 506.5,630.8 508.0,631.8 509.0,635.2 507.8,636.5 506.8,636.5 507.0,637.2 505.8,637.5 503.2,640.0 500.8,638.5 498.2,639.0 498.0,639.8 495.5,641.8 495.0,645.8ZM506.2,670.0 505.5,668.8 504.0,667.8 503.5,664.2 501.0,661.2 501.8,658.0 507.8,657.5 510.2,659.0 511.2,658.5 512.8,658.5 513.2,659.0 513.8,658.5 518.8,658.5 520.2,656.5 521.2,657.0 522.0,657.8 522.0,658.8 523.5,659.8 524.0,660.8 523.5,661.2 524.0,661.8 522.8,663.0 520.0,663.2 520.5,664.8 518.5,667.2 518.2,668.5 515.2,668.0 511.8,669.5 509.8,669.5 506.8,668.5 507.0,669.2ZM474.8,663.5 474.2,663.0 473.8,663.5 471.2,663.5 468.8,662.0 468.5,661.2 471.8,661.0 472.2,660.5 475.2,661.0 476.2,660.0 476.5,660.8ZM507.2,673.0 506.5,672.8 506.8,670.5 507.0,671.2 508.0,671.8Z"/>
<path fill="#b3b3b3" d="M501.8,563.0 501.2,562.5 500.8,563.0 497.2,561.0 496.5,559.8 493.8,558.0 493.5,557.2 495.2,557.0 496.2,558.0 497.2,558.0 498.8,557.0 500.2,557.5 502.0,562.2ZM440.2,584.0 440.0,581.8 439.2,581.5 438.2,582.0 437.0,580.8 436.5,577.2 434.8,576.0 433.5,574.2 433.5,573.2 434.5,572.8 435.0,570.8 436.5,569.8 434.5,567.2 436.8,567.5 438.8,566.0 439.0,566.8 440.0,567.2 440.0,568.8 440.5,569.2 440.5,570.8 439.5,571.8 440.0,572.2 439.5,572.8 440.0,573.8 439.0,576.2 440.0,578.8 441.0,579.2 441.0,581.8ZM541.2,687.0 538.2,686.0 536.2,686.0 535.8,686.5 534.2,684.0 532.8,685.5 531.2,685.5 528.2,684.5 526.8,682.0 525.2,682.5 523.8,681.5 522.8,681.5 520.8,680.0 520.2,679.0 518.8,679.0 518.2,679.5 513.2,679.0 511.8,678.0 509.2,677.5 507.8,676.5 503.8,675.5 502.2,674.5 494.8,672.0 493.8,670.5 491.5,669.8 492.5,666.2 492.0,664.8 493.5,663.2 493.8,662.0 492.2,663.0 490.8,665.0 486.8,665.0 484.2,663.5 481.8,663.5 480.8,662.5 479.8,662.5 478.8,663.5 478.2,663.0 475.8,663.0 475.5,662.2 476.5,660.8 476.2,660.0 475.2,661.0 473.8,661.0 473.2,660.5 468.8,661.0 468.5,661.8 470.8,663.0 470.8,663.5 462.8,664.0 458.2,658.5 457.2,658.0 456.5,658.2 456.5,656.2 458.0,654.8 458.0,653.2 459.0,652.2 459.0,650.8 458.5,650.2 459.0,649.8 459.0,648.2 457.5,646.2 458.0,645.2 457.0,641.8 453.0,638.8 452.5,637.2 453.0,636.8 453.0,632.8 453.2,632.5 453.5,633.2 455.2,634.5 457.2,631.5 459.2,633.5 460.8,633.5 461.2,634.0 461.8,633.5 463.0,635.2 462.8,636.5 465.2,637.0 468.8,640.0 469.8,640.0 470.8,641.0 475.2,640.5 476.2,643.5 477.8,643.0 478.8,643.5 479.2,643.0 479.8,643.5 482.2,643.0 482.8,643.5 484.2,642.5 486.8,642.5 487.8,645.0 488.0,643.8 487.5,642.8 485.8,641.5 485.2,642.0 484.8,641.5 484.2,642.0 483.8,641.5 479.2,642.0 477.2,640.5 474.5,635.8 473.5,632.8 471.5,631.2 472.0,630.2 471.5,629.2 468.5,626.8 471.8,624.5 473.8,626.0 475.8,626.0 476.5,627.8 476.0,628.2 478.2,629.0 478.8,630.0 480.2,630.0 480.5,631.2 481.5,632.2 481.0,633.2 481.8,634.0 483.8,634.0 484.5,634.8 484.8,638.0 488.2,638.0 489.5,639.2 489.0,641.2 490.5,641.8 490.5,643.2 491.5,644.8 491.2,646.0 490.8,645.0 489.8,645.0 489.0,645.8 489.5,647.2 492.2,647.5 493.5,648.8 493.0,649.2 493.5,649.8 493.5,651.2 494.8,652.0 495.5,651.8 495.0,652.8 495.5,653.8 496.5,654.2 496.8,655.5 497.5,654.2 497.5,651.8 498.0,651.2 497.5,650.8 497.0,645.8 496.0,643.8 496.0,641.8 498.0,639.2 499.2,638.5 502.2,639.0 503.2,640.0 505.8,637.5 506.8,637.5 506.8,636.5 507.8,636.5 509.0,635.2 508.0,631.8 506.5,630.8 507.0,629.2 506.8,624.5 507.5,624.8 508.0,626.8 510.2,628.0 513.2,631.5 515.8,632.0 516.8,633.0 517.2,632.5 517.8,633.5 519.2,633.5 521.2,634.5 521.5,635.2 521.0,635.8 521.5,637.2 524.2,638.5 527.8,638.5 531.8,635.0 532.8,635.5 533.2,635.0 533.8,635.5 534.0,634.8 533.5,634.2 535.8,633.0 536.8,633.5 538.2,633.0 540.8,634.0 542.2,632.5 543.0,633.2 541.2,634.5 538.2,634.0 536.2,635.0 535.2,634.0 535.0,634.8 535.5,635.2 534.8,636.5 533.2,637.0 531.8,636.0 531.5,636.8 528.2,639.5 526.2,639.5 525.5,640.2 526.0,644.2 525.0,646.8 525.0,649.2 526.5,651.2 527.0,654.8 528.0,656.2 529.5,657.2 529.0,658.8 528.5,668.8 527.5,671.2 527.5,673.8 526.5,675.2 527.0,679.8 527.8,679.5 528.8,680.0 530.8,682.5 534.8,682.5 534.8,681.5 535.8,681.0 536.8,681.5 537.8,681.0 538.2,680.0 538.8,680.5 541.0,678.8 541.0,677.2 539.0,674.2 539.0,670.8 540.0,669.2 538.5,667.8 539.5,664.8 540.5,663.8 541.0,660.8 542.8,660.0 543.8,658.5 544.5,658.8 544.5,659.8 545.2,660.5 546.0,660.2 545.5,661.8 546.2,662.5 547.2,663.0 547.8,662.5 550.2,663.0 550.5,663.8 552.0,664.8 552.0,665.8 552.8,666.5 553.8,667.0 555.8,666.0 556.2,666.5 559.8,667.0 560.5,668.2 560.0,670.2 560.8,671.0 562.2,671.0 562.8,670.5 563.8,671.0 564.5,671.8 565.0,673.8 566.5,674.2 568.2,677.5 569.8,675.5 571.8,675.0 573.2,672.5 574.5,674.2 571.2,677.0 570.8,676.5 566.8,680.0 562.8,679.5 561.8,680.5 560.8,680.5 559.5,679.2 559.5,677.8 556.8,675.5 556.2,676.0 550.2,673.5 546.2,674.0 544.2,672.5 541.8,673.0 540.5,673.8 541.0,675.2 541.8,675.5 542.5,676.8 541.5,678.2 541.5,679.8 541.0,680.2 541.5,681.8 540.5,683.2 540.5,684.8 541.5,685.8ZM564.2,644.5 563.0,642.8 561.5,641.8 560.2,639.5 559.2,639.5 557.5,638.2 557.0,635.2 554.8,631.0 550.2,630.0 545.2,633.0 543.8,633.0 542.5,632.2 546.8,631.5 550.2,629.0 554.8,630.0 556.5,631.8 558.5,637.2 561.2,637.5 562.0,638.2 561.5,638.8 561.5,640.2 562.2,641.5 563.2,641.5 563.5,642.2 564.5,642.8ZM548.8,657.0 546.2,656.0 545.2,656.5 544.8,656.0 544.2,656.5 541.8,655.0 540.8,655.5 539.8,655.0 538.8,653.5 536.5,652.2 536.0,651.2 537.0,649.8 537.0,647.2 535.5,644.8 536.0,643.2 539.2,639.0 540.2,639.0 541.8,638.0 545.8,641.5 546.5,639.8 548.2,638.0 552.5,638.2 552.5,639.8 553.0,640.2 552.5,641.2 553.2,641.5 553.5,642.2 552.0,642.2 552.5,643.8 551.0,645.2 551.5,645.8 551.0,647.2 552.5,649.8 552.0,650.2 552.5,652.8 550.5,654.2 550.0,655.8ZM506.5,669.8 507.2,669.0 511.8,669.5 515.2,668.0 518.2,668.5 518.5,667.2 520.5,664.8 520.0,663.2 522.8,663.0 524.0,661.8 523.5,661.2 524.0,660.8 523.5,659.8 522.0,658.8 522.0,657.8 520.2,656.5 518.8,658.5 516.2,658.5 516.5,657.8 516.0,657.2 519.0,654.8 519.0,653.8 518.2,653.5 517.0,651.8 517.5,651.2 516.8,650.5 516.2,651.0 512.2,649.0 509.8,649.0 508.8,648.0 507.8,649.0 506.5,646.8 507.0,643.2 503.8,642.0 502.0,643.2 501.2,645.0 498.8,645.0 498.0,646.2 500.5,653.8 501.2,654.0 502.2,653.5 504.0,655.2 502.5,656.8 505.5,657.2 501.8,658.0 501.0,661.2 503.5,664.2 504.0,667.8 504.8,668.0 506.2,670.0ZM471.0,649.8 471.0,647.2 470.5,646.8 471.5,645.2 471.2,644.5 470.2,646.0 469.2,645.5 466.2,646.0 465.2,645.0 463.0,645.2 464.5,646.2 463.5,646.8 464.0,647.2 464.2,649.5 465.2,650.0 465.8,649.5ZM474.5,655.8 475.0,651.2 472.8,651.5 472.2,652.0 471.2,651.5 470.0,654.8 473.8,655.0 474.2,656.0ZM508.0,673.2 507.5,672.8 508.0,671.8 507.2,671.5 506.8,670.5 506.5,672.8Z"/>
</g>
<g id="borders" fill="none" stroke="#000" stroke-width="3.5" stroke-linejoin="round" stroke-linecap="round">
<path d="M324.0,235.8 L905.9,235.8"/>
<path d="M444.7,235.8 L444.7,303.8"/>
<path d="M465.5,235.8 L465.5,262.9"/>
<path d="M292.5,420.2 L570.9,420.2"/>
<path d="M444.9,372.0 L444.9,420.2"/>
<path d="M570.9,341.2 L718.4,341.2"/>
<path d="M570.9,341.2 L570.9,446.5 L760.5,446.5"/>
<path d="M570.9,420.2 L570.9,446.5"/>
<path d="M718.4,235.8 L718.4,446.5"/>
<path d="M718.4,316.4 L876.2,316.4"/>
<path d="M718.4,393.8 L835.3,393.8"/>
<path d="M613.0,446.5 L613.0,701.2"/>
<path d="M760.5,446.5 L760.5,551.9"/>
<path d="M507.9,551.9 L917.1,551.9"/>
<path d="M760.5,472.9 L902.5,472.9"/>
<path d="M507.9,420.2 L507.9,551.9"/>
<path d="M382.3,420.2 L382.3,499.2 L495.5,604.6"/>
<path d="M740.5,551.9 L740.5,565.0 L739.4,683.6 L664.2,683.6"/>
<path d="M740.5,565.0 L803.7,565.0 L803.7,616.1"/>
<path d="M613.0,701.2 L630.9,701.2 L630.9,689.4 L666.1,689.4"/>
<path d="M917.1,496.6 L917.1,565.0"/>
<path d="M917.1,565.0 L1011.2,565.0"/>
<path d="M917.1,565.0 L921.1,594.0 L920.0,640.4"/>
<path d="M929.3,642.8 L929.3,683.6"/>
<path d="M929.3,656.7 L989.7,656.7"/>
<path d="M878.5,380.7 L988.7,380.7"/>
<path d="M878.5,333.3 L878.5,380.7"/>
<path d="M892.8,457.6 L977.9,457.1 L984.5,462.9"/>
<path d="M1000.9,407.0 L1060.7,407.0"/>
<path d="M1066.4,427.6 L1066.4,490.0"/>
<path d="M1083.5,426.5 L1123.9,426.5 L1152.4,427.3"/>
<path d="M1123.9,426.5 L1123.9,496.6"/>
<path d="M1214.1,420.2 L1214.1,480.2 L1314.0,480.2"/>
<path d="M1230.1,413.1 L1230.1,420.2 L1322.8,420.2"/>
<path d="M1214.1,456.0 L1214.1,480.2"/>
<path d="M1236.0,480.2 L1236.0,493.9"/>
<path d="M1314.0,480.2 L1315.7,513.4 L1329.4,513.7"/>
<path d="M1312.1,563.7 L1189.7,562.7"/>
<path d="M1189.7,562.7 L1147.8,562.4 L1055.1,561.1 L1055.1,565.0 L1026.6,565.0"/>
<path d="M1008.1,604.6 L1134.1,604.8 L1159.8,604.6"/>
<path d="M1052.3,604.6 L1046.6,686.2 L1048.1,727.0"/>
<path d="M1107.1,604.6 L1115.9,661.2"/>
<path d="M1065.0,709.9 L1119.7,709.9"/>
<path d="M1122.7,717.8 L1178.7,721.2"/>
<path d="M980.0,709.9 L1020.1,709.9"/>
<path d="M1332.1,341.2 L1404.2,340.6"/>
<path d="M1367.1,400.4 L1408.4,401.7 L1410.9,399.1 L1418.5,397.3"/>
<path d="M1362.0,418.9 L1376.8,419.4 L1397.8,419.7 L1406.7,419.7"/>
<path d="M1397.8,419.7 L1397.8,436.0"/>
<path d="M1413.0,333.3 L1415.3,383.3 L1420.6,391.7"/>
<path d="M324.1,235.7 L325.4,237.6 L326.5,239.1 L328.0,239.5 L329.8,240.6 L330.7,242.1 L329.7,243.3 L329.5,245.6 L330.2,247.7 L331.2,248.2 L331.8,249.8 L331.8,252.0 L331.3,253.2 L331.4,253.5 L332.6,255.4 L334.1,257.0 L334.0,257.7 L334.6,259.2 L335.6,261.1 L336.5,261.4 L336.1,262.9 L335.1,264.9 L333.8,266.5 L333.5,268.7 L333.4,271.0 L333.2,272.5 L333.4,273.0 L333.7,275.3 L334.2,277.5 L334.2,279.9 L332.4,281.7 L331.0,283.4 L330.1,284.4 L329.2,285.4 L327.0,286.0 L324.9,286.7 L322.9,286.9 L320.3,285.9 L318.0,284.9 L316.4,282.8 L316.1,280.5 L316.2,278.6 L317.5,278.3 L318.9,276.5 L320.1,274.6 L320.5,273.5 L321.0,273.0 L322.4,271.2 L323.0,268.9 L323.2,266.5 L323.6,264.2 L324.4,263.2 L324.6,263.3 L323.7,261.2 L322.8,259.4 L321.5,257.9 L321.1,257.4 L318.9,257.2 L316.7,256.9 L314.5,256.9 L312.3,256.6 L310.1,256.1 L308.0,255.4 L305.9,254.6 L303.8,253.9 L302.4,253.8 L301.6,253.9 L299.4,253.5 L297.3,252.7 L295.1,252.4 L292.9,252.2 L290.6,252.3 L288.4,252.0 L286.3,251.6 L284.1,251.4 L282.8,251.0 L282.3,252.6 L281.7,254.8 L282.1,256.4 L283.1,257.0 L284.4,259.0 L284.7,260.1 L284.8,261.0 L285.8,263.0 L286.9,264.9 L287.8,266.6 L288.9,268.8 L289.9,270.8 L291.2,272.6 L292.5,274.4 L293.8,276.3 L294.7,278.3 L295.4,280.4 L296.2,282.2 L297.0,284.6 L297.5,286.8 L297.1,288.7 L297.6,289.6 L299.7,290.3 L301.9,289.7 L301.3,291.4 L300.1,293.4 L298.8,293.9 L298.9,294.1 L299.6,296.2 L300.7,297.6 L299.8,298.1 L297.9,299.6 L296.3,301.2 L296.5,302.7 L298.3,304.0 L298.9,306.1 L298.4,308.3 L298.9,310.7 L299.6,311.1 L300.3,312.0 L300.9,314.2 L300.7,316.4 L300.8,318.6 L301.2,320.8 L301.8,323.0 L301.8,325.0 L301.4,327.5 L301.1,329.7 L301.4,332.0 L300.9,334.2 L300.3,336.3 L298.9,338.3 L298.4,340.4 L298.4,341.1 L298.6,342.7 L298.5,344.9 L298.0,347.1 L297.4,349.2 L296.6,351.3 L296.3,353.5 L296.1,355.7 L296.1,357.2 L295.8,357.9 L295.2,360.1 L294.9,362.3 L294.6,364.5 L294.8,366.7 L295.0,369.0 L295.5,371.2 L295.3,373.4 L295.0,375.6 L294.4,377.8 L293.8,379.9 L292.8,381.9 L291.9,383.9 L291.5,385.6 L291.3,386.1 L290.5,388.1 L289.2,390.0 L288.4,392.1 L287.8,394.2 L287.6,396.5 L287.2,398.6"/>
<path d="M317.4,246.2 L319.2,244.9 L321.2,243.9 L323.6,244.2 L325.6,246.3 L323.9,249.2 L321.9,250.3 L320.5,251.2 L319.4,249.7 L317.8,248.2 L317.4,246.2"/>
<path d="M322.9,268.4 L324.9,269.5 L327.0,270.3 L328.3,270.8 L328.6,271.2 L329.2,273.4 L330.2,275.5 L330.4,276.5 L329.7,277.3 L328.0,278.8 L326.6,280.8 L324.1,280.6 L321.8,280.3 L319.9,279.1 L320.4,276.9 L321.3,274.8 L322.0,273.3 L321.9,273.0 L322.3,270.7 L322.9,268.4"/>
<path d="M330.6,253.3 L329.6,255.4 L329.2,257.8 L329.3,258.2 L329.8,259.5 L329.8,262.0 L329.3,263.6 L328.9,263.6 L329.1,266.2 L328.5,268.4"/>
<path d="M293.3,380.9 L292.1,382.9 L290.7,384.9 L290.7,387.3 L290.8,389.8 L290.0,392.0 L288.1,393.8 L286.0,395.5 L285.7,398.3 L287.4,400.6 L289.0,402.4 L288.8,405.1 L290.0,407.1 L291.2,408.6 L292.8,410.9 L293.0,413.2 L292.4,415.6 L292.3,417.9 L292.6,420.2"/>
<path d="M298.3,308.8 L300.5,308.7 L302.8,308.9 L305.0,308.8 L307.2,308.5 L308.3,307.8 L309.1,307.5 L311.5,307.5 L313.5,308.2 L315.6,309.1 L316.5,309.7 L317.5,310.4 L319.5,311.4 L321.6,312.4 L323.7,313.9 L323.9,316.5 L323.7,318.9 L323.4,321.1 L323.6,323.3 L323.8,324.3 L325.5,324.6 L327.9,324.2 L330.3,324.0 L332.7,323.8 L332.2,324.3 L333.2,324.2 L335.5,323.9 L337.7,323.5 L340.1,323.4 L342.1,322.7 L342.6,322.4 L344.3,321.8 L346.5,321.9 L348.7,321.7 L350.8,321.4 L353.5,321.7 L355.4,323.0 L357.1,324.5 L357.9,325.8 L359.3,324.9 L361.2,323.7 L363.1,322.5 L365.2,322.0 L366.9,321.2 L369.4,321.0 L371.7,321.0 L373.0,321.4 L373.7,321.6 L375.8,321.1 L377.9,320.3 L379.9,319.4 L382.1,318.9 L383.0,318.7 L384.3,318.6 L386.5,318.1 L388.7,318.0 L390.9,317.6 L391.4,317.6 L392.9,316.7 L395.0,315.6 L397.0,314.8 L399.2,314.2 L401.3,313.7 L403.1,313.1 L405.8,313.2 L408.0,313.4 L410.2,313.7 L412.5,313.8 L414.7,313.8 L416.9,313.7 L419.1,313.2 L421.3,312.4 L423.4,311.8 L425.7,312.0 L427.9,312.7 L430.1,313.7 L432.3,314.2 L434.6,314.0 L436.8,313.2 L439.0,312.9 L441.2,313.1 L443.4,313.5 L445.6,313.3"/>
<path d="M445.2,305.8 L445.8,307.9 L447.0,309.9 L447.2,312.2 L446.9,314.2 L446.6,315.6 L448.3,317.0 L450.1,318.4 L452.2,319.4 L454.2,320.6 L456.2,321.7 L458.0,323.1 L458.4,324.1 L458.0,326.0 L457.3,328.1 L456.4,330.2 L455.0,332.0 L453.4,333.7 L452.8,335.9 L452.3,338.2 L452.2,339.9 L451.3,340.2 L449.7,341.8 L448.1,343.6 L447.9,345.3 L447.6,346.1 L446.0,347.6 L444.1,348.8 L443.3,349.8 L443.4,350.3 L442.8,352.5 L441.7,354.4 L440.4,356.4 L439.7,357.3 L440.4,358.5 L442.0,360.1 L442.7,360.2 L444.3,360.4 L446.4,361.3 L447.8,362.2 L447.5,363.0 L447.3,365.2 L447.0,367.4 L446.8,369.7 L446.9,370.5 L446.4,371.9 L445.2,373.8"/>
<path d="M465.8,262.4 L467.1,264.2 L468.7,265.7 L470.7,267.0 L471.9,267.9 L472.2,269.3 L472.3,271.5 L472.1,273.8 L472.3,275.3 L472.5,275.6 L474.5,276.5 L476.1,278.1 L478.0,279.3 L479.7,280.8 L481.2,282.3 L482.7,284.0 L484.4,285.5 L486.1,286.9 L487.1,287.6 L488.3,288.0 L489.9,289.6 L490.9,291.7 L491.4,294.0 L491.7,295.3 L493.2,295.4 L495.5,295.3 L497.7,295.9 L499.8,296.6 L501.3,297.5 L501.1,299.0 L500.8,301.2 L501.0,303.5 L500.9,305.8 L500.3,306.8 L499.7,307.8 L498.6,309.8 L497.9,312.0 L497.3,314.1 L497.0,316.3 L497.2,318.6 L497.1,320.9 L496.8,323.1 L496.3,325.1 L498.7,326.2 L500.6,327.4 L502.1,328.3 L503.6,327.2 L505.2,325.6 L506.6,324.0 L507.7,321.9 L509.2,320.1 L511.5,320.8 L513.4,322.1 L514.9,323.4 L515.2,325.0 L515.5,327.2 L515.9,329.4 L516.6,331.6 L517.4,333.7 L517.4,334.5 L518.0,335.3 L518.9,337.4 L520.1,339.3 L521.1,341.3 L521.8,341.6 L522.9,342.4 L524.8,343.7 L526.2,345.4 L526.4,346.1 L526.5,347.9 L527.3,349.9 L528.4,351.9 L529.4,353.9 L530.1,356.1 L532.1,357.1 L534.5,357.6 L536.3,356.1 L537.9,354.6 L538.4,354.1 L540.0,353.8 L542.2,353.3 L544.4,352.6 L546.6,352.5 L548.9,352.8 L551.2,353.4 L552.6,353.5 L553.4,353.3 L555.6,353.0 L557.8,352.8 L560.0,352.2 L561.4,351.6 L560.7,351.5 L561.9,349.4 L562.7,347.5 L564.3,348.6 L566.5,349.1 L568.1,350.7 L569.5,352.4 L570.8,354.2"/>
<path d="M287.2,400.0 L288.8,401.6 L290.4,403.1 L290.6,404.0 L289.9,405.6 L289.3,407.8 L289.0,410.1 L289.5,412.2 L290.3,414.5 L291.4,416.5 L291.8,418.7 L292.7,420.1 L293.1,420.7 L293.9,422.7 L294.1,425.0 L294.4,427.2 L295.2,429.3 L296.4,431.2 L297.3,432.3 L296.9,433.1 L296.4,435.2 L296.2,437.4 L296.5,439.7 L296.5,440.4 L296.4,441.9 L295.9,444.1 L295.8,446.4 L294.8,448.5 L293.9,450.5 L292.8,452.5 L291.9,453.9 L291.5,454.1 L290.4,456.1 L289.6,458.2 L289.2,460.4 L290.1,462.4 L291.0,464.5 L291.1,465.0 L291.7,465.9 L293.2,467.6 L294.7,469.2 L295.8,470.1 L296.3,470.9 L297.6,472.7 L298.7,474.6 L299.7,476.6 L300.6,477.5 L301.9,477.9 L303.8,479.3 L305.3,481.0 L305.3,482.9 L304.1,484.7 L303.2,486.8 L302.9,488.7 L304.0,490.3 L305.0,492.3 L305.1,494.8 L303.9,497.1 L303.2,499.3 L303.5,500.2 L305.0,501.2 L306.6,502.7 L308.0,504.4 L309.0,505.3 L309.5,505.9 L311.2,507.4 L312.7,509.1 L313.9,510.9 L314.6,511.9 L315.1,512.8 L316.9,514.1 L318.4,515.7 L319.7,516.8 L320.0,517.4 L321.2,519.2 L322.4,520.8 L321.9,522.0 L320.6,523.8 L319.0,524.9 L320.5,525.4 L322.4,526.6 L323.5,527.1 L324.5,527.4 L326.6,528.2 L328.7,529.2 L327.9,529.0 L327.9,529.8 L328.4,532.0 L328.9,534.2 L329.0,536.4 L329.3,538.6 L329.4,539.4 L330.1,540.8 L330.8,542.9 L331.8,544.9 L333.1,546.6 L334.5,548.2 L335.6,550.1 L337.7,550.5 L339.8,551.1 L341.8,551.2 L343.5,553.2 L345.1,554.7 L345.5,555.5 L345.1,556.6 L344.1,558.6 L343.1,560.6 L342.6,561.2 L342.1,562.7 L341.8,564.9 L341.8,566.6 L342.8,567.4 L344.6,568.9 L346.3,570.4 L347.8,572.0 L348.5,573.1 L348.9,574.0 L349.9,576.0 L350.8,578.1 L351.8,580.1"/>
<path d="M329.5,528.2 L328.8,525.9 L328.0,523.6 L328.5,521.7 L330.3,521.9 L332.6,522.1 L334.8,521.4 L336.1,520.3 L337.6,521.5 L339.0,524.4 L336.2,526.1 L334.1,527.0 L333.1,527.2 L332.9,529.1 L333.2,531.4 L334.2,533.5 L336.5,534.8 L338.3,536.2 L339.8,537.9 L340.5,538.3 L339.8,539.4 L339.6,540.3 L338.3,539.9 L336.0,539.5 L333.7,539.1 L331.9,538.3 L331.1,537.3 L330.4,535.1 L329.7,532.9 L329.8,530.5 L329.5,528.2"/>
<path d="M331.6,523.1 L332.6,525.5 L333.9,527.7 L334.2,529.4 L334.2,530.3 L334.2,533.1 L335.6,535.3 L337.6,537.3"/>
<path d="M330.6,540.0 L331.4,542.1 L332.4,544.0 L333.0,545.8 L334.3,547.8 L335.6,549.5 L337.8,550.3 L339.9,550.6 L342.0,550.9 L343.9,552.8 L344.6,555.1 L344.9,557.3 L346.0,558.2 L345.2,559.2 L343.6,560.8 L341.7,562.1 L341.8,564.2 L342.4,566.4 L342.7,568.2 L344.4,570.0 L345.8,571.7 L347.4,573.3 L347.8,574.2 L348.3,575.4 L349.4,577.4 L350.4,579.3 L351.7,581.1 L353.5,582.5 L354.9,583.3 L355.7,583.6 L356.9,585.5 L358.2,587.2 L359.8,588.8 L361.2,590.2 L362.9,591.9 L364.5,593.4 L366.5,595.1 L365.5,597.5 L364.3,598.7 L364.5,598.4 L366.5,599.2 L368.7,599.7 L369.4,600.4 L369.9,602.1 L370.8,604.2 L371.9,606.3 L372.4,608.5 L371.8,611.0 L370.9,613.2 L370.4,615.2 L371.8,616.3 L373.8,617.2 L375.1,618.0 L375.6,618.3 L377.8,618.6 L380.0,618.6 L382.2,617.9 L383.1,617.7 L384.4,618.0 L386.6,618.7 L388.8,619.0 L391.0,618.9 L392.1,619.1 L393.1,619.6 L394.9,620.9 L397.1,621.9 L398.7,623.3 L399.8,624.8 L401.6,626.0 L403.7,626.8 L405.8,627.5 L407.6,627.6 L410.0,628.3 L412.1,629.2 L414.1,630.3 L415.4,630.8 L416.1,631.5 L417.0,633.5 L418.1,635.5 L417.8,636.4 L418.5,636.7 L420.6,637.7 L422.7,638.2 L425.0,638.2 L425.6,637.7 L427.5,638.3 L429.4,639.6 L430.9,641.1 L432.1,643.1 L433.4,645.0 L434.7,646.7 L436.1,648.5 L437.2,650.4 L437.6,651.0 L438.8,652.1 L440.0,654.0 L440.4,656.3 L440.1,658.9 L439.5,659.6 L439.7,660.6 L440.4,662.8 L441.3,664.9 L442.1,667.0 L442.6,669.2"/>
<path d="M442.6,669.2 L492.0,665.2"/>
<path d="M509.2,550.1 L509.2,566.2"/>
<path d="M509.2,566.2 L508.9,568.4 L508.5,570.6 L508.4,572.8 L508.3,573.4 L507.1,574.6 L505.1,575.7 L504.0,576.5 L502.0,575.3 L499.7,575.3 L497.3,575.8 L496.1,576.5 L496.0,577.1 L493.7,577.5 L492.2,577.5 L491.6,578.1 L491.8,580.3 L491.8,582.5 L492.0,584.7 L492.6,586.9 L493.0,588.4 L493.6,588.9 L493.8,591.1 L494.5,593.2 L495.1,595.4 L496.0,597.4 L496.2,598.5 L496.2,599.6 L497.0,601.7 L497.7,603.8 L498.8,605.8 L498.4,606.5 L498.4,608.1 L498.0,610.5 L498.2,612.7 L498.4,615.3 L500.2,617.1 L501.8,618.7 L503.7,620.0 L505.7,621.7 L505.0,624.1 L503.6,625.9 L502.2,626.9 L501.3,627.0 L499.9,628.7 L498.5,630.4 L497.7,631.7 L497.5,632.6 L497.5,634.8 L497.2,637.0 L497.4,639.0 L496.5,641.4 L495.5,643.4 L494.3,645.0 L493.2,647.2 L492.2,649.3 L491.3,651.8 L491.7,654.4 L492.9,656.4 L494.2,657.6 L495.5,657.8 L497.2,659.1 L498.2,660.1 L498.3,661.1 L498.2,663.3 L497.8,664.7 L496.1,664.8 L493.8,665.2 L491.7,666.5 L491.8,669.0 L491.6,671.2"/>
<path d="M491.6,671.2 L570.8,701.5 L613.2,701.1"/>
<path d="M905.2,235.2 L904.8,233.0 L904.5,230.8 L904.7,228.6 L905.3,226.5 L907.1,226.7 L909.3,227.0 L911.5,227.2 L912.0,226.8 L912.5,227.3 L913.8,229.3 L914.7,231.4 L914.8,233.6 L915.1,235.8 L915.4,238.0 L916.3,240.1 L915.9,240.1 L916.9,240.8 L918.8,242.3 L920.7,243.5 L923.0,243.6 L925.1,244.0 L927.4,244.2 L929.4,245.3 L931.5,245.7 L933.6,246.3 L935.4,246.8 L936.0,246.8 L938.2,246.8 L940.4,246.4 L942.6,246.1 L944.7,245.4 L946.8,244.9 L948.8,244.8 L950.8,245.6 L953.0,246.1 L955.2,246.6 L957.3,247.3 L959.2,248.3 L961.3,249.1 L963.2,250.3 L965.1,251.4 L966.7,253.2 L968.6,254.5 L970.6,255.8 L972.7,256.4 L974.9,256.7 L977.3,256.3 L979.7,256.0 L981.9,256.4 L983.8,257.7 L985.8,258.7 L987.9,258.2 L989.9,257.2 L992.0,256.6 L994.1,255.8 L996.0,255.8 L998.0,257.0 L1000.1,257.8 L1002.3,258.0 L1004.5,258.6 L1006.5,259.5 L1008.5,260.5 L1009.4,260.8 L1010.7,260.8 L1013.0,260.7 L1015.2,260.7 L1017.4,260.9 L1019.5,261.9 L1021.7,262.5 L1023.8,263.0 L1025.4,262.2 L1025.1,261.6 L1023.4,263.4 L1021.5,264.5 L1019.3,265.1 L1016.9,265.0 L1014.7,265.4 L1012.7,266.3 L1011.0,268.0 L1009.1,269.2 L1007.2,270.3 L1004.8,270.4 L1002.7,270.5 L1000.5,271.5 L999.1,273.3 L997.6,275.0 L995.9,276.5 L993.9,277.5 L992.2,278.8 L990.6,280.3 L988.6,281.4 L986.4,282.0 L985.4,281.5 L984.1,282.6 L982.3,284.0 L980.6,285.3 L978.3,285.9 L976.4,287.1 L974.6,288.3 L973.1,289.9 L971.2,291.1 L969.5,292.5 L968.7,293.7 L968.5,294.9 L967.4,296.8"/>
<path d="M863.1,235.2 L862.9,237.5 L862.1,239.8 L862.1,242.0 L862.8,244.2 L863.4,246.4 L863.8,248.6 L863.7,250.9 L863.7,253.1 L863.5,253.9 L864.3,255.4 L865.1,257.5 L866.3,259.4 L867.2,261.5 L868.0,263.6 L868.3,265.8 L868.8,267.9 L869.8,270.0 L870.5,272.1 L870.9,274.3 L871.1,276.6 L871.1,277.3 L871.7,278.7 L872.0,281.0 L872.2,283.2 L871.9,285.5 L872.4,287.7 L872.8,289.9 L873.2,292.1 L872.7,294.2 L872.7,296.7 L872.4,299.0 L872.9,301.2 L873.2,303.4 L874.0,305.5 L874.9,307.6 L875.7,309.8 L876.4,312.1 L876.8,314.4 L876.8,316.3 L875.9,317.1 L874.5,318.9 L872.7,320.5 L871.3,322.2 L869.5,324.1 L870.8,326.1 L872.5,327.7 L874.3,329.0 L876.1,330.3 L878.1,331.2 L878.3,333.4 L878.6,335.6 L878.1,337.9 L877.9,340.2 L878.4,342.4 L879.3,344.5"/>
<path d="M834.5,394.0 L836.2,395.7 L838.1,397.1 L840.2,398.0 L842.4,398.6 L844.5,399.8 L847.1,399.7 L849.3,399.6 L851.6,399.3 L853.8,398.6 L856.1,398.4 L858.1,397.7 L860.3,398.9 L862.6,399.2 L864.7,400.0 L867.1,400.1 L868.5,400.9 L869.2,401.2 L871.0,402.7 L873.0,403.8 L874.9,405.1"/>
<path d="M879.3,379.9 L876.6,379.0 L873.0,380.2 L872.8,384.1 L873.4,386.4 L872.4,389.0 L873.9,390.9 L874.6,392.0 L876.5,391.9 L875.2,393.9 L873.9,395.8 L872.4,397.8 L872.4,400.1 L873.0,402.6 L873.3,403.7 L874.9,405.1"/>
<path d="M874.9,405.1 L875.6,407.2 L876.6,409.1 L878.3,410.8 L879.5,412.6 L880.9,414.5 L881.0,416.9 L881.2,419.1 L881.2,421.5 L882.6,423.3 L884.6,424.9 L886.4,426.6 L887.3,427.8 L887.3,428.6 L887.4,430.9 L887.3,433.3 L887.6,435.5 L888.8,437.4 L890.0,439.4 L890.7,441.5 L890.7,443.8 L890.4,446.1 L891.0,448.2 L891.4,450.4 L892.2,452.5 L892.2,454.7 L892.5,456.9 L893.5,458.8 L894.9,460.5 L896.2,462.3 L897.6,464.0 L898.8,465.3 L900.5,467.3 L901.7,469.1 L902.9,471.0 L904.6,472.5 L906.7,473.4 L908.8,474.3 L910.6,475.6 L911.7,477.1 L911.0,478.0 L910.2,480.1 L909.8,482.3 L909.9,484.5 L910.3,485.8 L910.8,486.5 L911.9,488.5 L913.0,490.4 L914.4,492.1 L916.2,493.5 L917.5,494.0 L917.6,495.4 L917.0,497.6"/>
<path d="M965.8,296.0 L966.0,298.2 L966.3,300.4 L966.2,302.6 L966.5,304.8 L966.6,307.0 L966.3,309.2 L965.7,311.4 L965.2,312.5 L964.7,312.3 L962.5,313.0 L960.5,313.8 L958.6,314.9 L957.7,315.9 L957.0,316.8 L955.1,318.1 L952.8,318.9 L950.6,320.8 L950.5,323.8 L951.4,326.5 L953.8,327.6 L956.0,328.4 L957.7,329.5 L956.7,332.0 L955.3,333.8 L955.0,335.1 L955.5,336.2 L956.3,338.4 L956.5,340.6 L956.4,342.0 L956.2,342.9 L955.6,345.0 L955.2,346.4 L955.1,346.7 L956.7,348.2 L958.5,349.5 L960.5,350.6 L962.3,351.7 L964.4,352.4 L966.6,352.8 L968.8,353.4 L970.7,354.8 L971.7,357.1 L972.6,359.3 L974.1,360.9 L975.8,362.2 L978.3,362.6 L980.6,362.9 L982.6,363.8 L984.6,364.8 L985.4,366.0 L985.5,367.5 L986.0,369.8 L987.1,371.8 L987.8,372.3 L988.1,373.5 L988.2,375.7 L987.9,377.9 L987.6,380.3 L989.0,382.3 L990.4,384.0 L992.1,385.5 L992.4,385.6 L991.7,387.0 L990.5,388.9 L989.3,390.8 L988.9,391.3 L989.1,393.2 L989.5,395.4 L990.0,397.5 L991.0,399.7 L993.6,400.5 L995.7,401.2 L997.9,401.9 L999.8,402.9 L1000.8,403.3 L1001.6,404.5 L1002.6,406.4 L1003.8,408.3 L1004.5,410.5 L1004.8,411.6 L1005.4,412.7 L1007.2,414.0 L1009.0,415.3 L1010.9,416.5 L1011.7,417.0 L1012.1,418.3 L1011.8,420.5 L1011.6,422.7 L1010.9,424.9 L1009.3,426.5 L1007.4,427.8 L1005.9,429.4 L1004.7,431.1 L1002.9,432.0 L1000.8,432.6 L998.6,433.3 L996.5,433.8 L994.4,434.6 L994.3,434.8 L993.7,436.3 L992.6,438.2 L991.7,438.4 L991.6,439.5 L991.5,441.9 L991.7,444.2 L991.8,445.5 L991.6,445.2 L992.3,447.6 L992.7,450.0"/>
<path d="M965.8,296.0 L968.0,296.1 L970.2,296.3 L972.4,297.0 L973.7,297.0 L974.6,296.4 L976.7,295.9 L978.9,295.6 L981.2,295.5 L983.2,294.3 L984.7,293.3 L985.1,293.0 L987.4,293.1 L989.6,292.8 L991.8,292.2 L993.7,291.1 L995.8,290.4 L997.1,290.2 L996.7,291.0 L997.3,293.1 L997.7,293.6 L997.2,293.8 L995.6,295.4 L993.9,298.0 L996.5,299.5 L998.8,299.8 L1000.9,300.1 L1003.1,300.7 L1005.3,300.9 L1007.0,300.9 L1009.0,302.4 L1010.7,303.8 L1012.1,305.3 L1013.8,306.0 L1016.0,306.5 L1018.2,306.8 L1020.4,307.3 L1022.5,307.9 L1024.6,308.6 L1025.3,309.0 L1026.5,309.9 L1028.6,310.8 L1030.8,310.9 L1033.2,310.7 L1035.4,310.8 L1037.5,311.7 L1038.8,312.3 L1039.5,312.6 L1041.7,312.7 L1044.0,312.7 L1046.2,312.7 L1048.4,312.7 L1050.6,313.4 L1052.3,314.2 L1052.7,315.0 L1054.6,316.0 L1056.6,317.1 L1057.7,317.7 L1057.8,319.5 L1057.8,321.9 L1057.8,324.3 L1058.7,326.3 L1059.2,326.7 L1060.7,327.9 L1061.7,329.9 L1062.5,331.1 L1062.6,331.2 L1062.8,333.5 L1062.5,335.6 L1062.2,336.3 L1063.2,337.4 L1064.6,339.1 L1064.8,339.8 L1063.9,340.2 L1063.6,341.4 L1063.6,342.4 L1062.9,344.7 L1061.7,346.6 L1060.2,348.2 L1058.3,349.4 L1056.4,350.7 L1055.1,353.1 L1057.4,352.7 L1059.5,351.7 L1061.5,350.8 L1063.0,349.8 L1062.8,348.7 L1064.1,346.8 L1065.8,345.3 L1068.1,344.6 L1069.7,343.1 L1070.2,342.1 L1070.5,340.6 L1071.9,338.9 L1073.6,337.5 L1075.6,336.4 L1076.6,336.2 L1077.6,335.4 L1078.7,334.2 L1077.9,334.2 L1076.3,335.7 L1074.6,337.2 L1073.6,339.2 L1072.5,341.1 L1071.7,343.2 L1070.9,345.3 L1070.2,346.5 L1069.5,347.1 L1068.9,349.2 L1068.6,351.4 L1068.5,353.7 L1067.9,355.4 L1066.2,357.5 L1065.0,359.3 L1063.8,361.1 L1063.5,362.2 L1063.8,363.3 L1064.0,365.5 L1063.6,367.7 L1062.7,369.9 L1061.9,372.0 L1061.4,373.2 L1061.3,374.0 L1060.6,376.1 L1060.2,378.3 L1059.7,380.5 L1059.0,382.6 L1058.1,384.4 L1057.4,387.0 L1057.4,389.2 L1057.5,391.4 L1058.3,393.6 L1059.0,395.9 L1059.6,398.0 L1059.9,400.2 L1060.5,402.3 L1061.1,404.5 L1061.8,406.3 L1061.4,408.6 L1061.4,410.8 L1061.5,411.4 L1061.8,412.8 L1062.1,415.1 L1062.8,417.2 L1063.2,419.3 L1063.6,421.5 L1063.3,423.1 L1063.6,424.1 L1064.7,426.0 L1066.3,427.7 L1067.5,429.9 L1070.0,430.2 L1072.2,430.9 L1074.6,430.2 L1076.5,428.6 L1078.1,426.7 L1080.4,426.3 L1082.6,425.9 L1083.6,426.1 L1084.1,424.7 L1085.8,423.2 L1086.9,421.3 L1087.8,420.3 L1088.0,419.5 L1089.5,417.7 L1091.0,416.0 L1092.1,414.1 L1093.1,412.1 L1093.8,409.9 L1094.2,407.7 L1094.2,405.4 L1094.2,403.1 L1094.3,402.4 L1094.4,401.2 L1094.7,398.9 L1094.7,396.7 L1094.4,394.5 L1093.9,393.7 L1093.3,392.7 L1093.2,390.4 L1093.3,388.0 L1092.6,386.7 L1091.1,386.7 L1089.3,385.2 L1088.6,383.1 L1088.7,381.3 L1089.4,380.4 L1090.0,378.2 L1090.5,376.1 L1090.7,375.5 L1090.2,373.8 L1089.5,371.7 L1089.1,369.5 L1088.7,367.3 L1089.4,366.7 L1090.5,365.5 L1092.2,363.7 L1092.5,361.5 L1092.5,359.1 L1092.2,357.5 L1092.6,356.8 L1093.9,354.9 L1095.2,352.9 L1095.9,350.8 L1095.9,349.0 L1095.4,348.4 L1095.1,346.0 L1095.3,343.7 L1095.9,341.2 L1098.3,340.1 L1100.6,339.5 L1102.7,338.7 L1104.7,337.7 L1106.8,336.8 L1108.1,336.6 L1109.3,336.2 L1110.7,334.5 L1111.8,332.3 L1112.5,330.5 L1113.0,330.2 L1115.4,330.1 L1117.5,329.5 L1119.4,328.5 L1119.1,326.2 L1119.4,324.0 L1119.4,321.7"/>
<path d="M1005.0,297.5 L1007.1,296.8 L1009.1,295.8 L1011.2,295.1 L1013.1,294.1 L1014.1,294.1 L1015.4,294.0 L1017.6,293.9 L1019.7,293.3 L1021.9,292.9 L1024.1,292.5 L1025.5,292.5 L1026.2,291.5 L1027.8,289.8 L1029.4,288.0 L1031.3,286.9 L1033.7,286.8 L1036.0,286.2 L1038.0,285.2 L1039.2,283.2 L1040.7,281.5 L1042.6,280.5 L1044.8,279.8 L1046.7,278.8 L1048.6,277.7 L1050.0,277.2 L1050.7,277.4 L1052.9,277.3 L1055.0,276.6 L1057.2,275.8 L1059.3,275.1 L1061.5,274.8 L1063.2,275.1 L1063.4,277.1 L1062.7,277.8 L1061.2,277.5 L1059.1,278.2 L1057.2,279.4 L1055.1,280.3 L1054.5,280.5 L1053.2,281.2 L1051.6,282.7 L1049.8,284.0 L1048.6,285.9 L1048.2,287.4 L1049.1,288.0 L1049.0,290.3 L1047.7,292.3 L1046.2,293.8 L1047.6,294.5 L1049.4,293.1 L1050.9,291.4 L1052.0,290.0 L1052.9,290.0 L1055.0,290.6 L1057.2,291.0 L1059.4,291.0 L1061.6,291.5 L1063.6,293.3 L1064.7,295.5 L1065.1,296.5 L1066.0,297.3 L1067.9,298.5 L1069.6,300.0 L1071.2,301.4 L1073.3,301.2 L1075.5,300.9 L1077.7,300.6 L1079.0,300.3 L1079.7,301.0 L1081.2,302.6 L1083.1,304.5 L1085.3,303.3 L1087.0,301.8 L1088.5,300.1 L1090.7,299.4 L1092.6,298.7 L1095.0,299.2 L1097.1,298.8 L1099.2,297.9 L1101.2,296.6 L1103.4,296.0 L1105.6,295.8 L1107.8,295.8 L1110.0,295.4 L1112.1,294.8 L1112.6,294.7 L1114.3,294.6 L1116.5,294.3 L1118.7,293.9 L1121.6,293.7 L1122.2,296.4 L1121.7,298.7 L1120.8,300.3 L1122.4,302.2 L1124.2,303.4 L1126.1,304.1 L1128.7,303.5 L1130.9,303.5 L1133.1,303.4 L1135.1,302.6 L1136.2,304.8 L1137.1,306.8 L1137.1,308.4 L1137.7,308.9 L1139.5,310.3 L1141.3,311.7 L1142.8,313.3 L1143.4,315.0 L1142.2,315.7 L1140.1,316.5 L1138.1,317.6 L1137.3,317.6 L1135.6,316.5 L1133.4,315.4 L1131.3,314.8 L1129.0,315.1 L1126.8,315.4 L1126.4,315.5 L1125.3,316.3 L1124.1,317.7 L1123.2,317.3 L1121.6,315.8 L1120.2,313.9 L1118.3,312.7 L1117.3,312.4 L1115.9,312.5 L1113.8,311.7 L1111.6,311.2 L1109.4,311.2 L1108.2,311.6 L1107.3,312.3 L1105.1,312.9 L1103.0,313.4 L1100.8,313.9 L1098.8,314.8 L1097.1,315.7 L1094.8,317.1 L1092.8,318.1 L1090.7,318.7 L1088.9,318.5 L1087.4,319.5 L1085.9,321.1 L1084.5,322.8 L1083.6,324.2 L1083.6,323.1 L1082.7,321.0 L1081.9,318.9 L1081.2,318.5 L1079.7,317.6 L1077.4,316.7 L1077.2,317.0 L1077.1,317.9 L1075.6,319.6 L1073.7,321.0 L1072.5,322.9 L1072.2,323.9 L1072.6,325.4 L1072.3,327.7 L1071.6,329.8 L1070.3,331.7 L1068.6,333.3 L1067.0,334.9 L1065.6,336.7 L1064.4,338.6"/>
<path d="M1109.3,336.3 L1111.0,337.9 L1112.6,339.2 L1112.6,340.4 L1112.4,342.7 L1112.0,344.9 L1111.4,346.8 L1110.2,347.3 L1108.0,347.7 L1107.7,345.0 L1107.7,342.6 L1107.7,342.1 L1108.3,340.8 L1108.7,338.5 L1109.3,336.3"/>
<path d="M1119.4,321.7 L1121.5,321.3 L1123.6,320.8 L1125.6,321.6 L1127.5,322.7 L1129.6,323.5 L1131.8,324.1 L1132.8,324.1 L1133.9,324.7 L1136.0,325.3 L1138.1,325.9 L1140.3,326.3 L1141.9,327.0 L1142.4,327.0 L1144.4,327.9 L1146.5,328.7 L1148.2,330.3 L1150.1,331.6 L1152.2,332.2 L1152.9,331.9 L1154.2,333.1 L1155.3,335.0 L1156.5,336.9 L1157.7,339.4 L1156.3,341.9 L1154.6,343.5 L1153.3,344.2 L1153.3,344.8 L1154.6,346.6 L1156.2,348.2 L1156.7,348.6 L1156.2,350.3 L1155.7,352.5 L1155.9,354.8 L1156.4,355.9 L1155.9,357.6 L1154.6,359.4 L1153.0,361.0 L1151.3,362.4 L1150.5,364.3 L1149.7,366.4 L1147.6,366.7 L1145.4,366.5 L1143.2,366.7 L1142.5,367.6 L1142.8,369.5 L1142.5,371.7 L1142.0,373.8 L1142.0,374.3 L1143.0,375.4 L1144.5,377.0 L1146.0,378.9 L1147.2,377.2 L1148.2,375.3 L1149.4,373.4 L1151.5,372.3 L1153.6,371.2 L1155.6,370.1 L1157.2,368.6 L1158.0,367.3 L1158.1,366.9 L1160.3,366.5 L1162.4,365.7 L1164.2,365.5 L1166.7,366.3 L1168.7,367.4 L1169.8,369.4 L1170.6,371.5 L1170.7,373.8 L1170.6,375.7 L1169.8,376.1 L1170.3,378.3 L1171.3,380.4 L1172.4,382.5 L1172.9,384.4 L1173.0,386.8 L1172.8,389.1 L1172.4,391.3 L1172.7,393.4 L1172.6,395.6 L1173.2,398.0 L1172.7,400.1 L1171.7,402.2 L1171.1,402.7 L1169.4,403.4 L1167.5,404.4 L1165.6,404.9 L1165.0,407.0 L1164.8,409.4 L1163.3,411.3 L1161.7,412.9 L1159.9,414.2 L1160.0,414.2 L1160.1,415.5 L1160.1,417.7 L1159.7,419.9 L1158.7,421.1 L1156.8,421.6 L1154.5,422.4 L1153.1,424.1 L1151.9,426.0"/>
<path d="M1151.9,426.0 L1153.4,427.8 L1155.0,429.4 L1157.1,430.1 L1159.3,430.8 L1161.4,431.5 L1162.0,431.6 L1163.3,432.8 L1164.6,434.1 L1166.3,434.5 L1168.5,435.2 L1170.6,436.0 L1172.8,436.1 L1175.0,435.8 L1177.1,435.1 L1179.2,434.6 L1181.4,434.1 L1183.6,433.9 L1185.7,433.5 L1186.9,433.2 L1187.8,432.3 L1189.5,430.9 L1191.3,429.6 L1192.9,428.1 L1194.7,426.9 L1195.6,426.0 L1196.6,425.9 L1198.6,424.9 L1200.6,424.0 L1202.5,422.8 L1204.3,421.8 L1206.7,421.4 L1209.0,421.3 L1211.2,421.2 L1213.4,420.8 L1215.4,419.8 L1217.4,418.8 L1219.4,417.9 L1221.5,417.3 L1223.8,417.1 L1226.0,416.5 L1228.0,415.8 L1229.3,415.0 L1230.0,414.7 L1232.0,413.7 L1234.0,412.7 L1236.1,412.0 L1238.2,411.1 L1239.0,410.3 L1239.1,408.5 L1240.0,406.1 L1241.6,404.5 L1243.6,403.4 L1245.5,402.3 L1247.2,400.9 L1248.6,400.1 L1248.0,398.5 L1247.2,396.3 L1246.5,394.2 L1246.1,393.1 L1246.3,392.9 L1246.2,390.7 L1245.8,388.4 L1245.5,386.1 L1245.8,385.1 L1247.6,385.0 L1249.8,384.7 L1252.0,384.6 L1254.2,384.3 L1256.4,384.0 L1258.4,383.6 L1260.7,383.8 L1262.9,384.2 L1265.0,384.9 L1267.2,385.6 L1269.4,386.0 L1271.2,385.8 L1272.8,386.6 L1274.5,388.0 L1276.0,389.0 L1277.4,388.5 L1279.4,387.5 L1281.5,386.9 L1283.1,386.1 L1285.6,384.9 L1287.7,384.3 L1290.0,385.0"/>
<path d="M1280.0,386.3 L1282.2,387.0 L1284.4,386.6 L1286.7,385.8 L1288.9,386.0 L1289.6,386.0 L1290.6,385.9 L1292.6,385.0 L1295.0,384.8 L1297.2,384.1 L1299.2,383.5 L1301.1,382.2 L1303.1,381.3 L1305.1,379.9 L1305.1,377.3 L1304.7,375.1 L1304.9,372.9 L1305.1,370.7 L1305.5,369.4 L1304.0,368.6 L1302.4,367.1 L1301.4,366.1 L1302.4,365.3 L1303.9,363.7 L1304.6,362.3 L1305.4,362.2 L1307.4,361.1 L1309.5,360.1 L1311.0,358.4 L1312.5,356.8 L1313.8,355.6 L1314.0,355.2 L1315.5,353.5 L1316.8,351.6 L1318.4,350.1 L1319.6,348.1 L1321.2,346.5 L1323.0,345.2 L1324.5,345.3 L1325.6,345.1 L1327.5,343.9 L1329.6,343.0 L1331.5,341.9 L1333.0,340.2"/>
<path d="M1404.6,340.2 L1404.7,338.0 L1404.4,335.6 L1405.1,333.2 L1408.1,332.7 L1410.3,332.5 L1412.5,332.1 L1413.2,331.8 L1414.6,331.7 L1416.8,331.1 L1419.0,331.1 L1421.3,331.1 L1422.8,331.0 L1423.0,329.1 L1422.7,326.7 L1422.6,325.1 L1423.1,324.3 L1425.1,323.2 L1426.9,321.8 L1428.7,321.0 L1428.9,320.2 L1429.5,318.1 L1429.5,315.8 L1430.0,313.7 L1430.4,311.5 L1431.3,309.6 L1432.0,307.5 L1432.6,305.4 L1432.9,303.1 L1433.6,301.0 L1434.1,298.9 L1434.5,296.5 L1435.7,294.5 L1437.3,293.0 L1439.6,291.9 L1441.7,290.6 L1443.5,289.2 L1444.7,287.4 L1445.5,285.9 L1446.7,283.6 L1448.0,281.8 L1449.1,279.8 L1450.3,278.0 L1451.2,275.8 L1452.4,274.5 L1453.8,275.0 L1455.4,276.5 L1456.1,277.4 L1455.7,278.3 L1455.7,280.5 L1456.2,283.0 L1458.5,282.1 L1460.5,281.1 L1462.7,280.6 L1464.7,279.7 L1466.8,279.0 L1468.8,278.0 L1470.9,277.4 L1473.4,276.9 L1475.6,278.0 L1477.3,279.5 L1479.0,281.0 L1479.1,281.6 L1480.3,282.5 L1482.1,283.9 L1483.8,285.5 L1484.2,287.8 L1484.1,290.1 L1484.4,292.3 L1484.0,294.5 L1483.9,296.7 L1483.8,298.9 L1484.1,301.1 L1484.2,303.3 L1483.9,305.5 L1483.7,307.7 L1483.7,309.9 L1483.9,312.1 L1484.0,314.3 L1483.7,316.5 L1483.1,318.7 L1482.2,320.7 L1483.0,321.8 L1484.9,322.9 L1487.0,323.9 L1488.8,325.1 L1489.8,325.3 L1490.5,326.6 L1490.7,328.8 L1490.2,331.1 L1489.9,333.4 L1490.2,334.7 L1491.9,335.1 L1494.0,335.9 L1496.1,336.7 L1497.4,337.4 L1497.7,338.4 L1498.3,340.5 L1499.4,342.6 L1500.2,345.2 L1498.4,347.2 L1496.3,348.3 L1494.6,349.6 L1492.6,350.4 L1490.6,351.4 L1488.5,352.1 L1486.3,352.2 L1484.7,352.3 L1484.0,352.4 L1482.1,353.6 L1480.1,354.4 L1478.1,355.5 L1477.3,355.6 L1476.4,355.3 L1474.2,354.9 L1472.4,354.4 L1471.8,355.0 L1470.0,356.2 L1468.2,357.6 L1467.3,357.8 L1467.1,357.4 L1465.1,356.6 L1463.0,355.7 L1461.1,354.6 L1459.3,356.7 L1458.2,358.6 L1457.5,360.7 L1456.0,362.3 L1454.5,364.0 L1452.9,365.6 L1451.1,366.9 L1448.7,367.2 L1446.3,367.5 L1444.2,368.1 L1442.9,369.9 L1441.3,371.7 L1439.6,373.2 L1437.9,373.5 L1437.2,373.3 L1434.9,373.3 L1432.9,374.5 L1432.1,375.3 L1432.5,376.3 L1431.1,378.0 L1429.4,379.6 L1427.8,380.7 L1425.8,382.4 L1424.3,384.1 L1422.6,385.5 L1422.1,386.4 L1421.4,387.5 L1421.1,389.9 L1420.1,391.9 L1419.6,393.3 L1418.9,393.8 L1417.6,395.6 L1416.2,397.3 L1415.8,397.8 L1416.2,399.8 L1416.8,402.2 L1416.9,404.5 L1415.9,406.6 L1414.7,408.0 L1414.3,408.6 L1415.1,410.6 L1416.4,412.4 L1417.6,414.3 L1418.5,415.1 L1418.9,416.0 L1420.0,418.2 L1421.2,420.2 L1422.5,421.0 L1423.4,422.3 L1424.3,424.0 L1424.4,426.7 L1424.5,429.0 L1424.2,429.9 L1423.5,429.0 L1425.7,428.6 L1427.8,428.1 L1430.0,427.6 L1432.2,427.6 L1433.1,427.9 L1434.7,427.3 L1436.5,426.0 L1437.8,424.6 L1437.4,423.1 L1436.8,421.0 L1436.3,418.5 L1433.8,417.5 L1431.7,416.6"/>
<path d="M1418.1,436.4 L1420.3,435.5 L1422.8,435.1 L1421.9,436.8 L1421.7,436.7 L1420.6,436.4 L1418.1,436.4"/>
<path d="M1431.7,437.1 L1434.1,436.9 L1436.4,436.4 L1436.9,438.7 L1435.3,440.3 L1433.6,438.5 L1431.7,437.1"/>
<path d="M1365.1,340.2 L1365.2,342.4 L1364.9,344.6 L1364.9,346.8 L1365.1,349.0 L1365.8,351.2 L1366.8,353.4 L1367.4,355.5 L1367.0,356.5 L1365.9,357.9 L1365.0,360.0 L1364.6,362.2 L1363.8,364.2 L1363.0,366.1 L1363.3,368.3 L1364.0,370.4 L1364.0,372.6 L1363.7,375.0 L1363.7,377.2 L1364.2,378.6 L1364.7,379.2 L1365.0,381.4 L1365.4,383.6 L1365.7,385.8 L1366.1,388.0 L1366.1,390.2 L1365.8,392.4 L1365.7,394.6 L1365.7,396.8 L1366.0,399.0 L1366.5,400.6 L1366.5,401.1 L1366.2,403.3 L1366.1,405.6 L1365.5,407.7 L1364.5,409.7 L1363.2,411.7 L1362.9,413.9 L1363.0,416.2 L1363.2,418.0 L1362.9,418.4 L1362.1,420.5 L1361.5,422.7 L1361.2,424.9 L1361.1,427.1 L1361.3,429.3 L1361.9,431.6 L1362.4,433.9 L1362.7,436.1 L1362.3,438.3 L1361.2,440.4 L1360.2,442.5"/>
<path d="M1404.6,340.2 L1404.6,342.5 L1404.3,344.7 L1403.4,346.9 L1402.7,349.0 L1402.0,351.1 L1401.6,353.4 L1401.3,355.1 L1400.7,355.7 L1398.8,356.8 L1396.9,358.1 L1395.1,359.5 L1393.8,360.3 L1393.6,360.6 L1392.2,362.5 L1391.0,364.5 L1389.9,366.5 L1389.8,368.9 L1389.5,371.2 L1389.3,373.5 L1388.8,375.6 L1388.0,377.8 L1387.2,379.9 L1386.4,382.0 L1386.1,384.2 L1385.9,386.1 L1385.8,386.4 L1384.8,388.5 L1383.5,390.5 L1382.1,392.5 L1381.1,394.6 L1381.2,397.0 L1381.6,399.4"/>
<path d="M1354.0,446.2 L1355.8,444.8 L1357.8,443.8 L1360.0,443.3 L1362.5,443.3 L1364.7,442.9 L1366.9,442.4 L1368.9,441.2 L1370.9,440.2 L1372.9,439.2 L1373.8,439.0 L1375.0,438.6 L1377.2,438.0 L1379.4,437.6 L1381.6,437.0 L1383.7,436.6 L1385.9,436.0 L1388.2,436.1 L1390.5,436.3 L1392.7,436.1 L1395.0,436.0 L1397.2,435.6 L1398.1,435.9 L1399.6,435.6 L1401.8,435.1 L1403.9,434.3 L1405.9,433.3 L1408.0,432.4 L1409.4,431.5 L1409.3,429.5 L1408.6,427.4 L1407.6,427.1 L1407.7,427.3 L1409.5,428.7 L1410.9,429.7 L1413.3,429.7 L1414.3,429.6 L1415.1,429.0 L1417.2,428.0 L1419.3,427.2 L1421.3,427.0 L1422.9,425.8 L1424.3,424.0"/>
<path d="M1346.6,457.3 L1348.5,456.1 L1350.3,454.7 L1352.1,453.3 L1354.3,452.7 L1356.6,452.4 L1358.8,451.8 L1360.9,450.9 L1361.5,450.1 L1362.7,449.7 L1364.9,449.2 L1367.1,448.8 L1369.3,448.7 L1371.5,448.1 L1373.7,447.7 L1375.9,447.1 L1378.1,447.0 L1378.8,446.9 L1380.2,446.4 L1382.4,445.7 L1384.5,444.9 L1386.7,444.2 L1388.9,443.6 L1391.1,443.7 L1393.4,443.6 L1395.7,443.7 L1394.5,445.1 L1392.7,446.4 L1390.9,447.8 L1388.8,448.7 L1386.5,449.0 L1384.3,449.5 L1382.3,450.4 L1380.1,451.0 L1378.1,451.9 L1376.1,452.8 L1374.1,454.1 L1371.8,454.4 L1369.6,454.5 L1367.3,454.4 L1365.1,454.7 L1362.9,455.2 L1360.7,455.6 L1358.4,455.7 L1356.1,455.4 L1353.9,455.4 L1351.6,455.5 L1349.4,455.9 L1347.4,457.5 L1346.8,458.3 L1346.6,457.3"/>
<path d="M1354.0,442.5 L1352.6,444.6 L1351.5,446.6 L1351.6,449.0 L1351.4,451.2 L1350.8,453.4 L1350.7,454.7 L1351.1,455.8 L1351.8,458.1 L1351.6,460.4 L1351.0,462.6 L1350.0,464.8 L1350.9,466.9 L1351.7,469.0 L1352.6,471.1 L1352.7,472.1 L1352.7,473.4 L1352.5,475.6 L1352.1,477.8 L1351.5,480.0"/>
<path d="M1324.4,420.3 L1325.0,422.5 L1326.1,424.6 L1326.9,426.7 L1328.0,428.6 L1329.0,430.5 L1330.9,432.2 L1332.7,433.6 L1334.1,435.5 L1334.8,436.7 L1334.3,436.3 L1333.3,438.3 L1332.3,440.4 L1330.7,442.1 L1329.1,443.7 L1328.1,444.5 L1328.6,446.2 L1329.1,448.6 L1329.4,451.0 L1328.3,453.1 L1327.1,454.8 L1328.4,456.8 L1330.3,458.2 L1332.2,459.5 L1333.3,461.6 L1333.8,464.0 L1334.0,466.5 L1335.6,468.2 L1336.2,468.1 L1335.7,469.6 L1333.8,470.8 L1332.4,472.8 L1330.4,473.8 L1328.6,475.4 L1326.1,475.7 L1324.1,476.8 L1321.8,476.8 L1319.5,477.1"/>
<path d="M1335.5,436.4 L1337.9,436.8 L1340.0,437.9 L1341.9,439.3 L1344.0,440.3 L1346.1,441.3 L1347.9,442.9 L1349.9,444.0 L1351.8,445.3 L1354.0,446.2"/>
<path d="M1214.2,450.1 L1212.7,452.0 L1211.2,453.8 L1210.9,455.2 L1211.4,456.3 L1210.8,458.4 L1210.2,460.6 L1209.2,462.1 L1209.1,462.8 L1208.8,465.0 L1209.0,467.3 L1208.9,469.5 L1208.7,471.3 L1208.2,471.5 L1207.5,473.6 L1206.6,475.7 L1206.2,478.0 L1205.8,480.2 L1204.5,482.2 L1202.9,483.8 L1200.9,484.9 L1200.3,485.1 L1198.8,485.9 L1197.0,487.3 L1195.2,488.5 L1193.6,490.0 L1191.8,491.3 L1190.0,492.7"/>
<path d="M1235.9,493.8 L1237.9,492.6 L1239.5,491.1 L1240.9,489.4 L1242.5,487.9 L1244.0,487.4 L1244.7,487.4 L1246.8,486.7 L1248.5,485.0 L1250.4,483.7 L1251.2,482.6 L1252.1,482.1 L1254.3,481.6 L1256.6,481.4 L1257.1,481.9 L1258.1,483.1 L1259.6,484.8 L1260.8,486.0 L1261.1,486.1 L1263.0,487.4 L1265.0,488.4 L1266.7,489.9 L1267.1,490.7 L1267.9,491.9 L1269.5,493.4 L1270.4,493.9 L1271.9,494.1 L1274.1,494.4 L1275.2,494.9 L1275.9,495.7 L1277.5,497.2 L1279.4,498.3 L1281.4,499.4 L1281.8,499.6 L1283.6,499.9 L1285.8,500.2 L1288.0,500.4 L1288.7,500.5 L1289.6,502.0 L1290.5,504.0 L1290.9,505.8 L1289.3,507.1 L1287.4,508.2 L1285.3,509.1 L1284.6,508.7 L1283.7,509.8 L1283.0,512.0 L1282.7,513.6 L1284.4,513.8 L1286.3,514.8 L1286.7,515.2 L1288.0,515.7 L1290.2,516.2 L1292.3,516.7 L1294.1,518.7 L1295.5,520.4 L1297.0,522.0 L1298.8,523.4 L1299.7,524.2 L1300.4,524.8 L1302.1,526.3"/>
<path d="M1270.7,493.3 L1268.7,492.3 L1266.7,491.4 L1264.9,490.4 L1262.6,490.0 L1260.2,489.6 L1260.5,490.0 L1260.4,490.1 L1258.2,491.2 L1255.8,492.2 L1253.8,493.5 L1253.8,493.6 L1253.0,495.3 L1251.6,497.1 L1250.0,498.6 L1248.2,499.9 L1246.7,501.7 L1245.6,503.6 L1243.8,505.0 L1242.3,506.5 L1240.5,507.8 L1239.3,509.7 L1237.9,511.5 L1236.5,513.2 L1236.0,513.9 L1234.9,513.2 L1232.9,512.2 L1231.6,511.2 L1231.0,513.0 L1229.8,514.9 L1228.6,516.7 L1227.4,518.6 L1226.3,520.5 L1225.2,522.4 L1224.3,524.5 L1223.2,526.4 L1222.5,528.5 L1221.5,530.5 L1220.5,532.0 L1220.1,532.3 L1219.1,534.2 L1218.5,536.4 L1217.1,538.2 L1216.9,538.7 L1215.1,538.5 L1213.0,539.3 L1210.8,539.6 L1208.7,540.3 L1208.2,540.4 L1206.7,540.8 L1204.3,540.9 L1201.9,540.8 L1199.8,541.3 L1197.9,542.0 L1195.9,543.0 L1194.3,543.6 L1193.8,544.1 L1191.9,545.4 L1190.0,546.5"/>
<path d="M1315.5,480.3 L1313.4,481.1 L1311.4,482.1 L1309.5,483.2 L1308.6,483.4 L1307.4,484.1 L1305.4,485.1 L1303.5,486.2 L1301.5,487.3 L1299.9,488.8 L1297.9,489.8 L1296.0,491.0 L1294.0,491.8 L1294.0,493.8 L1294.9,495.8 L1295.9,497.9 L1296.8,499.9 L1297.2,500.5 L1297.5,501.9 L1297.4,504.2 L1297.1,506.4 L1297.0,508.6 L1297.0,510.8 L1297.1,511.6 L1297.5,512.6 L1298.4,514.6 L1299.4,516.6 L1300.2,518.3 L1300.2,518.8 L1300.8,520.9 L1301.8,522.9 L1303.1,524.9 L1303.8,527.4 L1301.3,528.8 L1299.1,528.9 L1296.8,528.5 L1295.3,527.7 L1294.8,526.4 L1293.2,524.8 L1291.1,523.9 L1289.7,524.0 L1290.9,524.3 L1292.6,525.8 L1294.1,527.4 L1295.6,529.1 L1297.3,530.5 L1298.6,532.4 L1299.9,534.1 L1297.5,534.7 L1295.7,536.1 L1293.9,537.4 L1292.2,538.9 L1291.6,538.5 L1292.3,538.3 L1294.2,539.4 L1296.4,539.9 L1298.3,541.0 L1300.5,541.7 L1302.3,543.2 L1299.7,543.6 L1297.4,543.3 L1295.2,543.2 L1293.0,543.2 L1290.8,543.8 L1289.1,544.3 L1291.0,544.5 L1292.9,545.6 L1294.8,546.8 L1296.6,548.1 L1298.4,549.5 L1299.5,550.1 L1299.5,550.6 L1299.7,552.1 L1300.4,552.7 L1302.5,553.6 L1304.6,554.2 L1306.4,554.8 L1308.9,555.3 L1310.8,555.6 L1311.5,557.8 L1311.9,559.9 L1312.1,562.1"/>
<path d="M1308.8,483.7 L1307.6,485.6 L1306.6,487.6 L1306.0,489.8 L1305.6,492.0 L1304.4,493.9 L1303.6,495.9 L1303.8,498.7 L1304.7,500.8 L1305.3,502.9 L1305.3,505.2 L1305.1,507.1 L1304.2,508.9 L1303.8,511.1 L1303.2,513.3 L1303.1,514.0 L1304.5,514.8 L1306.6,515.6 L1308.5,516.8 L1310.3,518.1 L1310.6,518.7 L1310.8,519.9 L1311.4,522.0 L1312.8,524.0 L1313.6,524.5 L1314.3,525.1 L1315.3,527.1 L1316.2,529.6 L1314.7,531.7 L1313.6,533.7 L1312.7,535.7 L1311.8,537.7 L1310.9,538.6 L1310.3,539.6 L1309.9,541.8 L1309.3,543.9 L1309.2,546.1 L1309.4,547.9 L1310.5,547.0 L1312.2,545.5 L1313.5,543.7 L1314.6,541.7 L1315.2,539.6 L1315.8,537.4 L1316.4,536.3 L1317.5,535.8 L1318.7,534.0 L1320.3,532.3 L1321.1,530.2 L1322.5,528.5 L1322.4,527.5 L1323.0,526.2 L1323.6,524.0 L1324.6,522.0 L1325.3,519.9 L1325.9,518.1 L1326.8,515.8 L1327.8,513.9 L1328.4,512.7 L1328.2,512.1 L1327.5,510.0 L1327.0,507.8 L1327.0,505.6 L1328.0,504.9 L1328.3,502.9 L1328.0,500.7 L1326.7,498.8 L1325.4,496.9 L1324.8,495.9 L1324.8,494.6 L1324.1,492.4 L1322.9,490.6 L1321.2,489.0 L1319.5,487.5 L1318.9,487.1 L1318.2,485.7 L1317.2,483.6 L1316.8,481.5 L1316.6,479.2"/>
<path d="M1316.6,479.2 L1318.5,478.0 L1320.8,477.3 L1322.7,476.7 L1325.0,475.4 L1326.8,474.0 L1328.6,472.7 L1330.2,470.9 L1331.8,469.2 L1332.9,468.4 L1334.0,468.4 L1336.0,467.2 L1337.0,465.8 L1336.3,465.3 L1334.3,464.2 L1332.3,463.0 L1329.9,462.3 L1328.2,460.7 L1326.7,458.9 L1326.2,457.1 L1326.6,456.0 L1326.8,453.7 L1326.8,451.4 L1326.8,449.2 L1328.1,447.4 L1329.5,445.6 L1330.9,443.8 L1332.2,441.9 L1333.4,440.0"/>
<path d="M1320.0,487.1 L1321.5,488.7 L1322.8,490.5 L1323.7,492.6 L1324.3,494.0 L1325.1,494.3 L1327.2,494.9 L1329.4,495.5 L1330.3,495.8 L1331.1,497.0 L1332.1,499.0 L1332.7,500.0 L1332.3,499.5 L1333.5,497.7 L1335.2,496.2 L1337.0,494.9 L1338.4,494.2 L1338.4,493.1 L1338.9,490.7 L1339.9,488.7 L1341.7,487.3 L1343.6,486.0 L1344.7,484.9 L1345.1,484.3 L1346.3,482.5 L1347.5,480.6 L1349.0,479.0 L1350.6,477.3 L1352.2,475.7 L1352.5,474.1 L1352.1,472.9 L1352.3,470.7 L1353.2,468.5 L1353.8,466.4 L1353.3,464.1 L1352.8,462.4 L1351.7,462.5 L1350.2,460.8 L1348.7,459.1 L1347.6,457.6 L1347.3,455.7 L1346.9,453.4"/>
<path d="M1312.1,562.1 L1312.9,564.2 L1314.0,566.2 L1315.2,568.1 L1316.2,570.1 L1317.0,571.6 L1317.9,574.0 L1318.3,576.2 L1318.4,578.6 L1318.9,580.8 L1318.9,581.0 L1318.5,582.4 L1317.8,584.6 L1316.0,583.1 L1314.4,581.6 L1312.9,579.9 L1311.8,578.0 L1312.5,577.1 L1312.0,578.1 L1311.7,580.3 L1311.6,582.5 L1311.4,584.7 L1311.0,585.6 L1309.8,585.7 L1307.9,586.9 L1306.5,587.8 L1305.8,587.6 L1304.9,585.6 L1304.0,583.6 L1303.7,581.3 L1303.2,579.2 L1302.1,577.3 L1300.6,575.6 L1299.8,574.5 L1299.0,574.4 L1296.8,574.8 L1294.7,575.4 L1293.8,575.7 L1294.0,573.9 L1294.4,571.7 L1295.1,569.5 L1293.5,568.9 L1293.9,570.5 L1294.2,572.7 L1294.0,574.9 L1294.0,576.3 L1295.8,576.1 L1298.0,575.7 L1299.6,575.0 L1300.6,576.8 L1302.0,578.6 L1302.5,579.3 L1303.1,580.2 L1303.9,582.3 L1304.5,584.4 L1305.3,586.5 L1306.0,588.5 L1306.6,589.0 L1307.2,590.5 L1308.0,592.5 L1308.6,594.5 L1306.8,595.5 L1304.8,596.5 L1302.7,597.1 L1302.1,596.7 L1301.1,595.3 L1298.9,594.6 L1296.7,593.9 L1295.1,593.1 L1292.9,592.4 L1290.7,591.8 L1288.9,591.5 L1289.7,593.3 L1290.6,595.4 L1290.9,596.2 L1291.1,596.3 L1292.6,598.1 L1294.0,600.2 L1295.5,602.0 L1296.7,602.9 L1297.5,602.9 L1299.5,603.8 L1301.5,604.8 L1302.6,605.1 L1302.9,605.5 L1302.4,607.6 L1301.3,609.6 L1300.8,609.7 L1300.2,608.6 L1298.2,607.5 L1296.2,607.1 L1294.0,606.6 L1291.8,605.8 L1290.0,604.7 L1288.4,603.0 L1286.8,601.5 L1286.0,601.3 L1286.4,603.1 L1286.7,605.3 L1286.8,607.5 L1286.8,608.7 L1287.9,610.1 L1289.6,611.4 L1291.3,612.8 L1292.3,612.5 L1292.1,612.3 L1289.9,613.1 L1287.8,613.5 L1285.5,613.5 L1284.1,612.9 L1283.8,611.9 L1281.6,611.3 L1279.5,611.4 L1279.4,613.1 L1279.2,615.3 L1279.0,617.4 L1276.8,619.0 L1275.3,620.6 L1273.5,621.8 L1272.8,623.9 L1271.7,625.7 L1270.5,627.6 L1268.8,628.6 L1267.9,628.4 L1265.9,629.5 L1264.6,631.4 L1264.4,632.6 L1262.8,633.2 L1260.5,633.0 L1258.1,632.9 L1256.1,633.9"/>
<path d="M1066.1,490.5 L1065.6,492.6 L1064.3,494.6 L1063.7,496.7 L1063.4,498.9 L1064.1,501.3 L1064.3,503.5 L1065.1,505.6 L1065.8,507.7 L1066.4,509.0 L1066.0,509.9 L1064.6,511.7 L1063.5,513.5 L1061.8,515.1 L1060.4,516.8 L1059.4,517.0 L1058.6,518.4 L1057.5,520.3 L1057.2,522.6 L1056.9,524.9 L1057.5,526.4 L1057.2,527.3 L1055.5,529.0 L1054.0,530.8"/>
<path d="M1054.0,530.8 L1053.1,533.0 L1052.3,535.2 L1052.4,537.5 L1052.7,539.2 L1052.3,539.9 L1050.5,541.5 L1048.6,542.7 L1047.2,543.5 L1046.5,543.4 L1044.4,544.5 L1042.2,545.4 L1040.4,546.8 L1039.9,547.5 L1038.5,548.0 L1036.2,548.3 L1033.9,548.9 L1031.6,549.2 L1030.2,548.9 L1030.3,548.2 L1029.5,550.4 L1029.1,552.7"/>
<path d="M1054.0,530.1 L1056.2,529.7 L1058.3,529.0 L1060.4,528.2 L1061.7,527.3 L1062.8,527.8 L1064.8,529.0 L1066.6,530.5 L1068.7,531.2 L1070.2,531.8 L1071.5,531.3 L1073.4,530.1 L1075.0,528.4 L1076.3,526.0 L1078.6,525.0 L1080.9,525.2 L1083.2,525.8 L1083.7,525.8 L1084.9,524.4 L1086.5,522.9 L1088.4,521.7 L1090.3,520.6 L1092.5,521.5 L1094.6,522.6 L1096.6,523.6 L1099.5,523.9 L1101.3,521.1 L1102.5,519.2 L1103.6,517.3 L1103.9,515.8 L1104.2,514.8 L1106.1,513.6 L1108.3,513.0 L1110.3,511.8 L1110.6,510.7 L1110.1,509.0 L1110.6,506.8 L1111.8,504.9 L1113.4,503.1 L1116.4,503.0 L1118.6,502.7 L1120.8,502.4 L1122.3,502.1 L1122.8,501.7 L1123.8,499.7 L1125.0,497.8 L1124.7,497.7 L1126.2,498.3 L1128.4,498.5 L1130.5,499.3 L1132.7,499.6 L1133.9,500.3 L1134.6,500.6 L1136.4,502.0 L1138.3,503.1 L1140.2,504.2 L1142.2,505.3 L1142.5,505.3 L1144.3,505.6 L1146.5,505.9 L1148.7,505.9 L1150.9,505.5 L1153.2,506.1 L1155.2,506.9 L1157.3,507.8 L1157.6,508.3 L1158.8,508.2 L1161.0,507.8 L1163.1,507.0 L1165.0,505.7 L1166.3,505.0 L1167.7,505.9 L1168.9,507.7 L1170.2,509.5 L1171.3,511.4 L1170.6,511.6 L1171.4,510.5 L1172.9,508.9 L1174.8,507.5 L1176.5,505.9 L1177.1,503.7 L1177.1,501.4 L1177.3,498.9 L1179.4,497.7 L1181.6,497.1 L1183.7,496.5 L1185.4,496.2 L1186.5,494.9 L1187.7,493.1 L1189.1,491.3 L1189.2,490.1 L1190.5,489.4 L1192.5,488.4 L1194.5,487.6 L1196.4,486.5 L1198.2,485.0 L1198.8,484.3 L1198.8,483.3 L1200.6,481.9 L1202.4,480.5 L1204.5,479.4 L1205.7,477.5 L1205.8,476.7 L1205.6,475.3 L1206.6,473.3 L1207.7,471.3 L1209.2,469.4 L1210.7,467.5 L1211.8,465.4 L1212.1,463.2 L1211.7,460.9 L1211.3,458.6 L1211.2,456.8 L1211.3,456.3 L1212.1,454.2 L1213.0,452.2 L1213.8,450.1"/>
<path d="M1171.1,512.3 L1170.3,514.4 L1169.4,516.5 L1169.2,518.7 L1169.0,520.8 L1170.3,523.0 L1171.4,525.0 L1172.5,526.9 L1173.3,528.8 L1174.7,530.4 L1175.8,532.3 L1177.2,534.1 L1178.2,536.1 L1179.4,537.6 L1180.9,539.6 L1182.5,540.8 L1181.1,542.0 L1179.3,543.4 L1177.4,544.6 L1175.1,545.0 L1172.9,545.5 L1170.6,545.9 L1168.5,546.6 L1166.4,547.2 L1165.3,548.2 L1164.5,549.2 L1163.3,551.1 L1161.6,552.5 L1160.0,554.0 L1158.2,555.3 L1157.0,556.8 L1155.2,558.0 L1153.4,559.3 L1151.7,560.9 L1149.8,562.0 L1147.5,562.4"/>
<path d="M1182.9,540.9 L1184.3,543.0 L1186.3,544.4 L1188.8,544.7 L1191.0,545.3 L1192.9,544.5 L1195.1,543.8 L1197.3,543.1 L1199.6,542.3 L1201.9,541.9 L1204.2,541.4 L1206.6,541.1 L1208.1,540.8 L1208.8,540.5 L1210.8,539.2"/>
<path d="M1189.6,563.8 L1189.1,566.0 L1189.2,568.4 L1188.8,570.1 L1187.4,570.7 L1185.2,571.0 L1183.0,571.5 L1180.8,572.2 L1178.8,573.1 L1178.2,573.6 L1177.1,574.3 L1175.1,575.4 L1173.0,576.3 L1171.1,577.5 L1169.0,578.5 L1167.6,579.4 L1167.0,579.3 L1164.9,580.1 L1162.7,580.7 L1160.6,581.4 L1158.5,582.4 L1156.6,583.6 L1154.6,584.7 L1152.7,585.9 L1150.6,586.7 L1148.4,587.5 L1146.1,588.0 L1144.9,588.2 L1143.9,588.9 L1142.3,590.6 L1140.6,592.1 L1138.9,593.5 L1136.8,594.9 L1135.7,597.2 L1134.9,599.3 L1134.4,601.5 L1134.1,603.8"/>
<path d="M1134.1,604.1 L1136.3,603.8 L1138.5,603.7 L1140.8,604.7 L1143.0,605.2 L1145.2,605.3 L1147.4,604.8 L1149.7,604.6 L1151.9,604.6 L1154.1,604.9 L1156.3,604.9 L1157.7,604.3 L1158.5,603.7 L1160.6,603.0 L1162.8,602.8 L1165.0,602.2 L1167.0,601.1 L1168.9,599.8 L1170.8,598.6 L1173.0,598.0 L1175.2,597.7 L1176.1,597.7 L1177.6,597.2 L1179.9,597.2 L1182.1,597.3 L1184.3,597.6 L1186.5,597.4 L1188.8,597.6 L1191.0,598.1 L1193.2,598.1 L1195.4,597.6 L1197.7,596.9 L1199.9,597.1 L1202.1,597.6 L1204.3,598.7 L1204.0,599.2 L1203.8,601.0 L1204.4,603.2 L1205.7,605.1 L1206.7,607.1 L1207.5,608.7 L1208.8,609.1 L1211.0,609.1 L1213.2,608.8 L1215.5,608.6 L1217.7,608.4 L1219.9,608.1 L1222.2,607.8 L1224.4,607.6 L1226.6,607.7 L1228.8,607.9 L1231.1,608.6 L1233.2,609.0 L1234.6,610.6 L1236.4,612.0 L1238.0,613.6 L1239.4,615.3 L1240.8,617.0 L1242.4,618.6 L1244.0,620.2 L1245.3,622.0 L1246.6,623.8 L1248.2,625.3 L1249.8,626.9 L1251.1,628.7 L1252.2,630.7 L1254.2,631.9 L1255.9,633.4"/>
<path d="M1157.6,604.1 L1156.5,606.1 L1155.2,608.0 L1153.7,609.7 L1153.0,609.8 L1153.8,610.6 L1155.5,612.1 L1157.3,613.5 L1158.5,615.5 L1158.9,618.0 L1159.6,620.4 L1159.9,620.8 L1162.0,621.3 L1163.9,622.7 L1165.3,624.5 L1166.6,626.3 L1168.0,628.1 L1169.3,629.9 L1170.3,632.0 L1171.2,633.3 L1171.6,633.8 L1172.8,635.6 L1173.7,637.8 L1174.8,639.8 L1176.0,641.6 L1177.5,643.4 L1178.6,645.3 L1178.7,645.8 L1180.0,647.1 L1181.9,648.5 L1184.1,649.6 L1185.8,651.1 L1187.3,652.7 L1188.7,654.5 L1190.0,656.4 L1191.2,658.4 L1192.4,660.2 L1193.8,662.0 L1195.4,663.6 L1196.2,664.9 L1196.5,666.0 L1197.1,668.1 L1197.5,670.3 L1197.3,672.7 L1197.6,675.0 L1197.6,675.8 L1199.2,676.7 L1200.7,678.4 L1202.6,679.5 L1204.7,680.5"/>
<path d="M1255.9,634.4 L1254.1,635.8 L1252.4,637.3 L1250.4,638.4 L1248.9,640.1 L1247.3,641.7 L1245.8,643.4 L1243.7,644.4 L1242.6,644.6 L1241.6,645.9 L1240.6,647.9 L1239.5,649.8 L1238.2,651.7 L1237.6,653.0 L1237.2,653.2 L1235.5,654.7 L1233.9,656.2 L1232.5,658.2 L1230.8,659.6 L1228.9,660.8 L1226.6,661.5 L1225.1,663.2 L1225.0,663.8 L1223.9,665.4 L1221.9,666.5 L1219.5,667.0 L1217.4,667.9 L1215.6,669.2 L1214.4,671.4 L1213.0,673.3 L1211.8,674.2 L1210.7,674.0 L1208.3,674.8 L1206.1,675.8 L1204.7,677.5 L1203.4,679.7 L1203.0,682.4 L1202.3,684.5 L1201.8,686.8 L1201.5,689.0 L1201.2,691.4 L1200.4,693.4 L1199.1,695.4 L1198.1,697.4 L1197.3,699.5 L1196.3,701.5 L1196.0,702.3 L1195.8,703.7 L1195.9,706.0 L1195.9,708.3 L1195.7,710.6 L1195.0,712.7 L1194.4,714.9 L1193.6,717.0 L1193.0,719.2"/>
<path d="M1116.0,661.1 L1116.8,663.2 L1117.4,665.3 L1117.0,667.7 L1117.6,669.8 L1118.0,671.9 L1119.5,674.0 L1120.8,675.8 L1121.7,676.9 L1121.2,677.5 L1119.2,678.6 L1117.9,679.5 L1117.8,680.3 L1118.0,682.5 L1117.6,684.7 L1117.6,686.9 L1117.5,689.1 L1118.3,691.2 L1118.8,693.3 L1119.4,695.5 L1118.8,697.8 L1118.2,700.1 L1117.5,702.3 L1118.0,704.7 L1118.6,706.8 L1119.5,708.9 L1120.1,711.1 L1121.1,713.1 L1121.6,715.2 L1122.6,717.3"/>
<path d="M992.6,450.1 L991.6,452.0 L990.3,453.9 L989.9,453.9 L988.4,454.2 L986.4,455.3 L984.5,456.5 L984.8,457.0 L984.5,458.7 L984.5,461.0 L983.8,463.1 L983.3,465.1 L982.8,467.3 L982.9,469.5 L983.1,471.7 L983.5,473.9 L983.9,475.4 L984.2,476.2 L985.8,477.8 L987.0,479.7 L988.6,481.2 L990.0,482.9 L991.6,484.5 L992.1,485.8 L992.2,486.7 L993.2,488.7 L994.8,490.2 L996.5,491.8 L998.5,493.1 L1000.0,494.9 L1000.9,497.1 L1001.0,499.4 L1001.5,501.5 L1001.1,502.1 L1002.6,503.0 L1004.6,503.9 L1006.8,504.3 L1008.6,504.4 L1008.6,505.8 L1008.2,507.9 L1008.3,510.1 L1008.4,512.4 L1008.4,514.1 L1008.2,514.7 L1007.4,516.7 L1007.1,518.9 L1006.9,520.4 L1008.7,521.2 L1010.5,522.6 L1012.3,523.8 L1014.2,524.9 L1016.2,526.1 L1017.8,527.5 L1018.4,528.5 L1019.2,529.6 L1020.7,531.2 L1022.2,532.8 L1023.8,534.3 L1025.0,535.5 L1025.2,536.3 L1025.1,538.6 L1025.4,540.8 L1025.9,543.0 L1026.6,544.1 L1027.6,544.3 L1029.0,546.0 L1030.3,547.8 L1030.9,550.2 L1031.0,551.2 L1030.9,552.5 L1031.9,554.5 L1032.7,556.0 L1032.4,558.6 L1032.0,560.8 L1031.5,561.9 L1030.4,562.2 L1028.3,563.0 L1026.4,564.2 L1025.0,565.5 L1024.9,567.8 L1024.3,569.9 L1023.4,571.9 L1022.2,573.9 L1021.5,574.7 L1020.5,575.6 L1019.2,577.4 L1017.7,579.1 L1016.6,580.8 L1015.6,583.3 L1015.1,585.5 L1014.8,587.2 L1013.8,588.8 L1012.4,590.5 L1011.0,592.2 L1009.4,593.8 L1008.9,594.6 L1008.5,596.2 L1007.8,598.4 L1007.2,600.6 L1007.5,602.5 L1007.3,604.5 L1006.6,606.7 L1005.4,608.6 L1004.4,609.9 L1004.0,610.4 L1003.4,612.5 L1002.6,614.6 L1002.1,616.7 L1001.4,618.5 L999.8,620.6 L998.3,622.2 L996.8,623.9 L995.2,625.4 L993.7,627.0 L992.2,628.1 L991.9,628.7 L991.4,630.8 L991.0,633.0 L989.9,635.0 L988.7,636.9 L987.9,638.2 L987.7,639.3 L987.6,641.5 L987.9,643.7 L988.5,646.0 L988.6,648.2 L989.0,650.4 L988.9,652.6 L989.2,654.8 L989.5,657.0 L990.1,658.6 L990.1,659.1 L990.6,661.3 L990.5,663.6 L990.7,665.8 L990.9,668.0 L991.7,670.1 L992.6,672.1 L992.1,674.3 L991.0,676.3 L989.5,678.1 L988.2,680.0 L988.0,681.7 L988.3,682.3 L987.9,684.5 L987.4,686.8 L986.7,688.8 L986.1,690.9 L984.9,692.8 L984.2,694.9 L983.3,697.0 L983.0,699.1 L982.6,701.3 L982.3,703.5 L981.9,705.7 L980.8,707.7 L979.9,709.8"/>
<path d="M1011.1,565.1 L1012.7,566.7 L1014.3,568.3 L1015.6,570.1 L1016.2,571.7 L1014.8,573.1 L1013.1,574.6 L1011.7,576.3 L1010.2,578.0 L1008.4,579.2 L1006.9,577.1 L1008.5,578.0 L1010.8,578.3 L1013.0,577.8 L1015.1,577.3 L1017.3,577.1 L1019.5,577.2"/>
<path d="M803.6,614.9 L805.5,616.1 L807.1,617.6 L808.5,619.4 L809.0,620.9 L810.6,621.2 L812.8,621.4 L815.1,621.0 L817.3,620.9 L817.1,620.8 L818.1,622.1 L819.9,623.5 L821.7,624.9 L822.7,625.1 L824.1,625.4 L826.4,625.4 L828.6,625.6 L830.9,625.4 L833.0,626.1 L834.5,626.8 L834.9,627.9 L837.0,628.6 L839.2,629.1 L841.1,628.8 L841.6,628.6 L843.7,629.6 L845.3,631.1 L846.9,632.6 L847.8,633.9 L849.0,633.8 L851.2,633.7 L853.4,632.9 L855.5,632.3 L856.6,631.4 L858.0,631.8 L860.2,632.5 L862.2,633.4 L864.4,633.8 L864.6,633.7 L865.6,633.0 L867.8,632.7 L870.2,632.5 L871.5,632.6 L872.3,633.0 L874.5,633.7 L876.6,634.4 L878.5,635.5 L880.4,636.7 L881.6,637.5 L883.3,636.3 L885.4,635.4 L887.4,634.5 L888.4,634.4 L889.7,634.3 L891.9,633.8 L894.1,633.3 L896.4,633.3 L898.5,633.5 L900.9,633.1 L903.0,632.4 L905.2,631.5 L907.2,632.6 L909.2,633.6 L911.0,634.9 L913.0,636.0 L914.9,637.2 L915.8,637.6 L916.7,638.2 L918.9,639.0 L920.9,639.8 L922.3,640.5 L924.6,641.2 L926.8,641.8 L929.1,641.8"/>
<path d="M663.2,684.3 L664.4,686.2 L665.8,687.9 L666.6,688.4 L667.6,689.3 L668.9,691.0 L670.0,693.0 L671.0,695.0 L672.1,696.0 L673.0,696.2 L674.5,697.8 L675.8,699.7 L677.2,701.4 L678.9,702.8 L680.6,704.2 L682.0,706.0 L682.8,707.4 L682.9,708.0 L684.6,709.4 L686.5,710.6 L688.6,711.5 L690.3,712.9 L691.8,714.6 L693.2,716.4 L695.0,717.6 L695.3,718.3 L696.3,719.4 L697.1,721.6 L698.8,723.1 L700.3,724.7 L702.7,725.6 L703.3,726.7 L703.3,727.9 L703.1,730.3 L703.8,732.4 L704.6,734.4 L705.2,736.5 L705.4,738.8 L706.4,741.0 L707.4,743.0 L708.6,744.8 L709.7,746.8 L711.3,748.3 L712.4,749.5 L713.3,749.9 L715.0,751.5 L716.7,753.0 L718.7,753.9 L721.0,754.3 L723.3,754.7 L725.3,755.6 L727.0,757.1 L729.0,758.1 L730.8,759.0 L733.4,759.6 L735.2,760.8 L737.0,762.2 L736.3,763.0 L737.5,762.1 L739.1,760.7 L740.6,759.1 L741.6,757.2 L742.1,755.1 L742.7,752.9 L743.0,750.7 L743.6,748.6 L744.2,746.5 L744.7,745.4 L746.3,744.9 L748.3,743.9 L749.9,742.3 L750.9,740.8 L751.9,740.0 L754.1,740.5 L756.3,740.8 L758.6,741.6 L760.8,741.4 L763.0,741.7 L765.2,741.6 L765.8,742.2 L766.9,742.9 L769.0,743.4 L771.3,743.6 L773.1,743.7 L772.9,743.9 L774.5,745.5 L775.8,747.2 L777.4,748.8 L778.7,750.6 L780.1,752.3 L781.5,753.7 L783.3,755.3 L784.7,757.0 L785.8,758.9 L786.6,761.1 L787.8,762.9 L789.4,764.5 L790.2,764.7 L791.1,766.3 L791.5,768.5 L792.2,770.6 L792.5,772.8 L793.2,774.9 L794.0,777.0 L795.2,778.9 L795.7,779.5 L796.6,780.5 L797.7,782.4 L798.7,784.5 L799.8,786.4 L801.4,787.9 L802.8,788.4 L803.7,789.0 L804.5,791.1 L805.1,793.3 L805.9,795.4 L807.7,796.9 L809.3,798.6 L811.0,799.8 L811.8,802.3 L812.5,804.4 L813.0,806.6 L813.9,808.6 L815.0,810.6 L815.5,811.6 L815.9,812.5 L816.7,814.6 L817.9,816.5 L818.4,818.7 L818.7,821.0 L818.1,822.6 L818.5,823.5 L819.9,825.3 L821.5,826.9 L822.5,828.9 L823.4,830.8 L825.0,832.2 L827.0,833.2 L828.7,834.7 L830.8,835.5 L831.9,835.8 L833.1,835.7 L835.3,836.4 L837.2,837.5 L838.9,839.0 L840.6,840.8 L842.9,841.5 L845.1,841.6 L847.4,841.1 L849.7,840.9 L852.0,840.4 L852.9,840.3 L854.5,840.4 L856.5,841.4 L858.5,842.2 L859.8,843.3 L862.0,842.1 L863.7,840.8"/>
<path d="M863.9,842.5 L863.4,840.3 L863.2,838.1 L863.0,835.8 L862.4,833.7 L861.9,831.5 L861.4,829.3 L861.0,827.1 L860.3,825.0 L859.5,822.9 L858.6,820.9 L857.9,818.7 L857.4,816.6 L857.2,814.3 L857.9,813.5 L858.0,811.8 L857.7,809.6 L856.9,807.5 L856.1,805.9 L854.6,805.4 L852.5,804.7 L850.5,803.9 L852.6,802.8 L854.7,802.2 L856.1,800.4 L857.6,798.6 L858.0,797.4 L856.9,795.8 L855.4,794.1 L854.8,793.0 L856.0,792.3 L858.1,791.5 L860.0,791.0 L860.7,789.1 L861.7,787.1 L862.0,785.9 L862.6,785.0 L863.4,782.9 L864.2,781.7 L865.3,781.1 L867.4,780.4 L869.4,779.8 L871.0,777.8 L872.3,775.9 L872.8,775.0 L873.0,774.2 L874.6,772.6 L876.4,771.1 L877.0,770.9 L878.6,770.6 L880.8,769.9 L882.1,769.4 L882.8,769.2 L884.9,768.5 L887.1,768.0 L888.4,767.7 L889.2,767.2 L891.0,765.8 L892.9,764.5 L894.8,763.3 L896.6,762.1 L898.3,760.7 L900.2,759.5 L901.8,759.3 L903.1,759.4 L905.1,758.2 L906.6,756.5 L906.9,755.2 L907.1,753.8 L907.7,751.6 L908.5,749.5 L908.3,747.4 L908.1,745.2 L908.2,743.9 L908.8,743.8 L910.9,743.1 L912.9,742.1 L913.7,743.8 L914.5,745.2 L916.9,745.5 L917.6,744.7 L918.1,744.3 L920.2,743.5 L921.9,743.9 L923.0,744.6 L925.4,744.6 L927.5,744.0 L927.9,743.5 L929.3,742.3 L931.2,741.1"/>
<path d="M932.1,682.8 L932.6,685.0 L933.2,687.2 L933.4,689.4 L932.9,690.1 L933.8,691.6 L935.2,693.3 L936.8,694.9 L938.3,696.6 L939.1,697.0 L940.0,698.6 L940.7,700.7 L941.0,703.0 L941.0,705.3 L941.2,706.3 L940.8,707.9 L940.6,710.2 L940.1,712.4 L939.5,714.6 L938.9,715.5 L938.1,716.5 L937.0,718.5 L936.1,720.5 L935.3,722.7 L934.4,724.0 L934.2,725.0 L934.8,727.1 L935.6,729.2 L936.5,731.2 L935.4,733.2 L934.2,735.1 L933.3,737.2 L932.8,738.3 L932.5,739.3 L931.2,741.1"/>
<path d="M931.2,741.1 L933.4,741.3 L935.7,741.9 L937.9,742.0 L940.1,741.8 L942.0,740.9 L944.6,740.4 L946.9,740.0 L949.1,740.6 L949.5,741.7 L950.5,743.6 L952.2,745.1 L954.2,745.9 L956.2,747.0 L958.5,747.6 L960.6,748.2 L962.9,748.2 L963.6,747.6 L964.9,746.4 L966.6,745.1 L967.8,744.8 L968.6,744.5 L970.4,743.2 L972.2,741.9 L972.5,741.2 L974.1,741.5 L976.3,741.6 L978.4,742.2 L979.8,742.7 L980.1,743.7 L981.3,745.5 L982.6,747.3 L983.1,747.5 L984.5,748.6 L986.0,750.2 L986.9,751.8 L988.3,754.0 L990.0,755.5 L991.8,756.8 L992.4,756.9 L993.8,757.3 L996.0,758.0 L998.1,758.3 L999.2,758.6 L998.7,757.9 L999.8,756.0 L1001.0,754.4 L1001.5,755.4 L1003.7,755.6 L1006.0,755.2 L1007.9,754.5 L1009.1,753.3 L1011.3,752.4 L1013.4,751.5 L1014.1,751.2 L1014.7,750.4 L1017.0,750.0 L1019.6,749.9 L1021.5,751.7 L1023.1,753.2 L1023.5,753.3 L1024.6,754.2 L1026.3,755.7 L1028.0,757.4 L1030.1,758.1 L1032.3,758.6 L1034.5,759.0 L1034.4,758.2 L1034.0,759.2 L1033.2,761.1 L1031.5,762.0 L1029.5,762.8 L1028.1,763.3 L1027.6,763.0 L1026.4,761.1 L1026.0,760.0 L1027.2,759.3 L1028.7,757.6 L1029.6,755.5 L1030.0,753.2 L1030.1,751.8 L1029.6,752.3 L1027.8,751.0 L1026.2,749.5 L1024.4,748.2 L1023.9,747.7 L1023.1,746.1 L1022.6,743.8 L1024.4,742.4 L1025.9,740.8 L1027.2,739.3 L1028.7,737.7 L1030.7,736.5 L1032.6,735.1 L1031.8,732.9 L1030.8,731.2 L1029.6,728.8 L1029.0,728.8 L1028.9,729.7 L1030.5,728.0 L1032.2,726.3 L1034.0,725.0 L1035.1,724.4 L1036.2,724.2 L1038.5,724.2 L1040.7,724.4 L1042.9,724.5 L1045.1,724.5 L1045.9,724.3 L1047.2,724.7 L1049.2,725.6 L1051.2,726.6 L1053.0,727.8 L1052.6,728.2 L1053.2,726.9 L1053.8,724.7 L1054.5,722.6 L1054.8,720.4 L1055.3,718.3 L1055.6,717.2 L1056.3,717.3 L1057.2,716.2 L1057.4,717.3 L1058.5,719.3 L1059.5,721.4 L1059.7,723.6 L1059.4,724.1 L1060.6,725.5 L1062.1,726.7 L1063.2,725.4 L1063.8,723.3 L1063.9,721.0 L1064.3,718.8 L1064.9,716.7 L1065.9,715.2 L1065.5,715.7 L1066.6,717.6 L1067.9,719.4 L1068.7,720.3 L1069.3,721.0 L1071.1,722.3"/>
<path d="M1005.7,730.4 L1006.9,728.4 L1008.9,727.3 L1010.2,726.4 L1012.4,727.2 L1014.6,727.6 L1016.7,728.3 L1017.6,728.3 L1018.6,729.5 L1019.9,731.4 L1020.4,733.0 L1018.5,734.3 L1017.3,736.2 L1017.3,736.6 L1015.7,736.8 L1013.7,735.4 L1011.6,734.7 L1010.7,733.2 L1010.0,733.0 L1007.8,732.3 L1006.0,732.6 L1006.0,732.6 L1005.7,730.4"/>
<path d="M1018.2,707.9 L1018.5,710.2 L1018.3,712.6 L1019.2,714.7 L1020.8,716.6 L1022.3,718.5 L1022.2,720.8 L1022.3,723.2 L1022.3,725.5 L1023.5,726.0 L1024.9,726.8 L1026.3,728.6"/>
<path d="M1064.8,707.9 L1066.5,709.8 L1067.8,711.7 L1067.4,713.0 L1067.2,714.2 L1067.6,716.5 L1068.9,718.4 L1069.6,718.6 L1070.6,720.0 L1071.1,722.3"/>
<path d="M988.6,690.0 L986.9,691.6 L984.8,692.9 L983.8,695.0 L982.8,696.9 L982.5,699.7 L981.2,701.7 L980.5,703.6 L980.4,705.6 L980.5,707.9"/>
<path d="M1070.6,722.1 L1072.2,723.6 L1073.1,724.8 L1074.1,724.9 L1076.3,724.4 L1078.5,723.6 L1080.4,723.2 L1082.8,723.0 L1085.0,722.8 L1087.4,722.5 L1089.7,722.8 L1091.9,723.2 L1094.1,723.8 L1095.2,724.2 L1096.2,725.0 L1098.2,725.9 L1100.2,726.9 L1102.4,728.0 L1103.6,730.1 L1104.8,732.0 L1105.9,733.9 L1106.4,734.3 L1106.9,735.8 L1107.8,737.8 L1108.7,739.8 L1109.9,741.7 L1111.1,743.6 L1111.7,745.2 L1112.6,745.2 L1114.4,744.0 L1116.2,742.8 L1118.3,742.1 L1120.5,741.9 L1122.7,741.7 L1123.8,741.7 L1124.9,741.5 L1127.0,740.7 L1129.1,739.9 L1130.8,739.0 L1132.5,736.9 L1133.8,735.1 L1134.3,734.3 L1135.5,734.0 L1137.7,733.6 L1138.7,733.7 L1139.6,734.2 L1141.8,734.8 L1144.1,735.4 L1146.0,736.8 L1147.2,738.9 L1148.3,740.9 L1149.9,742.4 L1150.7,743.0 L1151.4,744.0 L1152.5,746.1 L1153.9,747.8 L1155.7,749.1 L1156.5,749.6 L1155.4,748.9 L1154.0,747.2 L1152.4,745.6 L1151.0,743.9 L1152.1,742.3 L1153.4,743.4 L1154.7,745.2 L1155.8,747.2 L1156.9,749.2 L1158.2,750.9 L1159.8,752.5 L1161.4,754.1 L1162.7,755.9 L1163.9,757.6 L1164.9,759.9 L1165.9,761.8 L1166.8,763.9 L1166.8,764.5 L1167.0,766.3 L1167.1,768.5 L1167.4,770.7 L1167.7,772.9 L1167.9,773.2 L1168.0,774.9 L1168.1,777.1 L1167.6,779.4 L1167.0,781.4 L1166.3,783.2 L1165.9,785.4 L1165.8,787.7 L1166.1,788.2 L1165.7,790.0 L1165.2,792.1 L1165.3,792.5 L1166.8,793.5 L1168.5,794.9 L1169.3,795.3 L1170.3,796.8 L1171.4,798.7 L1171.9,800.7 L1172.0,803.3 L1172.6,805.4 L1173.0,807.6 L1173.7,809.7 L1173.8,812.0 L1174.1,814.2 L1174.5,815.4 L1175.3,816.2 L1176.7,817.9 L1177.7,819.8 L1177.9,820.8 L1178.6,822.0 L1180.0,823.7 L1181.4,825.3 L1182.8,827.0 L1182.8,827.3 L1183.4,828.9 L1184.1,831.0 L1185.4,832.9 L1186.2,835.0 L1186.3,835.4 L1186.2,837.3 L1186.6,839.5 L1187.2,841.6 L1188.2,843.6 L1188.9,844.3 L1190.2,844.8 L1192.1,846.0 L1194.0,847.2 L1194.8,848.1 L1195.2,849.3 L1196.2,851.3 L1197.6,853.0 L1199.5,854.6 L1200.1,856.9 L1200.4,859.1 L1200.2,860.2 L1200.9,860.9 L1202.1,862.7 L1202.9,864.6 L1205.2,864.7 L1207.4,864.4 L1208.5,864.3 L1209.7,863.9 L1211.6,862.7 L1213.4,861.3 L1214.1,860.4 L1214.6,859.9 L1216.7,858.8 L1218.7,857.8 L1219.5,857.4 L1219.6,855.7 L1220.2,853.6 L1220.9,851.5 L1221.8,850.9 L1222.4,849.6 L1223.1,847.5 L1223.4,845.3 L1223.7,843.1 L1223.5,842.1 L1223.3,840.8 L1223.4,838.5 L1224.1,836.4 L1225.0,834.3 L1226.0,832.2 L1226.7,830.1 L1226.9,829.2 L1226.4,827.6 L1225.6,825.4 L1225.0,823.2 L1225.1,821.0 L1225.5,818.8 L1225.5,816.4 L1224.2,814.4 L1223.1,812.4 L1222.1,810.5 L1221.6,808.3 L1221.4,807.6 L1221.4,806.0 L1220.6,804.0 L1220.1,801.8 L1219.5,799.7 L1219.2,797.5 L1218.6,795.3 L1218.2,794.3 L1217.9,793.3 L1217.0,791.2 L1216.1,789.2 L1214.9,787.3 L1213.9,785.3 L1213.2,783.2 L1213.0,781.7 L1213.1,780.9 L1212.4,778.8 L1211.4,776.8 L1210.9,774.7 L1210.6,772.4 L1210.8,770.1 L1209.9,768.0 L1209.1,766.5 L1208.5,766.2 L1208.0,764.0 L1207.2,761.9 L1206.3,759.9 L1205.3,757.9 L1204.3,755.9 L1203.3,754.0 L1202.4,751.8 L1201.9,749.7 L1201.4,747.6 L1200.6,745.5 L1199.9,743.4 L1199.3,741.3 L1199.2,739.0 L1199.2,736.7 L1199.2,734.4 L1198.5,732.3 L1197.7,730.3 L1196.9,728.2 L1195.9,726.1 L1195.5,723.9 L1195.3,721.7 L1195.8,719.4 L1195.5,717.2 L1194.8,715.1 L1194.3,712.9"/>
<path d="M1168.7,790.0 L1171.4,790.2 L1173.0,791.3 L1172.6,793.5 L1170.5,795.4 L1170.4,795.7 L1169.3,794.2 L1167.5,793.1 L1167.3,792.2 L1168.7,790.0"/>
<path d="M1179.2,721.5 L1180.6,723.7 L1182.1,725.7 L1180.8,725.1 L1181.4,725.3 L1183.9,725.3 L1184.3,725.8 L1184.2,724.1 L1184.0,721.8 L1184.2,719.4 L1184.5,717.1 L1184.4,715.6 L1185.0,715.8 L1187.3,715.6 L1189.6,715.6 L1191.9,715.1 L1194.3,715.1"/>
<path d="M1407.4,418.9 L1407.8,421.1 L1408.4,423.3 L1409.7,425.3 L1410.6,427.4 L1409.9,428.5 L1411.4,429.7 L1413.7,430.3"/>
<path d="M1421.1,425.7 L1423.3,424.7 L1425.4,423.8 L1427.6,423.6 L1429.8,423.3 L1431.2,423.0 L1433.0,422.0 L1434.8,421.1 L1433.8,418.7 L1433.0,418.5 L1431.6,417.9 L1430.0,417.1 L1430.7,416.4 L1432.5,415.7 L1433.5,415.6 L1435.6,416.4 L1437.7,417.9 L1438.2,420.4 L1438.1,422.9 L1438.5,424.1 L1438.5,424.7 L1438.7,427.1 L1438.2,428.5 L1437.0,429.2 L1434.8,429.6 L1432.9,430.8 L1432.2,431.4 L1430.5,431.7 L1428.2,431.4 L1426.0,431.4 L1423.8,431.8 L1422.4,431.5 L1422.2,429.6 L1421.6,427.8 L1421.1,425.7"/>
<path d="M1287.3,591.8 L1289.5,592.3 L1291.8,592.9 L1293.9,593.7 L1295.6,594.6 L1296.5,597.0 L1298.4,598.5 L1300.6,599.6"/>
<path d="M1285.7,601.2 L1287.5,602.5 L1289.5,603.6 L1291.9,603.6 L1293.3,603.4 L1294.3,604.2 L1295.5,606.4 L1297.0,608.0 L1299.0,609.0"/>
<path d="M1292.8,591.8 L1294.0,593.8 L1295.7,595.4 L1297.4,597.0 L1298.5,597.9 L1297.8,599.5 L1297.0,601.7 L1295.8,603.8 L1295.1,606.2 L1296.6,608.8 L1298.6,610.1 L1300.6,611.4"/>
<path d="M1294.3,569.0 L1294.9,571.3 L1295.2,573.5 L1294.0,575.6 L1293.1,577.8 L1292.5,579.7 L1294.2,579.9 L1296.5,579.9 L1298.8,579.9 L1298.5,580.5 L1299.1,579.0 L1299.7,576.9 L1300.2,575.0 L1301.3,574.5 L1303.6,574.8 L1306.8,575.9 L1306.5,579.3 L1305.7,581.4 L1304.7,582.8 L1306.1,583.9 L1307.5,585.6 L1308.5,586.9 L1309.0,586.7 L1310.1,584.8 L1311.1,582.8 L1311.7,580.8 L1310.3,578.8 L1309.2,576.9"/>
<path d="M1305.3,587.1 L1307.2,588.8 L1309.4,589.9 L1311.5,589.9 L1312.7,587.5 L1314.1,585.5 L1314.7,585.4 L1314.5,584.2 L1314.2,581.7 L1313.9,579.2"/>
<path d="M1278.6,611.4 L1280.4,613.1 L1281.8,613.9 L1282.0,612.5 L1283.5,610.5 L1284.4,609.3 L1286.3,609.6 L1288.8,609.8"/>
<path d="M1288.1,545.5 L1290.3,546.3 L1292.5,547.3 L1294.7,548.2 L1296.0,549.3 L1296.3,550.1 L1297.1,552.5 L1298.3,554.7 L1299.7,556.3 L1301.4,556.0 L1303.8,555.1 L1306.1,554.5 L1308.5,554.1"/>
<path d="M1292.8,541.6 L1293.9,544.0 L1295.5,545.9 L1297.7,547.0 L1298.6,546.7 L1300.1,547.8 L1302.0,549.3 L1303.7,551.0"/>
<path d="M1055.1,352.7 L1056.2,350.6 L1057.4,348.7 L1058.9,347.0 L1059.2,346.0 L1059.8,344.3 L1061.6,342.9 L1064.0,342.4 L1066.1,342.2 L1066.3,341.6 L1067.1,339.3 L1068.7,337.7 L1070.7,336.5 L1072.2,334.7"/>
<path d="M850.9,804.8 L852.0,802.4 L852.9,799.9 L852.9,800.3 L851.9,799.4 L851.5,797.4 L853.3,797.8 L855.9,797.3"/>
<path d="M860.9,790.4 L859.4,788.7 L858.2,786.7 L860.5,785.0 L862.4,783.6 L862.7,783.3 L862.0,782.0 L861.8,780.6 L862.7,781.4 L864.9,780.8 L867.0,779.3"/>
<path d="M868.1,777.5 L869.0,775.4 L870.4,773.6 L871.2,773.2 L872.2,773.8 L874.3,774.8 L876.9,774.8 L876.7,772.1 L875.4,770.2 L874.0,771.0 L875.5,770.9 L877.8,770.8 L880.1,770.7"/>
<path d="M907.9,743.8 L908.3,746.1 L909.7,748.0 L911.2,746.0 L912.9,744.5 L913.4,743.7 L914.1,745.0 L915.1,747.0"/>
<path fill="#000" d="M329.5,522.1 L335.6,521.1 L337.6,524.1 L333.6,527.2 L334.6,533.2 L340.6,538.3 L339.6,540.3 L332.6,537.3 L330.6,532.2 L329.1,528.2Z"/>
<path fill="#000" d="M322.9,268.4 L328.5,270.5 L330.6,276.5 L326.5,280.6 L321.5,278.5 L322.9,273.5Z"/>
<path fill="#000" d="M317.4,246.2 L321.5,243.8 L324.5,246.2 L320.5,250.3 L317.4,248.3Z"/>
<path fill="#000" d="M330.6,253.3 L334.6,257.3 L336.6,261.4 L333.6,266.4 L334.2,272.5 L330.6,276.5 L328.5,270.5 L330.6,263.4 L328.5,258.4Z"/>
<path fill="#000" d="M1164.8,789.4 L1170.6,787.2 L1174.9,791.5 L1172.8,796.9 L1167.8,796.9 L1164.8,793.7Z"/>
<path fill="#000" d="M1404.0,429.1 L1406.9,425.7 L1411.4,426.3 L1413.1,430.3 L1408.0,434.6 L1404.6,433.5Z"/>
<path fill="#000" d="M1417.1,435.1 L1422.9,433.7 L1427.7,436.0 L1425.1,439.2 L1418.9,439.4Z"/>
<path fill="#000" d="M1430.3,436.2 L1435.4,435.1 L1438.6,437.7 L1436.0,441.1 L1431.4,440.0Z"/>
<path fill="#000" d="M1106.8,334.7 L1111.6,333.8 L1113.6,339.2 L1112.2,347.3 L1107.5,349.1 L1105.4,342.8Z"/>
<path fill="#000" d="M1076.3,315.9 L1081.1,316.8 L1083.8,318.6 L1088.3,316.8 L1087.8,322.2 L1084.7,325.8 L1082.0,322.2 L1078.4,320.4Z"/>
<path fill="#000" d="M1072.2,333.8 L1078.4,332.4 L1079.3,335.6 L1074.0,341.9 L1069.5,344.6 L1068.6,341.0Z"/>
<path fill="#000" d="M1162.4,430.7 L1166.0,430.0 L1167.8,433.4 L1164.6,435.2 L1162.4,434.0Z"/>
</g>
<g id="legend" fill="#000">
<text class="lt" x="1542" y="336.7">Earliest date</text>
<text class="lt" x="1542" y="364.3">of 1st gen. 25%</text>
<text class="lt" x="1542" y="391.9">adult flight</text>
<g class="ll">
<rect x="1543" y="406.90" width="26" height="25.77" fill="#4d4d4d"/>
<text transform="translate(1579.0,426.78) scale(1.06,1)">excl.-sev.</text>
<rect x="1543" y="432.37" width="26" height="25.77" fill="#b3b3b3"/>
<text transform="translate(1579.0,452.25) scale(1.06,1)">excl.-mod.</text>
<rect x="1543" y="457.84" width="26" height="25.77" fill="#E7B8B0"/>
<text transform="translate(1579.0,477.72) scale(1.06,1)">Aug-03</text>
<rect x="1543" y="483.31" width="26" height="25.77" fill="#CB9086"/>
<text transform="translate(1579.0,503.19) scale(1.06,1)">Aug-10</text>
<rect x="1543" y="508.78" width="26" height="25.77" fill="#B0695C"/>
<text transform="translate(1579.0,528.66) scale(1.06,1)">Aug-17</text>
<rect x="1543" y="534.25" width="26" height="25.77" fill="#984533"/>
<text transform="translate(1579.0,554.13) scale(1.06,1)">Aug-24</text>
<rect x="1543" y="559.72" width="26" height="25.77" fill="#82200E"/>
<text transform="translate(1579.0,579.61) scale(1.06,1)">Aug-31</text>
<rect x="1543" y="585.19" width="26" height="25.77" fill="#FFAFD7"/>
<text transform="translate(1579.0,605.07) scale(1.06,1)">Sep-07</text>
<rect x="1543" y="610.66" width="26" height="25.77" fill="#FF83DF"/>
<text transform="translate(1579.0,630.54) scale(1.06,1)">Sep-14</text>
<rect x="1543" y="636.13" width="26" height="25.77" fill="#FF57E7"/>
<text transform="translate(1579.0,656.01) scale(1.06,1)">Sep-21</text>
<rect x="1543" y="661.60" width="26" height="25.77" fill="#FF2BEF"/>
<text transform="translate(1579.0,681.48) scale(1.06,1)">Sep-28</text>
<rect x="1543" y="687.07" width="26" height="25.77" fill="#E0C0E6"/>
<text transform="translate(1579.0,706.95) scale(1.06,1)">Oct-05</text>
<rect x="1543" y="712.54" width="26" height="25.77" fill="#C997D6"/>
<text transform="translate(1579.0,732.42) scale(1.06,1)">Oct-12</text>
<rect x="1543" y="738.01" width="26" height="25.77" fill="#B36FC7"/>
<text transform="translate(1579.0,757.89) scale(1.06,1)">Oct-19</text>
<rect x="1543" y="763.48" width="26" height="25.77" fill="#9E47B7"/>
<text transform="translate(1579.0,783.37) scale(1.06,1)">Oct-26</text>
<rect x="1703" y="406.90" width="26" height="25.77" fill="#B3ECFF"/>
<text transform="translate(1739.0,426.78) scale(1.06,1)">Nov-02</text>
<rect x="1703" y="432.37" width="26" height="25.77" fill="#87D4F0"/>
<text transform="translate(1739.0,452.25) scale(1.06,1)">Nov-09</text>
<rect x="1703" y="457.84" width="26" height="25.77" fill="#5BBCE1"/>
<text transform="translate(1739.0,477.72) scale(1.06,1)">Nov-16</text>
<rect x="1703" y="483.31" width="26" height="25.77" fill="#2EA4DA"/>
<text transform="translate(1739.0,503.19) scale(1.06,1)">Nov-23</text>
<rect x="1703" y="508.78" width="26" height="25.77" fill="#028CD2"/>
<text transform="translate(1739.0,528.66) scale(1.06,1)">Nov-30</text>
<rect x="1703" y="534.25" width="26" height="25.77" fill="#A1C4E7"/>
<text transform="translate(1739.0,554.13) scale(1.06,1)">Dec-07</text>
<rect x="1703" y="559.72" width="26" height="25.77" fill="#7B94EB"/>
<text transform="translate(1739.0,579.61) scale(1.06,1)">Dec-14</text>
<rect x="1703" y="585.19" width="26" height="25.77" fill="#5563EF"/>
<text transform="translate(1739.0,605.07) scale(1.06,1)">Dec-21</text>
<rect x="1703" y="610.66" width="26" height="25.77" fill="#2E33F6"/>
<text transform="translate(1739.0,630.54) scale(1.06,1)">Dec-28</text>
</g>
</g>
</svg>
</body></html>
